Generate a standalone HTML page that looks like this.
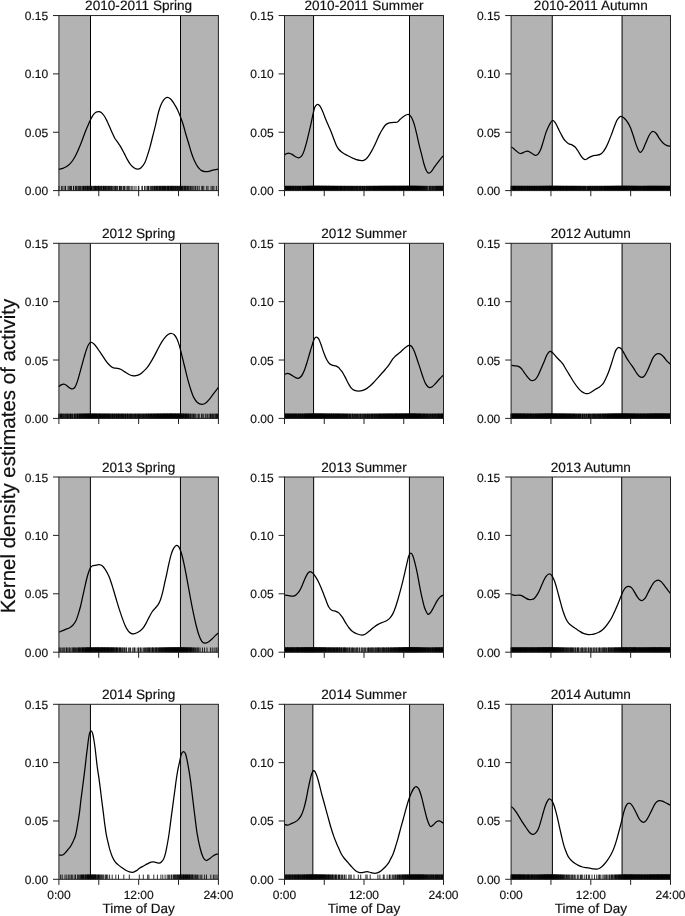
<!DOCTYPE html>
<html><head><meta charset="utf-8"><title>Kernel density estimates of activity</title>
<style>html,body{margin:0;padding:0;background:#fff;width:685px;height:916px;overflow:hidden}svg{display:block;will-change:transform}text{font-family:"Liberation Sans",sans-serif;text-rendering:geometricPrecision;stroke:#111;stroke-width:0.18px}</style>
</head><body>
<svg width="685" height="916" viewBox="0 0 685 916"><rect x="58.90" y="15.55" width="31.60" height="175.05" fill="#b3b3b3"/>
<rect x="180.50" y="15.55" width="37.90" height="175.05" fill="#b3b3b3"/>
<path d="M59.0 185.9v4.7M61.6 185.9v4.7M62.9 185.9v4.7M65.0 185.9v4.7M65.5 185.9v4.7M68.1 185.9v4.7M69.3 185.9v4.7M70.5 185.9v4.7M71.5 185.9v4.7M73.5 185.9v4.7M73.7 185.9v4.7M75.6 185.9v4.7M76.1 185.9v4.7M76.8 185.9v4.7M78.1 185.9v4.7M78.8 185.9v4.7M79.6 185.9v4.7M80.5 185.9v4.7M81.9 185.9v4.7M82.3 185.9v4.7M83.5 185.9v4.7M83.4 185.9v4.7M84.5 185.9v4.7M85.4 185.9v4.7M85.9 185.9v4.7M86.2 185.9v4.7M87.2 185.9v4.7M87.4 185.9v4.7M87.6 185.9v4.7M88.6 185.9v4.7M88.9 185.9v4.7M89.7 185.9v4.7M90.1 185.9v4.7M90.7 185.9v4.7M91.1 185.9v4.7M91.5 185.9v4.7M91.9 185.9v4.7M92.9 185.9v4.7M93.1 185.9v4.7M93.8 185.9v4.7M94.4 185.9v4.7M94.8 185.9v4.7M95.3 185.9v4.7M95.6 185.9v4.7M95.9 185.9v4.7M96.5 185.9v4.7M97.2 185.9v4.7M97.7 185.9v4.7M98.2 185.9v4.7M98.4 185.9v4.7M98.7 185.9v4.7M99.3 185.9v4.7M99.9 185.9v4.7M100.1 185.9v4.7M100.9 185.9v4.7M101.4 185.9v4.7M101.3 185.9v4.7M102.2 185.9v4.7M103.0 185.9v4.7M103.5 185.9v4.7M103.7 185.9v4.7M104.0 185.9v4.7M104.3 185.9v4.7M105.1 185.9v4.7M105.4 185.9v4.7M106.0 185.9v4.7M106.4 185.9v4.7M107.1 185.9v4.7M107.9 185.9v4.7M108.1 185.9v4.7M108.6 185.9v4.7M109.3 185.9v4.7M109.7 185.9v4.7M110.6 185.9v4.7M111.2 185.9v4.7M111.3 185.9v4.7M112.2 185.9v4.7M112.9 185.9v4.7M113.9 185.9v4.7M114.3 185.9v4.7M115.4 185.9v4.7M115.7 185.9v4.7M116.7 185.9v4.7M117.2 185.9v4.7M117.9 185.9v4.7M119.5 185.9v4.7M119.7 185.9v4.7M120.5 185.9v4.7M121.6 185.9v4.7M122.0 185.9v4.7M123.5 185.9v4.7M124.5 185.9v4.7M125.1 185.9v4.7M126.8 185.9v4.7M127.7 185.9v4.7M128.4 185.9v4.7M129.7 185.9v4.7M131.1 185.9v4.7M132.2 185.9v4.7M134.1 185.9v4.7M136.0 185.9v4.7M138.3 185.9v4.7M138.9 185.9v4.7M142.0 185.9v4.7M142.3 185.9v4.7M144.5 185.9v4.7M145.9 185.9v4.7M147.2 185.9v4.7M147.8 185.9v4.7M148.5 185.9v4.7M149.1 185.9v4.7M150.6 185.9v4.7M151.4 185.9v4.7M152.1 185.9v4.7M152.6 185.9v4.7M153.7 185.9v4.7M154.2 185.9v4.7M154.4 185.9v4.7M154.8 185.9v4.7M155.5 185.9v4.7M156.5 185.9v4.7M156.7 185.9v4.7M157.4 185.9v4.7M157.8 185.9v4.7M158.1 185.9v4.7M158.9 185.9v4.7M159.4 185.9v4.7M159.7 185.9v4.7M160.0 185.9v4.7M160.6 185.9v4.7M161.0 185.9v4.7M161.1 185.9v4.7M162.1 185.9v4.7M162.1 185.9v4.7M162.7 185.9v4.7M163.0 185.9v4.7M163.5 185.9v4.7M164.1 185.9v4.7M164.1 185.9v4.7M164.7 185.9v4.7M164.8 185.9v4.7M165.6 185.9v4.7M165.9 185.9v4.7M166.0 185.9v4.7M167.0 185.9v4.7M167.3 185.9v4.7M167.4 185.9v4.7M168.2 185.9v4.7M168.4 185.9v4.7M168.7 185.9v4.7M168.8 185.9v4.7M169.3 185.9v4.7M170.1 185.9v4.7M170.4 185.9v4.7M170.9 185.9v4.7M170.9 185.9v4.7M171.5 185.9v4.7M172.1 185.9v4.7M172.2 185.9v4.7M172.9 185.9v4.7M173.0 185.9v4.7M173.3 185.9v4.7M174.0 185.9v4.7M174.2 185.9v4.7M174.7 185.9v4.7M175.5 185.9v4.7M175.7 185.9v4.7M176.3 185.9v4.7M176.8 185.9v4.7M177.3 185.9v4.7M177.6 185.9v4.7M177.9 185.9v4.7M178.6 185.9v4.7M179.1 185.9v4.7M179.5 185.9v4.7M180.0 185.9v4.7M180.7 185.9v4.7M181.2 185.9v4.7M181.3 185.9v4.7M181.8 185.9v4.7M182.7 185.9v4.7M182.8 185.9v4.7M184.0 185.9v4.7M184.2 185.9v4.7M184.9 185.9v4.7M185.4 185.9v4.7M185.8 185.9v4.7M186.9 185.9v4.7M187.3 185.9v4.7M187.8 185.9v4.7M188.6 185.9v4.7M189.9 185.9v4.7M190.4 185.9v4.7M191.3 185.9v4.7M192.7 185.9v4.7M193.9 185.9v4.7M195.2 185.9v4.7M195.9 185.9v4.7M197.6 185.9v4.7M199.2 185.9v4.7M201.8 185.9v4.7M202.4 185.9v4.7M203.8 185.9v4.7M206.7 185.9v4.7M208.0 185.9v4.7M211.1 185.9v4.7M212.7 185.9v4.7M213.9 185.9v4.7M216.4 185.9v4.7M218.5 185.9v4.7" stroke="#000" stroke-width="0.9" stroke-opacity="0.9" fill="none"/>
<path d="M90.50,15.55V190.60M180.50,15.55V190.60" stroke="#000" stroke-width="1" fill="none"/>
<path d="M58.80,169.30 C59.57,169.10 61.85,168.72 63.40,168.10 C64.95,167.48 66.55,166.87 68.10,165.60 C69.65,164.33 71.32,162.43 72.70,160.50 C74.08,158.57 75.23,156.32 76.40,154.00 C77.57,151.68 78.62,149.22 79.70,146.60 C80.78,143.98 81.90,140.93 82.90,138.30 C83.90,135.67 84.77,133.13 85.70,130.80 C86.63,128.47 87.70,126.15 88.50,124.30 C89.30,122.45 89.73,121.23 90.50,119.70 C91.27,118.17 92.20,116.33 93.10,115.10 C94.00,113.87 94.97,112.88 95.90,112.30 C96.83,111.72 97.77,111.53 98.70,111.60 C99.63,111.67 100.57,111.97 101.50,112.70 C102.43,113.43 103.38,114.62 104.30,116.00 C105.22,117.38 106.13,119.25 107.00,121.00 C107.87,122.75 108.62,124.50 109.50,126.50 C110.38,128.50 111.42,131.03 112.30,133.00 C113.18,134.97 113.83,136.65 114.80,138.30 C115.77,139.95 117.08,141.43 118.10,142.90 C119.12,144.37 119.90,145.40 120.90,147.10 C121.90,148.80 123.02,151.02 124.10,153.10 C125.18,155.18 126.32,157.67 127.40,159.60 C128.48,161.53 129.45,163.30 130.60,164.70 C131.75,166.10 133.13,167.25 134.30,168.00 C135.47,168.75 136.52,169.20 137.60,169.20 C138.68,169.20 139.65,168.98 140.80,168.00 C141.95,167.02 143.42,165.32 144.50,163.30 C145.58,161.28 146.37,158.68 147.30,155.90 C148.23,153.12 149.17,150.00 150.10,146.60 C151.03,143.20 151.97,139.22 152.90,135.50 C153.83,131.78 154.80,128.05 155.70,124.30 C156.60,120.55 157.48,116.08 158.30,113.00 C159.12,109.92 159.67,108.02 160.60,105.80 C161.53,103.58 162.82,101.10 163.90,99.70 C164.98,98.30 165.98,97.52 167.10,97.40 C168.22,97.28 169.45,97.97 170.60,99.00 C171.75,100.03 172.83,101.78 174.00,103.60 C175.17,105.42 176.52,107.67 177.60,109.90 C178.68,112.13 179.55,114.48 180.50,117.00 C181.45,119.52 182.42,122.17 183.30,125.00 C184.18,127.83 184.92,130.95 185.80,134.00 C186.68,137.05 187.68,140.22 188.60,143.30 C189.52,146.38 190.38,149.72 191.30,152.50 C192.22,155.28 193.02,157.60 194.10,160.00 C195.18,162.40 196.55,165.13 197.80,166.90 C199.05,168.67 200.35,169.82 201.60,170.60 C202.85,171.38 204.07,171.48 205.30,171.60 C206.53,171.72 207.77,171.53 209.00,171.30 C210.23,171.07 211.15,170.55 212.70,170.20 C214.25,169.85 217.37,169.37 218.30,169.20" stroke="#000" stroke-width="1.25" fill="none" stroke-linejoin="round"/>
<rect x="58.90" y="15.55" width="159.50" height="175.05" fill="none" stroke="#222" stroke-width="1"/>
<path d="M53.00,190.60H58.90" stroke="#222" stroke-width="1"/>
<text x="48.10" y="195.10" font-size="12" text-anchor="end" font-family="Liberation Sans, sans-serif" fill="#111">0.00</text>
<path d="M53.00,132.25H58.90" stroke="#222" stroke-width="1"/>
<text x="48.10" y="136.75" font-size="12" text-anchor="end" font-family="Liberation Sans, sans-serif" fill="#111">0.05</text>
<path d="M53.00,73.90H58.90" stroke="#222" stroke-width="1"/>
<text x="48.10" y="78.40" font-size="12" text-anchor="end" font-family="Liberation Sans, sans-serif" fill="#111">0.10</text>
<path d="M53.00,15.55H58.90" stroke="#222" stroke-width="1"/>
<text x="48.10" y="20.05" font-size="12" text-anchor="end" font-family="Liberation Sans, sans-serif" fill="#111">0.15</text>
<path d="M58.90,190.60V196.20" stroke="#222" stroke-width="1"/>
<path d="M98.78,190.60V196.20" stroke="#222" stroke-width="1"/>
<path d="M138.65,190.60V196.20" stroke="#222" stroke-width="1"/>
<path d="M178.53,190.60V196.20" stroke="#222" stroke-width="1"/>
<path d="M218.40,190.60V196.20" stroke="#222" stroke-width="1"/>
<text x="138.65" y="10.15" font-size="13.6" text-anchor="middle" font-family="Liberation Sans, sans-serif" fill="#111">2010-2011 Spring</text>
<rect x="284.50" y="15.55" width="29.05" height="175.05" fill="#b3b3b3"/>
<rect x="409.50" y="15.55" width="34.00" height="175.05" fill="#b3b3b3"/>
<path d="M284.8 185.9v4.7M284.7 185.9v4.7M285.3 185.9v4.7M285.6 185.9v4.7M286.1 185.9v4.7M286.3 185.9v4.7M286.6 185.9v4.7M286.9 185.9v4.7M287.5 185.9v4.7M287.6 185.9v4.7M288.2 185.9v4.7M288.6 185.9v4.7M288.8 185.9v4.7M289.1 185.9v4.7M289.5 185.9v4.7M289.7 185.9v4.7M290.0 185.9v4.7M290.3 185.9v4.7M290.7 185.9v4.7M291.0 185.9v4.7M291.2 185.9v4.7M291.8 185.9v4.7M291.9 185.9v4.7M292.4 185.9v4.7M292.8 185.9v4.7M293.2 185.9v4.7M293.5 185.9v4.7M293.8 185.9v4.7M294.0 185.9v4.7M294.8 185.9v4.7M295.0 185.9v4.7M295.3 185.9v4.7M295.8 185.9v4.7M295.9 185.9v4.7M296.3 185.9v4.7M296.8 185.9v4.7M297.4 185.9v4.7M297.6 185.9v4.7M297.8 185.9v4.7M298.2 185.9v4.7M298.7 185.9v4.7M298.9 185.9v4.7M299.5 185.9v4.7M299.7 185.9v4.7M300.3 185.9v4.7M300.5 185.9v4.7M300.9 185.9v4.7M300.9 185.9v4.7M301.8 185.9v4.7M302.3 185.9v4.7M302.5 185.9v4.7M302.7 185.9v4.7M303.4 185.9v4.7M303.2 185.9v4.7M303.8 185.9v4.7M303.9 185.9v4.7M304.2 185.9v4.7M304.6 185.9v4.7M305.1 185.9v4.7M305.3 185.9v4.7M305.6 185.9v4.7M305.8 185.9v4.7M306.0 185.9v4.7M306.3 185.9v4.7M306.8 185.9v4.7M307.1 185.9v4.7M307.3 185.9v4.7M307.2 185.9v4.7M307.8 185.9v4.7M307.7 185.9v4.7M308.2 185.9v4.7M308.1 185.9v4.7M308.6 185.9v4.7M308.7 185.9v4.7M308.9 185.9v4.7M309.4 185.9v4.7M309.5 185.9v4.7M309.8 185.9v4.7M309.7 185.9v4.7M309.9 185.9v4.7M310.1 185.9v4.7M310.5 185.9v4.7M310.6 185.9v4.7M310.8 185.9v4.7M311.1 185.9v4.7M311.0 185.9v4.7M311.3 185.9v4.7M311.6 185.9v4.7M311.7 185.9v4.7M311.9 185.9v4.7M312.1 185.9v4.7M312.3 185.9v4.7M312.5 185.9v4.7M312.6 185.9v4.7M312.7 185.9v4.7M312.9 185.9v4.7M313.2 185.9v4.7M313.3 185.9v4.7M313.4 185.9v4.7M313.4 185.9v4.7M313.8 185.9v4.7M313.8 185.9v4.7M314.1 185.9v4.7M314.2 185.9v4.7M314.2 185.9v4.7M314.4 185.9v4.7M314.4 185.9v4.7M314.8 185.9v4.7M314.9 185.9v4.7M315.3 185.9v4.7M315.3 185.9v4.7M315.6 185.9v4.7M315.5 185.9v4.7M315.7 185.9v4.7M315.7 185.9v4.7M315.9 185.9v4.7M316.2 185.9v4.7M316.2 185.9v4.7M316.5 185.9v4.7M316.6 185.9v4.7M316.6 185.9v4.7M317.1 185.9v4.7M317.0 185.9v4.7M317.4 185.9v4.7M317.3 185.9v4.7M317.4 185.9v4.7M317.6 185.9v4.7M317.8 185.9v4.7M317.7 185.9v4.7M318.0 185.9v4.7M318.3 185.9v4.7M318.1 185.9v4.7M318.4 185.9v4.7M318.4 185.9v4.7M318.6 185.9v4.7M319.1 185.9v4.7M319.1 185.9v4.7M319.2 185.9v4.7M319.6 185.9v4.7M319.4 185.9v4.7M319.6 185.9v4.7M319.7 185.9v4.7M320.0 185.9v4.7M319.9 185.9v4.7M320.2 185.9v4.7M320.6 185.9v4.7M320.5 185.9v4.7M320.8 185.9v4.7M321.1 185.9v4.7M321.1 185.9v4.7M321.4 185.9v4.7M321.6 185.9v4.7M321.4 185.9v4.7M321.7 185.9v4.7M321.9 185.9v4.7M322.0 185.9v4.7M321.9 185.9v4.7M322.3 185.9v4.7M322.4 185.9v4.7M322.4 185.9v4.7M322.7 185.9v4.7M322.7 185.9v4.7M323.0 185.9v4.7M323.3 185.9v4.7M323.6 185.9v4.7M323.5 185.9v4.7M323.8 185.9v4.7M323.7 185.9v4.7M324.1 185.9v4.7M324.2 185.9v4.7M324.5 185.9v4.7M324.6 185.9v4.7M324.8 185.9v4.7M325.1 185.9v4.7M324.9 185.9v4.7M325.2 185.9v4.7M325.4 185.9v4.7M325.5 185.9v4.7M325.8 185.9v4.7M326.0 185.9v4.7M326.0 185.9v4.7M326.3 185.9v4.7M326.5 185.9v4.7M326.6 185.9v4.7M326.7 185.9v4.7M327.1 185.9v4.7M327.3 185.9v4.7M327.6 185.9v4.7M327.9 185.9v4.7M327.8 185.9v4.7M328.0 185.9v4.7M328.4 185.9v4.7M328.5 185.9v4.7M328.5 185.9v4.7M328.8 185.9v4.7M329.0 185.9v4.7M329.3 185.9v4.7M329.2 185.9v4.7M329.5 185.9v4.7M329.7 185.9v4.7M330.1 185.9v4.7M329.9 185.9v4.7M330.2 185.9v4.7M330.4 185.9v4.7M330.8 185.9v4.7M330.6 185.9v4.7M331.3 185.9v4.7M331.3 185.9v4.7M331.5 185.9v4.7M332.1 185.9v4.7M332.1 185.9v4.7M332.3 185.9v4.7M332.5 185.9v4.7M332.8 185.9v4.7M333.1 185.9v4.7M333.3 185.9v4.7M333.4 185.9v4.7M333.6 185.9v4.7M334.0 185.9v4.7M334.2 185.9v4.7M334.6 185.9v4.7M334.6 185.9v4.7M335.0 185.9v4.7M335.0 185.9v4.7M335.4 185.9v4.7M335.5 185.9v4.7M336.1 185.9v4.7M336.5 185.9v4.7M336.5 185.9v4.7M336.8 185.9v4.7M337.4 185.9v4.7M337.3 185.9v4.7M337.7 185.9v4.7M338.0 185.9v4.7M338.4 185.9v4.7M338.5 185.9v4.7M339.1 185.9v4.7M339.2 185.9v4.7M339.6 185.9v4.7M340.0 185.9v4.7M340.4 185.9v4.7M340.5 185.9v4.7M340.8 185.9v4.7M341.1 185.9v4.7M341.5 185.9v4.7M341.7 185.9v4.7M342.0 185.9v4.7M342.2 185.9v4.7M342.8 185.9v4.7M342.9 185.9v4.7M343.4 185.9v4.7M343.8 185.9v4.7M344.2 185.9v4.7M344.5 185.9v4.7M344.7 185.9v4.7M345.3 185.9v4.7M345.2 185.9v4.7M345.9 185.9v4.7M345.9 185.9v4.7M346.6 185.9v4.7M346.8 185.9v4.7M347.2 185.9v4.7M347.6 185.9v4.7M348.0 185.9v4.7M348.4 185.9v4.7M348.7 185.9v4.7M349.0 185.9v4.7M349.4 185.9v4.7M349.7 185.9v4.7M350.1 185.9v4.7M350.6 185.9v4.7M350.9 185.9v4.7M351.3 185.9v4.7M351.5 185.9v4.7M352.2 185.9v4.7M352.4 185.9v4.7M352.8 185.9v4.7M353.0 185.9v4.7M353.6 185.9v4.7M353.9 185.9v4.7M354.3 185.9v4.7M354.7 185.9v4.7M355.2 185.9v4.7M355.4 185.9v4.7M356.0 185.9v4.7M356.6 185.9v4.7M356.8 185.9v4.7M357.1 185.9v4.7M357.7 185.9v4.7M357.8 185.9v4.7M358.2 185.9v4.7M358.8 185.9v4.7M359.4 185.9v4.7M359.8 185.9v4.7M360.0 185.9v4.7M360.3 185.9v4.7M360.7 185.9v4.7M361.2 185.9v4.7M361.8 185.9v4.7M362.1 185.9v4.7M362.5 185.9v4.7M362.7 185.9v4.7M363.5 185.9v4.7M364.1 185.9v4.7M364.2 185.9v4.7M364.4 185.9v4.7M364.7 185.9v4.7M365.3 185.9v4.7M366.0 185.9v4.7M366.2 185.9v4.7M366.5 185.9v4.7M367.2 185.9v4.7M367.1 185.9v4.7M367.8 185.9v4.7M367.9 185.9v4.7M368.6 185.9v4.7M368.8 185.9v4.7M369.1 185.9v4.7M369.4 185.9v4.7M369.8 185.9v4.7M370.1 185.9v4.7M370.6 185.9v4.7M370.7 185.9v4.7M371.1 185.9v4.7M371.4 185.9v4.7M371.9 185.9v4.7M372.2 185.9v4.7M372.4 185.9v4.7M372.7 185.9v4.7M373.2 185.9v4.7M373.5 185.9v4.7M373.8 185.9v4.7M374.0 185.9v4.7M374.3 185.9v4.7M374.5 185.9v4.7M374.7 185.9v4.7M375.3 185.9v4.7M375.1 185.9v4.7M375.4 185.9v4.7M375.7 185.9v4.7M376.2 185.9v4.7M376.3 185.9v4.7M376.7 185.9v4.7M376.7 185.9v4.7M377.3 185.9v4.7M377.6 185.9v4.7M377.8 185.9v4.7M377.7 185.9v4.7M378.2 185.9v4.7M378.4 185.9v4.7M378.7 185.9v4.7M379.1 185.9v4.7M379.1 185.9v4.7M379.3 185.9v4.7M379.5 185.9v4.7M379.8 185.9v4.7M380.0 185.9v4.7M380.3 185.9v4.7M380.4 185.9v4.7M380.8 185.9v4.7M380.8 185.9v4.7M381.0 185.9v4.7M381.3 185.9v4.7M381.6 185.9v4.7M381.8 185.9v4.7M381.7 185.9v4.7M382.0 185.9v4.7M382.1 185.9v4.7M382.4 185.9v4.7M382.7 185.9v4.7M382.9 185.9v4.7M383.3 185.9v4.7M383.3 185.9v4.7M383.6 185.9v4.7M383.8 185.9v4.7M383.7 185.9v4.7M384.3 185.9v4.7M384.3 185.9v4.7M384.5 185.9v4.7M384.8 185.9v4.7M384.7 185.9v4.7M385.0 185.9v4.7M385.2 185.9v4.7M385.5 185.9v4.7M385.6 185.9v4.7M385.8 185.9v4.7M386.0 185.9v4.7M386.2 185.9v4.7M386.6 185.9v4.7M386.6 185.9v4.7M386.8 185.9v4.7M387.1 185.9v4.7M387.0 185.9v4.7M387.5 185.9v4.7M387.5 185.9v4.7M387.7 185.9v4.7M388.1 185.9v4.7M388.0 185.9v4.7M388.3 185.9v4.7M388.6 185.9v4.7M388.5 185.9v4.7M388.6 185.9v4.7M388.9 185.9v4.7M389.3 185.9v4.7M389.4 185.9v4.7M389.6 185.9v4.7M389.9 185.9v4.7M390.0 185.9v4.7M390.3 185.9v4.7M390.5 185.9v4.7M390.4 185.9v4.7M390.9 185.9v4.7M391.0 185.9v4.7M390.9 185.9v4.7M391.4 185.9v4.7M391.4 185.9v4.7M391.8 185.9v4.7M391.8 185.9v4.7M392.1 185.9v4.7M392.3 185.9v4.7M392.5 185.9v4.7M392.6 185.9v4.7M392.8 185.9v4.7M393.0 185.9v4.7M393.2 185.9v4.7M393.4 185.9v4.7M393.6 185.9v4.7M393.7 185.9v4.7M393.8 185.9v4.7M394.0 185.9v4.7M394.3 185.9v4.7M394.5 185.9v4.7M394.4 185.9v4.7M394.7 185.9v4.7M395.1 185.9v4.7M394.9 185.9v4.7M395.3 185.9v4.7M395.5 185.9v4.7M395.7 185.9v4.7M395.7 185.9v4.7M395.9 185.9v4.7M396.2 185.9v4.7M396.2 185.9v4.7M396.6 185.9v4.7M396.7 185.9v4.7M397.1 185.9v4.7M397.3 185.9v4.7M397.2 185.9v4.7M397.4 185.9v4.7M397.6 185.9v4.7M398.0 185.9v4.7M398.0 185.9v4.7M398.3 185.9v4.7M398.2 185.9v4.7M398.4 185.9v4.7M398.9 185.9v4.7M399.1 185.9v4.7M399.1 185.9v4.7M399.3 185.9v4.7M399.6 185.9v4.7M399.7 185.9v4.7M399.8 185.9v4.7M400.0 185.9v4.7M400.2 185.9v4.7M400.3 185.9v4.7M400.6 185.9v4.7M400.8 185.9v4.7M400.8 185.9v4.7M400.9 185.9v4.7M401.3 185.9v4.7M401.6 185.9v4.7M401.8 185.9v4.7M401.9 185.9v4.7M402.1 185.9v4.7M401.9 185.9v4.7M402.2 185.9v4.7M402.5 185.9v4.7M402.8 185.9v4.7M402.8 185.9v4.7M403.1 185.9v4.7M403.3 185.9v4.7M403.6 185.9v4.7M403.4 185.9v4.7M403.6 185.9v4.7M403.8 185.9v4.7M403.9 185.9v4.7M404.3 185.9v4.7M404.4 185.9v4.7M404.4 185.9v4.7M404.6 185.9v4.7M404.7 185.9v4.7M405.0 185.9v4.7M405.3 185.9v4.7M405.2 185.9v4.7M405.6 185.9v4.7M405.8 185.9v4.7M405.8 185.9v4.7M406.1 185.9v4.7M406.2 185.9v4.7M406.4 185.9v4.7M406.5 185.9v4.7M406.8 185.9v4.7M406.9 185.9v4.7M407.1 185.9v4.7M407.2 185.9v4.7M407.5 185.9v4.7M407.5 185.9v4.7M407.7 185.9v4.7M407.8 185.9v4.7M407.9 185.9v4.7M408.3 185.9v4.7M408.3 185.9v4.7M408.6 185.9v4.7M408.9 185.9v4.7M409.0 185.9v4.7M409.0 185.9v4.7M409.1 185.9v4.7M409.2 185.9v4.7M409.5 185.9v4.7M409.7 185.9v4.7M409.8 185.9v4.7M410.0 185.9v4.7M410.1 185.9v4.7M410.2 185.9v4.7M410.6 185.9v4.7M410.7 185.9v4.7M410.8 185.9v4.7M411.1 185.9v4.7M411.3 185.9v4.7M411.1 185.9v4.7M411.6 185.9v4.7M411.9 185.9v4.7M412.0 185.9v4.7M411.9 185.9v4.7M412.4 185.9v4.7M412.1 185.9v4.7M412.6 185.9v4.7M412.7 185.9v4.7M413.0 185.9v4.7M413.2 185.9v4.7M413.6 185.9v4.7M413.4 185.9v4.7M413.9 185.9v4.7M413.9 185.9v4.7M414.0 185.9v4.7M414.1 185.9v4.7M414.6 185.9v4.7M414.6 185.9v4.7M414.8 185.9v4.7M415.0 185.9v4.7M415.2 185.9v4.7M415.2 185.9v4.7M415.7 185.9v4.7M415.7 185.9v4.7M416.1 185.9v4.7M416.4 185.9v4.7M416.4 185.9v4.7M416.6 185.9v4.7M416.9 185.9v4.7M417.0 185.9v4.7M417.3 185.9v4.7M417.6 185.9v4.7M417.8 185.9v4.7M417.9 185.9v4.7M418.2 185.9v4.7M418.5 185.9v4.7M418.7 185.9v4.7M419.2 185.9v4.7M419.5 185.9v4.7M419.6 185.9v4.7M419.9 185.9v4.7M420.3 185.9v4.7M420.7 185.9v4.7M421.0 185.9v4.7M421.2 185.9v4.7M421.8 185.9v4.7M422.3 185.9v4.7M422.3 185.9v4.7M422.7 185.9v4.7M423.3 185.9v4.7M423.7 185.9v4.7M424.1 185.9v4.7M424.5 185.9v4.7M425.1 185.9v4.7M425.7 185.9v4.7M426.0 185.9v4.7M426.5 185.9v4.7M427.7 185.9v4.7M428.0 185.9v4.7M429.3 185.9v4.7M429.7 185.9v4.7M430.3 185.9v4.7M430.8 185.9v4.7M431.3 185.9v4.7M432.2 185.9v4.7M432.5 185.9v4.7M433.6 185.9v4.7M434.2 185.9v4.7M434.2 185.9v4.7M435.3 185.9v4.7M435.3 185.9v4.7M436.3 185.9v4.7M436.6 185.9v4.7M436.9 185.9v4.7M437.5 185.9v4.7M438.0 185.9v4.7M438.2 185.9v4.7M438.7 185.9v4.7M439.1 185.9v4.7M439.6 185.9v4.7M440.0 185.9v4.7M440.4 185.9v4.7M440.7 185.9v4.7M441.1 185.9v4.7M441.8 185.9v4.7M441.8 185.9v4.7M442.2 185.9v4.7M442.6 185.9v4.7M443.0 185.9v4.7M443.5 185.9v4.7" stroke="#000" stroke-width="0.9" stroke-opacity="0.9" fill="none"/>
<path d="M313.55,15.55V190.60M409.50,15.55V190.60" stroke="#000" stroke-width="1" fill="none"/>
<path d="M284.50,154.90 C284.85,154.68 285.78,153.87 286.60,153.60 C287.42,153.33 288.47,153.17 289.40,153.30 C290.33,153.43 291.18,153.83 292.20,154.40 C293.22,154.97 294.42,156.13 295.50,156.70 C296.58,157.27 297.70,157.88 298.70,157.80 C299.70,157.72 300.65,157.23 301.50,156.20 C302.35,155.17 303.03,153.60 303.80,151.60 C304.57,149.60 305.33,146.98 306.10,144.20 C306.87,141.42 307.62,138.15 308.40,134.90 C309.18,131.65 310.02,128.25 310.80,124.70 C311.58,121.15 312.42,116.53 313.10,113.60 C313.78,110.67 314.17,108.65 314.90,107.10 C315.63,105.55 316.65,104.47 317.50,104.30 C318.35,104.13 319.12,104.87 320.00,106.10 C320.88,107.33 321.87,109.53 322.80,111.70 C323.73,113.87 324.67,116.78 325.60,119.10 C326.53,121.42 327.47,123.43 328.40,125.60 C329.33,127.77 330.27,129.78 331.20,132.10 C332.13,134.42 333.12,137.22 334.00,139.50 C334.88,141.78 335.75,144.22 336.50,145.80 C337.25,147.38 337.65,147.95 338.50,149.00 C339.35,150.05 340.47,151.20 341.60,152.10 C342.73,153.00 344.07,153.72 345.30,154.40 C346.53,155.08 347.77,155.58 349.00,156.20 C350.23,156.82 351.47,157.52 352.70,158.10 C353.93,158.68 355.23,159.32 356.40,159.70 C357.57,160.08 358.62,160.25 359.70,160.40 C360.78,160.55 361.90,160.78 362.90,160.60 C363.90,160.42 364.77,160.03 365.70,159.30 C366.63,158.57 367.57,157.48 368.50,156.20 C369.43,154.92 370.38,153.22 371.30,151.60 C372.22,149.98 373.08,148.35 374.00,146.50 C374.92,144.65 375.87,142.52 376.80,140.50 C377.73,138.48 378.67,136.27 379.60,134.40 C380.53,132.53 381.47,130.83 382.40,129.30 C383.33,127.77 384.27,126.20 385.20,125.20 C386.13,124.20 386.92,123.73 388.00,123.30 C389.08,122.87 390.53,122.75 391.70,122.60 C392.87,122.45 394.03,122.50 395.00,122.40 C395.97,122.30 396.63,122.52 397.50,122.00 C398.37,121.48 399.13,120.27 400.20,119.30 C401.27,118.33 402.67,117.00 403.90,116.20 C405.13,115.40 406.58,114.63 407.60,114.50 C408.62,114.37 409.22,114.63 410.00,115.40 C410.78,116.17 411.53,117.40 412.30,119.10 C413.07,120.80 413.83,122.97 414.60,125.60 C415.37,128.23 416.13,131.65 416.90,134.90 C417.67,138.15 418.42,141.85 419.20,145.10 C419.98,148.35 420.82,151.30 421.60,154.40 C422.38,157.50 423.13,161.07 423.90,163.70 C424.67,166.33 425.43,168.62 426.20,170.20 C426.97,171.78 427.65,172.97 428.50,173.20 C429.35,173.43 430.30,172.65 431.30,171.60 C432.30,170.55 433.33,168.53 434.50,166.90 C435.67,165.27 437.05,163.42 438.30,161.80 C439.55,160.18 441.13,158.20 442.00,157.20 C442.87,156.20 443.25,156.03 443.50,155.80" stroke="#000" stroke-width="1.25" fill="none" stroke-linejoin="round"/>
<rect x="284.50" y="15.55" width="159.00" height="175.05" fill="none" stroke="#222" stroke-width="1"/>
<path d="M278.60,190.60H284.50" stroke="#222" stroke-width="1"/>
<text x="273.70" y="195.10" font-size="12" text-anchor="end" font-family="Liberation Sans, sans-serif" fill="#111">0.00</text>
<path d="M278.60,132.25H284.50" stroke="#222" stroke-width="1"/>
<text x="273.70" y="136.75" font-size="12" text-anchor="end" font-family="Liberation Sans, sans-serif" fill="#111">0.05</text>
<path d="M278.60,73.90H284.50" stroke="#222" stroke-width="1"/>
<text x="273.70" y="78.40" font-size="12" text-anchor="end" font-family="Liberation Sans, sans-serif" fill="#111">0.10</text>
<path d="M278.60,15.55H284.50" stroke="#222" stroke-width="1"/>
<text x="273.70" y="20.05" font-size="12" text-anchor="end" font-family="Liberation Sans, sans-serif" fill="#111">0.15</text>
<path d="M284.50,190.60V196.20" stroke="#222" stroke-width="1"/>
<path d="M324.25,190.60V196.20" stroke="#222" stroke-width="1"/>
<path d="M364.00,190.60V196.20" stroke="#222" stroke-width="1"/>
<path d="M403.75,190.60V196.20" stroke="#222" stroke-width="1"/>
<path d="M443.50,190.60V196.20" stroke="#222" stroke-width="1"/>
<text x="364.00" y="10.15" font-size="13.6" text-anchor="middle" font-family="Liberation Sans, sans-serif" fill="#111">2010-2011 Summer</text>
<rect x="511.10" y="15.55" width="41.15" height="175.05" fill="#b3b3b3"/>
<rect x="622.05" y="15.55" width="48.45" height="175.05" fill="#b3b3b3"/>
<path d="M511.1 185.9v4.7M511.3 185.9v4.7M511.5 185.9v4.7M511.8 185.9v4.7M512.1 185.9v4.7M512.7 185.9v4.7M512.9 185.9v4.7M513.3 185.9v4.7M513.3 185.9v4.7M513.6 185.9v4.7M514.0 185.9v4.7M514.5 185.9v4.7M514.5 185.9v4.7M514.9 185.9v4.7M515.2 185.9v4.7M515.4 185.9v4.7M515.7 185.9v4.7M516.0 185.9v4.7M516.3 185.9v4.7M516.8 185.9v4.7M517.0 185.9v4.7M517.5 185.9v4.7M517.8 185.9v4.7M518.1 185.9v4.7M518.3 185.9v4.7M518.9 185.9v4.7M519.0 185.9v4.7M519.5 185.9v4.7M519.9 185.9v4.7M519.9 185.9v4.7M520.2 185.9v4.7M520.6 185.9v4.7M521.1 185.9v4.7M521.6 185.9v4.7M521.5 185.9v4.7M522.0 185.9v4.7M522.7 185.9v4.7M522.5 185.9v4.7M523.1 185.9v4.7M523.2 185.9v4.7M523.5 185.9v4.7M524.1 185.9v4.7M524.6 185.9v4.7M524.9 185.9v4.7M525.1 185.9v4.7M525.4 185.9v4.7M525.9 185.9v4.7M526.0 185.9v4.7M526.2 185.9v4.7M526.9 185.9v4.7M527.2 185.9v4.7M527.3 185.9v4.7M527.6 185.9v4.7M527.8 185.9v4.7M528.0 185.9v4.7M528.4 185.9v4.7M528.9 185.9v4.7M529.1 185.9v4.7M529.5 185.9v4.7M529.6 185.9v4.7M530.1 185.9v4.7M530.4 185.9v4.7M530.8 185.9v4.7M531.2 185.9v4.7M531.7 185.9v4.7M531.7 185.9v4.7M532.1 185.9v4.7M532.7 185.9v4.7M532.6 185.9v4.7M533.4 185.9v4.7M533.7 185.9v4.7M533.9 185.9v4.7M534.3 185.9v4.7M534.5 185.9v4.7M534.5 185.9v4.7M535.5 185.9v4.7M535.3 185.9v4.7M536.1 185.9v4.7M536.3 185.9v4.7M536.5 185.9v4.7M537.0 185.9v4.7M537.0 185.9v4.7M537.7 185.9v4.7M537.8 185.9v4.7M538.4 185.9v4.7M538.9 185.9v4.7M539.1 185.9v4.7M539.4 185.9v4.7M539.6 185.9v4.7M539.8 185.9v4.7M540.2 185.9v4.7M540.7 185.9v4.7M540.8 185.9v4.7M541.1 185.9v4.7M541.3 185.9v4.7M541.9 185.9v4.7M542.0 185.9v4.7M542.3 185.9v4.7M542.6 185.9v4.7M542.9 185.9v4.7M543.2 185.9v4.7M543.3 185.9v4.7M543.5 185.9v4.7M543.9 185.9v4.7M544.0 185.9v4.7M544.4 185.9v4.7M544.7 185.9v4.7M544.9 185.9v4.7M545.1 185.9v4.7M545.2 185.9v4.7M545.4 185.9v4.7M545.7 185.9v4.7M545.8 185.9v4.7M546.2 185.9v4.7M546.3 185.9v4.7M546.7 185.9v4.7M546.6 185.9v4.7M546.8 185.9v4.7M547.3 185.9v4.7M547.4 185.9v4.7M547.6 185.9v4.7M547.9 185.9v4.7M547.8 185.9v4.7M548.1 185.9v4.7M548.4 185.9v4.7M548.6 185.9v4.7M549.0 185.9v4.7M548.9 185.9v4.7M549.2 185.9v4.7M549.4 185.9v4.7M549.6 185.9v4.7M549.9 185.9v4.7M549.8 185.9v4.7M550.1 185.9v4.7M550.4 185.9v4.7M550.4 185.9v4.7M550.7 185.9v4.7M550.8 185.9v4.7M551.1 185.9v4.7M551.0 185.9v4.7M551.3 185.9v4.7M551.6 185.9v4.7M552.0 185.9v4.7M552.0 185.9v4.7M552.1 185.9v4.7M552.0 185.9v4.7M552.5 185.9v4.7M552.6 185.9v4.7M553.0 185.9v4.7M552.8 185.9v4.7M553.3 185.9v4.7M553.4 185.9v4.7M553.6 185.9v4.7M553.6 185.9v4.7M553.9 185.9v4.7M554.1 185.9v4.7M554.4 185.9v4.7M554.5 185.9v4.7M554.5 185.9v4.7M554.8 185.9v4.7M554.9 185.9v4.7M555.1 185.9v4.7M555.4 185.9v4.7M555.7 185.9v4.7M555.7 185.9v4.7M555.8 185.9v4.7M556.0 185.9v4.7M556.4 185.9v4.7M556.3 185.9v4.7M556.8 185.9v4.7M556.9 185.9v4.7M557.0 185.9v4.7M557.3 185.9v4.7M557.6 185.9v4.7M557.5 185.9v4.7M557.8 185.9v4.7M558.1 185.9v4.7M558.3 185.9v4.7M558.3 185.9v4.7M558.6 185.9v4.7M558.8 185.9v4.7M559.1 185.9v4.7M559.4 185.9v4.7M559.3 185.9v4.7M559.7 185.9v4.7M559.8 185.9v4.7M560.0 185.9v4.7M560.4 185.9v4.7M560.3 185.9v4.7M560.5 185.9v4.7M560.8 185.9v4.7M561.0 185.9v4.7M561.3 185.9v4.7M561.6 185.9v4.7M561.8 185.9v4.7M562.0 185.9v4.7M562.3 185.9v4.7M562.6 185.9v4.7M562.8 185.9v4.7M563.2 185.9v4.7M563.4 185.9v4.7M563.6 185.9v4.7M563.8 185.9v4.7M563.8 185.9v4.7M564.0 185.9v4.7M564.3 185.9v4.7M564.8 185.9v4.7M565.2 185.9v4.7M565.3 185.9v4.7M565.6 185.9v4.7M565.6 185.9v4.7M566.1 185.9v4.7M566.4 185.9v4.7M566.3 185.9v4.7M566.6 185.9v4.7M567.0 185.9v4.7M567.2 185.9v4.7M567.6 185.9v4.7M567.9 185.9v4.7M567.7 185.9v4.7M568.3 185.9v4.7M568.6 185.9v4.7M568.9 185.9v4.7M569.1 185.9v4.7M569.4 185.9v4.7M569.7 185.9v4.7M569.8 185.9v4.7M570.1 185.9v4.7M570.4 185.9v4.7M571.0 185.9v4.7M570.8 185.9v4.7M571.3 185.9v4.7M571.5 185.9v4.7M571.8 185.9v4.7M571.8 185.9v4.7M572.4 185.9v4.7M572.5 185.9v4.7M572.8 185.9v4.7M573.1 185.9v4.7M573.5 185.9v4.7M573.6 185.9v4.7M574.0 185.9v4.7M574.3 185.9v4.7M574.6 185.9v4.7M574.8 185.9v4.7M575.2 185.9v4.7M575.5 185.9v4.7M575.7 185.9v4.7M576.0 185.9v4.7M576.3 185.9v4.7M576.7 185.9v4.7M577.0 185.9v4.7M577.0 185.9v4.7M577.7 185.9v4.7M577.9 185.9v4.7M578.0 185.9v4.7M578.3 185.9v4.7M578.8 185.9v4.7M579.1 185.9v4.7M579.2 185.9v4.7M579.5 185.9v4.7M580.1 185.9v4.7M580.6 185.9v4.7M580.7 185.9v4.7M581.2 185.9v4.7M581.7 185.9v4.7M581.9 185.9v4.7M582.4 185.9v4.7M582.9 185.9v4.7M583.0 185.9v4.7M583.4 185.9v4.7M583.9 185.9v4.7M584.2 185.9v4.7M584.6 185.9v4.7M585.0 185.9v4.7M585.3 185.9v4.7M585.8 185.9v4.7M586.0 185.9v4.7M587.0 185.9v4.7M587.1 185.9v4.7M587.3 185.9v4.7M587.9 185.9v4.7M588.4 185.9v4.7M588.6 185.9v4.7M589.1 185.9v4.7M589.4 185.9v4.7M589.5 185.9v4.7M590.2 185.9v4.7M590.3 185.9v4.7M590.7 185.9v4.7M591.1 185.9v4.7M591.4 185.9v4.7M592.0 185.9v4.7M592.1 185.9v4.7M592.6 185.9v4.7M592.7 185.9v4.7M593.3 185.9v4.7M593.8 185.9v4.7M594.0 185.9v4.7M594.5 185.9v4.7M594.9 185.9v4.7M595.0 185.9v4.7M595.6 185.9v4.7M595.8 185.9v4.7M596.1 185.9v4.7M596.6 185.9v4.7M596.9 185.9v4.7M597.3 185.9v4.7M597.6 185.9v4.7M597.8 185.9v4.7M598.4 185.9v4.7M598.8 185.9v4.7M599.2 185.9v4.7M599.3 185.9v4.7M599.7 185.9v4.7M600.2 185.9v4.7M600.4 185.9v4.7M600.9 185.9v4.7M601.0 185.9v4.7M601.4 185.9v4.7M601.7 185.9v4.7M602.0 185.9v4.7M602.5 185.9v4.7M602.9 185.9v4.7M602.9 185.9v4.7M603.4 185.9v4.7M604.0 185.9v4.7M603.9 185.9v4.7M604.4 185.9v4.7M604.5 185.9v4.7M604.8 185.9v4.7M605.1 185.9v4.7M605.4 185.9v4.7M605.5 185.9v4.7M606.0 185.9v4.7M606.4 185.9v4.7M606.5 185.9v4.7M606.9 185.9v4.7M607.2 185.9v4.7M607.5 185.9v4.7M607.6 185.9v4.7M607.8 185.9v4.7M608.4 185.9v4.7M608.4 185.9v4.7M608.6 185.9v4.7M609.1 185.9v4.7M609.3 185.9v4.7M609.4 185.9v4.7M609.9 185.9v4.7M610.0 185.9v4.7M610.2 185.9v4.7M610.3 185.9v4.7M610.6 185.9v4.7M611.1 185.9v4.7M611.1 185.9v4.7M611.4 185.9v4.7M611.6 185.9v4.7M611.9 185.9v4.7M612.2 185.9v4.7M612.4 185.9v4.7M612.2 185.9v4.7M612.8 185.9v4.7M612.8 185.9v4.7M613.1 185.9v4.7M613.4 185.9v4.7M613.6 185.9v4.7M613.5 185.9v4.7M613.8 185.9v4.7M614.1 185.9v4.7M614.4 185.9v4.7M614.4 185.9v4.7M614.7 185.9v4.7M615.0 185.9v4.7M615.0 185.9v4.7M615.1 185.9v4.7M615.3 185.9v4.7M615.6 185.9v4.7M615.9 185.9v4.7M615.9 185.9v4.7M616.2 185.9v4.7M616.5 185.9v4.7M616.5 185.9v4.7M616.9 185.9v4.7M616.8 185.9v4.7M617.0 185.9v4.7M617.3 185.9v4.7M617.5 185.9v4.7M617.5 185.9v4.7M618.0 185.9v4.7M617.9 185.9v4.7M618.0 185.9v4.7M618.3 185.9v4.7M618.4 185.9v4.7M618.5 185.9v4.7M618.8 185.9v4.7M618.7 185.9v4.7M619.1 185.9v4.7M619.4 185.9v4.7M619.7 185.9v4.7M619.5 185.9v4.7M619.9 185.9v4.7M619.9 185.9v4.7M620.4 185.9v4.7M620.3 185.9v4.7M620.7 185.9v4.7M620.6 185.9v4.7M620.8 185.9v4.7M621.2 185.9v4.7M621.0 185.9v4.7M621.3 185.9v4.7M621.3 185.9v4.7M621.7 185.9v4.7M621.9 185.9v4.7M622.2 185.9v4.7M622.0 185.9v4.7M622.4 185.9v4.7M622.6 185.9v4.7M622.6 185.9v4.7M622.9 185.9v4.7M623.0 185.9v4.7M623.0 185.9v4.7M623.4 185.9v4.7M623.5 185.9v4.7M623.8 185.9v4.7M623.8 185.9v4.7M624.0 185.9v4.7M624.4 185.9v4.7M624.3 185.9v4.7M624.5 185.9v4.7M624.7 185.9v4.7M625.0 185.9v4.7M625.1 185.9v4.7M625.3 185.9v4.7M625.5 185.9v4.7M625.7 185.9v4.7M625.9 185.9v4.7M626.0 185.9v4.7M626.2 185.9v4.7M626.3 185.9v4.7M626.7 185.9v4.7M626.5 185.9v4.7M626.8 185.9v4.7M627.0 185.9v4.7M627.3 185.9v4.7M627.3 185.9v4.7M627.6 185.9v4.7M627.9 185.9v4.7M628.0 185.9v4.7M628.1 185.9v4.7M628.4 185.9v4.7M628.5 185.9v4.7M628.6 185.9v4.7M628.8 185.9v4.7M629.2 185.9v4.7M629.4 185.9v4.7M629.5 185.9v4.7M629.5 185.9v4.7M629.8 185.9v4.7M630.0 185.9v4.7M630.1 185.9v4.7M630.7 185.9v4.7M630.6 185.9v4.7M630.9 185.9v4.7M631.0 185.9v4.7M631.1 185.9v4.7M631.4 185.9v4.7M631.7 185.9v4.7M631.9 185.9v4.7M632.1 185.9v4.7M632.3 185.9v4.7M632.6 185.9v4.7M633.0 185.9v4.7M633.1 185.9v4.7M633.2 185.9v4.7M633.3 185.9v4.7M633.6 185.9v4.7M634.1 185.9v4.7M634.1 185.9v4.7M634.6 185.9v4.7M634.9 185.9v4.7M634.9 185.9v4.7M635.1 185.9v4.7M635.4 185.9v4.7M635.6 185.9v4.7M635.7 185.9v4.7M636.4 185.9v4.7M636.7 185.9v4.7M636.8 185.9v4.7M637.2 185.9v4.7M637.3 185.9v4.7M637.7 185.9v4.7M638.0 185.9v4.7M638.1 185.9v4.7M638.7 185.9v4.7M638.8 185.9v4.7M639.3 185.9v4.7M639.2 185.9v4.7M639.6 185.9v4.7M640.0 185.9v4.7M640.5 185.9v4.7M640.6 185.9v4.7M641.1 185.9v4.7M641.3 185.9v4.7M641.9 185.9v4.7M642.1 185.9v4.7M642.2 185.9v4.7M642.2 185.9v4.7M642.9 185.9v4.7M643.4 185.9v4.7M643.4 185.9v4.7M644.0 185.9v4.7M644.2 185.9v4.7M644.2 185.9v4.7M644.6 185.9v4.7M645.0 185.9v4.7M645.0 185.9v4.7M645.4 185.9v4.7M645.8 185.9v4.7M646.0 185.9v4.7M646.4 185.9v4.7M646.6 185.9v4.7M646.9 185.9v4.7M647.1 185.9v4.7M647.3 185.9v4.7M647.5 185.9v4.7M647.7 185.9v4.7M648.0 185.9v4.7M648.2 185.9v4.7M648.4 185.9v4.7M648.5 185.9v4.7M649.2 185.9v4.7M649.1 185.9v4.7M649.4 185.9v4.7M649.5 185.9v4.7M649.9 185.9v4.7M650.1 185.9v4.7M650.0 185.9v4.7M650.5 185.9v4.7M650.8 185.9v4.7M651.2 185.9v4.7M651.0 185.9v4.7M651.3 185.9v4.7M651.3 185.9v4.7M651.5 185.9v4.7M652.1 185.9v4.7M652.2 185.9v4.7M652.3 185.9v4.7M652.5 185.9v4.7M652.8 185.9v4.7M653.2 185.9v4.7M653.3 185.9v4.7M653.4 185.9v4.7M653.6 185.9v4.7M653.9 185.9v4.7M654.1 185.9v4.7M654.3 185.9v4.7M654.5 185.9v4.7M654.7 185.9v4.7M655.0 185.9v4.7M655.2 185.9v4.7M655.4 185.9v4.7M655.5 185.9v4.7M656.0 185.9v4.7M655.9 185.9v4.7M656.4 185.9v4.7M656.6 185.9v4.7M656.8 185.9v4.7M656.8 185.9v4.7M657.0 185.9v4.7M657.3 185.9v4.7M657.7 185.9v4.7M657.9 185.9v4.7M658.2 185.9v4.7M658.4 185.9v4.7M658.4 185.9v4.7M659.0 185.9v4.7M659.1 185.9v4.7M659.0 185.9v4.7M659.3 185.9v4.7M659.8 185.9v4.7M659.8 185.9v4.7M660.5 185.9v4.7M660.3 185.9v4.7M660.6 185.9v4.7M660.9 185.9v4.7M661.1 185.9v4.7M661.4 185.9v4.7M661.5 185.9v4.7M662.2 185.9v4.7M662.4 185.9v4.7M662.4 185.9v4.7M662.8 185.9v4.7M663.2 185.9v4.7M663.4 185.9v4.7M663.4 185.9v4.7M663.6 185.9v4.7M664.1 185.9v4.7M664.4 185.9v4.7M664.5 185.9v4.7M664.9 185.9v4.7M665.2 185.9v4.7M665.3 185.9v4.7M665.7 185.9v4.7M665.9 185.9v4.7M666.2 185.9v4.7M666.4 185.9v4.7M666.9 185.9v4.7M667.0 185.9v4.7M667.4 185.9v4.7M667.7 185.9v4.7M667.8 185.9v4.7M668.1 185.9v4.7M668.7 185.9v4.7M668.9 185.9v4.7M668.9 185.9v4.7M669.5 185.9v4.7M669.3 185.9v4.7M669.9 185.9v4.7M670.0 185.9v4.7M670.3 185.9v4.7" stroke="#000" stroke-width="0.9" stroke-opacity="0.9" fill="none"/>
<path d="M552.25,15.55V190.60M622.05,15.55V190.60" stroke="#000" stroke-width="1" fill="none"/>
<path d="M511.30,147.00 C511.68,147.23 512.75,147.72 513.60,148.40 C514.45,149.08 515.32,150.25 516.40,151.10 C517.48,151.95 518.87,153.30 520.10,153.50 C521.33,153.70 522.55,152.70 523.80,152.30 C525.05,151.90 526.35,150.98 527.60,151.10 C528.85,151.22 530.00,152.30 531.30,153.00 C532.60,153.70 534.32,155.07 535.40,155.30 C536.48,155.53 536.93,155.32 537.80,154.40 C538.67,153.48 539.68,151.97 540.60,149.80 C541.52,147.63 542.38,144.35 543.30,141.40 C544.22,138.45 545.08,134.88 546.10,132.10 C547.12,129.32 548.35,126.63 549.40,124.70 C550.45,122.77 551.40,120.82 552.40,120.50 C553.40,120.18 554.43,121.48 555.40,122.80 C556.37,124.12 557.27,126.53 558.20,128.40 C559.13,130.27 560.12,132.30 561.00,134.00 C561.88,135.70 562.70,137.37 563.50,138.60 C564.30,139.83 564.95,140.55 565.80,141.40 C566.65,142.25 567.52,143.08 568.60,143.70 C569.68,144.32 571.22,144.55 572.30,145.10 C573.38,145.65 574.18,146.07 575.10,147.00 C576.02,147.93 576.88,149.32 577.80,150.70 C578.72,152.08 579.67,153.95 580.60,155.30 C581.53,156.65 582.55,158.10 583.40,158.80 C584.25,159.50 584.77,159.70 585.70,159.50 C586.63,159.30 587.83,158.22 589.00,157.60 C590.17,156.98 591.47,156.18 592.70,155.80 C593.93,155.42 595.17,155.53 596.40,155.30 C597.63,155.07 599.02,154.93 600.10,154.40 C601.18,153.87 601.97,153.18 602.90,152.10 C603.83,151.02 604.77,149.60 605.70,147.90 C606.63,146.20 607.57,144.07 608.50,141.90 C609.43,139.73 610.38,137.30 611.30,134.90 C612.22,132.50 613.08,129.90 614.00,127.50 C614.92,125.10 615.92,122.22 616.80,120.50 C617.68,118.78 618.57,117.88 619.30,117.20 C620.03,116.52 620.37,116.23 621.20,116.40 C622.03,116.57 623.17,117.13 624.30,118.20 C625.43,119.27 626.92,121.10 628.00,122.80 C629.08,124.50 629.87,126.07 630.80,128.40 C631.73,130.73 632.68,134.02 633.60,136.80 C634.52,139.58 635.45,142.78 636.30,145.10 C637.15,147.42 638.00,149.48 638.70,150.70 C639.40,151.92 639.82,152.55 640.50,152.40 C641.18,152.25 641.95,151.32 642.80,149.80 C643.65,148.28 644.58,145.63 645.60,143.30 C646.62,140.97 647.88,137.70 648.90,135.80 C649.92,133.90 650.93,132.62 651.70,131.90 C652.47,131.18 652.73,131.23 653.50,131.50 C654.27,131.77 655.30,132.32 656.30,133.50 C657.30,134.68 658.33,136.97 659.50,138.60 C660.67,140.23 662.05,142.13 663.30,143.30 C664.55,144.47 665.80,145.10 667.00,145.60 C668.20,146.10 669.92,146.18 670.50,146.30" stroke="#000" stroke-width="1.25" fill="none" stroke-linejoin="round"/>
<rect x="511.10" y="15.55" width="159.40" height="175.05" fill="none" stroke="#222" stroke-width="1"/>
<path d="M505.20,190.60H511.10" stroke="#222" stroke-width="1"/>
<text x="500.30" y="195.10" font-size="12" text-anchor="end" font-family="Liberation Sans, sans-serif" fill="#111">0.00</text>
<path d="M505.20,132.25H511.10" stroke="#222" stroke-width="1"/>
<text x="500.30" y="136.75" font-size="12" text-anchor="end" font-family="Liberation Sans, sans-serif" fill="#111">0.05</text>
<path d="M505.20,73.90H511.10" stroke="#222" stroke-width="1"/>
<text x="500.30" y="78.40" font-size="12" text-anchor="end" font-family="Liberation Sans, sans-serif" fill="#111">0.10</text>
<path d="M505.20,15.55H511.10" stroke="#222" stroke-width="1"/>
<text x="500.30" y="20.05" font-size="12" text-anchor="end" font-family="Liberation Sans, sans-serif" fill="#111">0.15</text>
<path d="M511.10,190.60V196.20" stroke="#222" stroke-width="1"/>
<path d="M550.95,190.60V196.20" stroke="#222" stroke-width="1"/>
<path d="M590.80,190.60V196.20" stroke="#222" stroke-width="1"/>
<path d="M630.65,190.60V196.20" stroke="#222" stroke-width="1"/>
<path d="M670.50,190.60V196.20" stroke="#222" stroke-width="1"/>
<text x="590.80" y="10.15" font-size="13.6" text-anchor="middle" font-family="Liberation Sans, sans-serif" fill="#111">2010-2011 Autumn</text>
<rect x="58.90" y="243.30" width="31.45" height="175.10" fill="#b3b3b3"/>
<rect x="180.50" y="243.30" width="37.90" height="175.10" fill="#b3b3b3"/>
<path d="M58.8 413.7v4.7M59.3 413.7v4.7M60.5 413.7v4.7M60.8 413.7v4.7M61.5 413.7v4.7M61.8 413.7v4.7M62.8 413.7v4.7M62.9 413.7v4.7M63.6 413.7v4.7M64.6 413.7v4.7M65.2 413.7v4.7M65.9 413.7v4.7M66.3 413.7v4.7M67.0 413.7v4.7M67.6 413.7v4.7M68.1 413.7v4.7M68.7 413.7v4.7M69.4 413.7v4.7M70.3 413.7v4.7M70.5 413.7v4.7M70.9 413.7v4.7M71.6 413.7v4.7M72.5 413.7v4.7M73.1 413.7v4.7M74.3 413.7v4.7M74.6 413.7v4.7M75.0 413.7v4.7M75.7 413.7v4.7M76.4 413.7v4.7M77.3 413.7v4.7M77.5 413.7v4.7M77.6 413.7v4.7M78.3 413.7v4.7M79.0 413.7v4.7M79.3 413.7v4.7M79.6 413.7v4.7M80.1 413.7v4.7M80.6 413.7v4.7M80.9 413.7v4.7M81.4 413.7v4.7M81.5 413.7v4.7M82.2 413.7v4.7M82.3 413.7v4.7M82.8 413.7v4.7M83.2 413.7v4.7M83.7 413.7v4.7M83.7 413.7v4.7M84.2 413.7v4.7M84.3 413.7v4.7M84.8 413.7v4.7M85.2 413.7v4.7M85.5 413.7v4.7M85.6 413.7v4.7M86.1 413.7v4.7M86.4 413.7v4.7M86.3 413.7v4.7M87.0 413.7v4.7M87.0 413.7v4.7M87.5 413.7v4.7M87.9 413.7v4.7M88.0 413.7v4.7M88.2 413.7v4.7M88.6 413.7v4.7M88.8 413.7v4.7M89.3 413.7v4.7M89.4 413.7v4.7M89.6 413.7v4.7M89.9 413.7v4.7M90.2 413.7v4.7M90.4 413.7v4.7M90.7 413.7v4.7M90.8 413.7v4.7M91.1 413.7v4.7M91.3 413.7v4.7M91.8 413.7v4.7M92.0 413.7v4.7M92.4 413.7v4.7M92.6 413.7v4.7M92.5 413.7v4.7M92.9 413.7v4.7M93.4 413.7v4.7M93.6 413.7v4.7M93.7 413.7v4.7M94.2 413.7v4.7M94.3 413.7v4.7M94.7 413.7v4.7M94.6 413.7v4.7M95.1 413.7v4.7M95.4 413.7v4.7M95.6 413.7v4.7M95.8 413.7v4.7M96.3 413.7v4.7M96.4 413.7v4.7M96.6 413.7v4.7M97.1 413.7v4.7M97.1 413.7v4.7M97.8 413.7v4.7M97.9 413.7v4.7M98.2 413.7v4.7M98.4 413.7v4.7M98.9 413.7v4.7M99.1 413.7v4.7M99.3 413.7v4.7M99.7 413.7v4.7M99.8 413.7v4.7M100.1 413.7v4.7M100.5 413.7v4.7M100.8 413.7v4.7M100.9 413.7v4.7M101.5 413.7v4.7M102.0 413.7v4.7M102.1 413.7v4.7M102.3 413.7v4.7M102.5 413.7v4.7M103.0 413.7v4.7M103.4 413.7v4.7M103.6 413.7v4.7M104.3 413.7v4.7M104.2 413.7v4.7M104.6 413.7v4.7M104.8 413.7v4.7M105.4 413.7v4.7M105.7 413.7v4.7M106.0 413.7v4.7M106.4 413.7v4.7M106.4 413.7v4.7M107.1 413.7v4.7M107.3 413.7v4.7M107.6 413.7v4.7M108.2 413.7v4.7M108.4 413.7v4.7M108.5 413.7v4.7M109.1 413.7v4.7M109.3 413.7v4.7M109.8 413.7v4.7M110.0 413.7v4.7M110.6 413.7v4.7M110.9 413.7v4.7M111.2 413.7v4.7M111.9 413.7v4.7M112.2 413.7v4.7M112.4 413.7v4.7M112.5 413.7v4.7M113.4 413.7v4.7M114.0 413.7v4.7M114.0 413.7v4.7M114.4 413.7v4.7M114.6 413.7v4.7M115.2 413.7v4.7M115.9 413.7v4.7M115.9 413.7v4.7M116.6 413.7v4.7M116.6 413.7v4.7M117.3 413.7v4.7M117.6 413.7v4.7M118.2 413.7v4.7M118.5 413.7v4.7M118.8 413.7v4.7M119.1 413.7v4.7M119.6 413.7v4.7M120.2 413.7v4.7M120.3 413.7v4.7M120.9 413.7v4.7M121.5 413.7v4.7M121.8 413.7v4.7M122.0 413.7v4.7M122.5 413.7v4.7M122.8 413.7v4.7M123.2 413.7v4.7M123.6 413.7v4.7M124.1 413.7v4.7M124.3 413.7v4.7M125.1 413.7v4.7M125.5 413.7v4.7M125.5 413.7v4.7M126.4 413.7v4.7M127.0 413.7v4.7M127.4 413.7v4.7M127.4 413.7v4.7M127.8 413.7v4.7M128.4 413.7v4.7M129.0 413.7v4.7M129.4 413.7v4.7M129.9 413.7v4.7M130.3 413.7v4.7M130.8 413.7v4.7M131.1 413.7v4.7M131.4 413.7v4.7M131.9 413.7v4.7M132.3 413.7v4.7M132.9 413.7v4.7M133.7 413.7v4.7M134.0 413.7v4.7M134.3 413.7v4.7M134.9 413.7v4.7M135.3 413.7v4.7M135.9 413.7v4.7M135.8 413.7v4.7M136.8 413.7v4.7M136.9 413.7v4.7M137.5 413.7v4.7M138.1 413.7v4.7M138.5 413.7v4.7M139.0 413.7v4.7M139.3 413.7v4.7M139.7 413.7v4.7M140.0 413.7v4.7M140.6 413.7v4.7M141.1 413.7v4.7M141.4 413.7v4.7M142.2 413.7v4.7M142.8 413.7v4.7M142.9 413.7v4.7M143.0 413.7v4.7M143.6 413.7v4.7M144.1 413.7v4.7M144.7 413.7v4.7M145.0 413.7v4.7M145.3 413.7v4.7M146.0 413.7v4.7M146.1 413.7v4.7M146.6 413.7v4.7M147.0 413.7v4.7M147.3 413.7v4.7M148.0 413.7v4.7M148.2 413.7v4.7M148.4 413.7v4.7M148.6 413.7v4.7M149.1 413.7v4.7M149.4 413.7v4.7M150.0 413.7v4.7M150.1 413.7v4.7M150.6 413.7v4.7M151.1 413.7v4.7M151.1 413.7v4.7M151.6 413.7v4.7M151.8 413.7v4.7M152.2 413.7v4.7M152.6 413.7v4.7M152.9 413.7v4.7M153.5 413.7v4.7M153.8 413.7v4.7M153.9 413.7v4.7M154.4 413.7v4.7M154.7 413.7v4.7M155.0 413.7v4.7M155.0 413.7v4.7M155.8 413.7v4.7M155.8 413.7v4.7M156.0 413.7v4.7M156.6 413.7v4.7M156.8 413.7v4.7M156.8 413.7v4.7M157.4 413.7v4.7M157.5 413.7v4.7M158.0 413.7v4.7M158.0 413.7v4.7M158.5 413.7v4.7M158.8 413.7v4.7M159.0 413.7v4.7M159.2 413.7v4.7M159.7 413.7v4.7M159.9 413.7v4.7M160.1 413.7v4.7M160.3 413.7v4.7M160.5 413.7v4.7M161.0 413.7v4.7M161.1 413.7v4.7M161.3 413.7v4.7M161.6 413.7v4.7M161.9 413.7v4.7M162.2 413.7v4.7M162.5 413.7v4.7M162.9 413.7v4.7M163.1 413.7v4.7M163.2 413.7v4.7M163.4 413.7v4.7M163.6 413.7v4.7M164.0 413.7v4.7M164.1 413.7v4.7M164.5 413.7v4.7M164.6 413.7v4.7M165.0 413.7v4.7M165.1 413.7v4.7M165.5 413.7v4.7M165.5 413.7v4.7M165.9 413.7v4.7M166.0 413.7v4.7M166.4 413.7v4.7M166.8 413.7v4.7M166.8 413.7v4.7M167.0 413.7v4.7M167.4 413.7v4.7M167.5 413.7v4.7M167.9 413.7v4.7M167.9 413.7v4.7M168.2 413.7v4.7M168.3 413.7v4.7M168.6 413.7v4.7M169.2 413.7v4.7M169.3 413.7v4.7M169.7 413.7v4.7M169.8 413.7v4.7M170.0 413.7v4.7M170.2 413.7v4.7M170.3 413.7v4.7M170.4 413.7v4.7M170.8 413.7v4.7M171.0 413.7v4.7M171.3 413.7v4.7M171.3 413.7v4.7M171.5 413.7v4.7M172.0 413.7v4.7M172.1 413.7v4.7M172.5 413.7v4.7M172.6 413.7v4.7M172.9 413.7v4.7M173.1 413.7v4.7M173.5 413.7v4.7M173.3 413.7v4.7M173.9 413.7v4.7M174.0 413.7v4.7M174.3 413.7v4.7M174.6 413.7v4.7M175.0 413.7v4.7M175.3 413.7v4.7M175.2 413.7v4.7M175.6 413.7v4.7M175.6 413.7v4.7M176.1 413.7v4.7M176.1 413.7v4.7M176.7 413.7v4.7M176.7 413.7v4.7M177.0 413.7v4.7M177.4 413.7v4.7M177.5 413.7v4.7M177.6 413.7v4.7M178.2 413.7v4.7M178.4 413.7v4.7M178.6 413.7v4.7M178.7 413.7v4.7M178.9 413.7v4.7M179.4 413.7v4.7M179.7 413.7v4.7M179.7 413.7v4.7M180.2 413.7v4.7M180.3 413.7v4.7M180.6 413.7v4.7M180.9 413.7v4.7M181.3 413.7v4.7M181.7 413.7v4.7M181.9 413.7v4.7M182.2 413.7v4.7M182.4 413.7v4.7M183.2 413.7v4.7M183.4 413.7v4.7M183.4 413.7v4.7M183.9 413.7v4.7M184.4 413.7v4.7M185.0 413.7v4.7M185.1 413.7v4.7M185.7 413.7v4.7M185.8 413.7v4.7M186.5 413.7v4.7M186.8 413.7v4.7M187.3 413.7v4.7M187.6 413.7v4.7M188.4 413.7v4.7M188.8 413.7v4.7M189.1 413.7v4.7M190.0 413.7v4.7M190.7 413.7v4.7M191.0 413.7v4.7M192.1 413.7v4.7M193.0 413.7v4.7M193.5 413.7v4.7M194.7 413.7v4.7M195.3 413.7v4.7M197.0 413.7v4.7M198.4 413.7v4.7M199.3 413.7v4.7M201.4 413.7v4.7M202.1 413.7v4.7M203.3 413.7v4.7M205.2 413.7v4.7M206.1 413.7v4.7M207.6 413.7v4.7M209.0 413.7v4.7M210.1 413.7v4.7M210.5 413.7v4.7M211.4 413.7v4.7M212.6 413.7v4.7M213.1 413.7v4.7M213.8 413.7v4.7M214.9 413.7v4.7M215.4 413.7v4.7M216.5 413.7v4.7M217.0 413.7v4.7M217.5 413.7v4.7M218.3 413.7v4.7" stroke="#000" stroke-width="0.9" stroke-opacity="0.9" fill="none"/>
<path d="M90.35,243.30V418.40M180.50,243.30V418.40" stroke="#000" stroke-width="1" fill="none"/>
<path d="M58.80,386.70 C59.18,386.40 60.25,385.32 61.10,384.90 C61.95,384.48 62.97,384.10 63.90,384.20 C64.83,384.30 65.77,384.88 66.70,385.50 C67.63,386.12 68.58,387.32 69.50,387.90 C70.42,388.48 71.28,389.12 72.20,389.00 C73.12,388.88 74.15,388.43 75.00,387.20 C75.85,385.97 76.52,383.92 77.30,381.60 C78.08,379.28 78.92,376.08 79.70,373.30 C80.48,370.52 81.23,367.68 82.00,364.90 C82.77,362.12 83.53,359.23 84.30,356.60 C85.07,353.97 85.83,351.20 86.60,349.10 C87.37,347.00 88.12,345.12 88.90,344.00 C89.68,342.88 90.45,342.40 91.30,342.40 C92.15,342.40 93.08,343.18 94.00,344.00 C94.92,344.82 95.87,346.07 96.80,347.30 C97.73,348.53 98.67,350.02 99.60,351.40 C100.53,352.78 101.47,354.20 102.40,355.60 C103.33,357.00 104.27,358.48 105.20,359.80 C106.13,361.12 107.03,362.38 108.00,363.50 C108.97,364.62 110.05,365.77 111.00,366.50 C111.95,367.23 112.63,367.58 113.70,367.90 C114.77,368.22 116.17,368.13 117.40,368.40 C118.63,368.67 119.87,368.92 121.10,369.50 C122.33,370.08 123.55,371.12 124.80,371.90 C126.05,372.68 127.35,373.58 128.60,374.20 C129.85,374.82 131.07,375.37 132.30,375.60 C133.53,375.83 134.77,375.80 136.00,375.60 C137.23,375.40 138.47,375.10 139.70,374.40 C140.93,373.70 142.17,372.52 143.40,371.40 C144.63,370.28 145.87,369.25 147.10,367.70 C148.33,366.15 149.57,364.12 150.80,362.10 C152.03,360.08 153.25,357.92 154.50,355.60 C155.75,353.28 157.05,350.52 158.30,348.20 C159.55,345.88 160.77,343.63 162.00,341.70 C163.23,339.77 164.62,337.85 165.70,336.60 C166.78,335.35 167.55,334.72 168.50,334.20 C169.45,333.68 170.45,333.42 171.40,333.50 C172.35,333.58 173.27,333.80 174.20,334.70 C175.13,335.60 176.15,337.12 177.00,338.90 C177.85,340.68 178.60,343.08 179.30,345.40 C180.00,347.72 180.50,350.02 181.20,352.80 C181.90,355.58 182.73,359.00 183.50,362.10 C184.27,365.20 185.03,368.30 185.80,371.40 C186.57,374.50 187.25,377.60 188.10,380.70 C188.95,383.80 189.97,387.22 190.90,390.00 C191.83,392.78 192.62,395.32 193.70,397.40 C194.78,399.48 196.02,401.35 197.40,402.50 C198.78,403.65 200.60,404.22 202.00,404.30 C203.40,404.38 204.55,403.85 205.80,403.00 C207.05,402.15 208.27,400.68 209.50,399.20 C210.73,397.72 211.73,396.05 213.20,394.10 C214.67,392.15 217.45,388.60 218.30,387.50" stroke="#000" stroke-width="1.25" fill="none" stroke-linejoin="round"/>
<rect x="58.90" y="243.30" width="159.50" height="175.10" fill="none" stroke="#222" stroke-width="1"/>
<path d="M53.00,418.40H58.90" stroke="#222" stroke-width="1"/>
<text x="48.10" y="422.90" font-size="12" text-anchor="end" font-family="Liberation Sans, sans-serif" fill="#111">0.00</text>
<path d="M53.00,360.03H58.90" stroke="#222" stroke-width="1"/>
<text x="48.10" y="364.53" font-size="12" text-anchor="end" font-family="Liberation Sans, sans-serif" fill="#111">0.05</text>
<path d="M53.00,301.67H58.90" stroke="#222" stroke-width="1"/>
<text x="48.10" y="306.17" font-size="12" text-anchor="end" font-family="Liberation Sans, sans-serif" fill="#111">0.10</text>
<path d="M53.00,243.30H58.90" stroke="#222" stroke-width="1"/>
<text x="48.10" y="247.80" font-size="12" text-anchor="end" font-family="Liberation Sans, sans-serif" fill="#111">0.15</text>
<path d="M58.90,418.40V424.00" stroke="#222" stroke-width="1"/>
<path d="M98.78,418.40V424.00" stroke="#222" stroke-width="1"/>
<path d="M138.65,418.40V424.00" stroke="#222" stroke-width="1"/>
<path d="M178.53,418.40V424.00" stroke="#222" stroke-width="1"/>
<path d="M218.40,418.40V424.00" stroke="#222" stroke-width="1"/>
<text x="138.65" y="237.90" font-size="13.6" text-anchor="middle" font-family="Liberation Sans, sans-serif" fill="#111">2012 Spring</text>
<rect x="284.50" y="243.30" width="29.05" height="175.10" fill="#b3b3b3"/>
<rect x="409.50" y="243.30" width="34.00" height="175.10" fill="#b3b3b3"/>
<path d="M284.6 413.7v4.7M284.7 413.7v4.7M285.5 413.7v4.7M285.6 413.7v4.7M285.9 413.7v4.7M286.2 413.7v4.7M286.6 413.7v4.7M287.1 413.7v4.7M287.2 413.7v4.7M287.4 413.7v4.7M287.8 413.7v4.7M288.3 413.7v4.7M288.5 413.7v4.7M289.0 413.7v4.7M289.5 413.7v4.7M289.5 413.7v4.7M290.0 413.7v4.7M290.2 413.7v4.7M290.4 413.7v4.7M291.2 413.7v4.7M291.3 413.7v4.7M291.9 413.7v4.7M291.9 413.7v4.7M292.4 413.7v4.7M292.7 413.7v4.7M293.1 413.7v4.7M293.6 413.7v4.7M294.0 413.7v4.7M294.2 413.7v4.7M294.3 413.7v4.7M295.0 413.7v4.7M295.0 413.7v4.7M295.4 413.7v4.7M295.8 413.7v4.7M296.3 413.7v4.7M296.5 413.7v4.7M296.9 413.7v4.7M297.3 413.7v4.7M297.8 413.7v4.7M298.3 413.7v4.7M298.5 413.7v4.7M298.8 413.7v4.7M299.3 413.7v4.7M299.4 413.7v4.7M300.0 413.7v4.7M300.5 413.7v4.7M300.7 413.7v4.7M300.9 413.7v4.7M301.4 413.7v4.7M302.1 413.7v4.7M302.1 413.7v4.7M302.4 413.7v4.7M303.0 413.7v4.7M303.1 413.7v4.7M303.1 413.7v4.7M303.9 413.7v4.7M304.3 413.7v4.7M304.6 413.7v4.7M304.6 413.7v4.7M305.1 413.7v4.7M305.2 413.7v4.7M305.6 413.7v4.7M306.0 413.7v4.7M306.0 413.7v4.7M306.5 413.7v4.7M306.7 413.7v4.7M307.0 413.7v4.7M307.3 413.7v4.7M307.5 413.7v4.7M307.8 413.7v4.7M308.1 413.7v4.7M308.4 413.7v4.7M308.8 413.7v4.7M308.9 413.7v4.7M309.0 413.7v4.7M309.3 413.7v4.7M309.4 413.7v4.7M309.8 413.7v4.7M309.9 413.7v4.7M310.2 413.7v4.7M310.4 413.7v4.7M310.8 413.7v4.7M310.7 413.7v4.7M311.3 413.7v4.7M311.2 413.7v4.7M311.6 413.7v4.7M311.5 413.7v4.7M311.9 413.7v4.7M312.2 413.7v4.7M312.2 413.7v4.7M312.6 413.7v4.7M312.7 413.7v4.7M313.1 413.7v4.7M313.3 413.7v4.7M313.2 413.7v4.7M313.4 413.7v4.7M313.7 413.7v4.7M313.9 413.7v4.7M314.2 413.7v4.7M314.2 413.7v4.7M314.5 413.7v4.7M314.4 413.7v4.7M314.8 413.7v4.7M315.1 413.7v4.7M315.2 413.7v4.7M315.5 413.7v4.7M315.6 413.7v4.7M315.7 413.7v4.7M315.9 413.7v4.7M315.9 413.7v4.7M316.2 413.7v4.7M316.5 413.7v4.7M316.6 413.7v4.7M316.8 413.7v4.7M317.0 413.7v4.7M317.4 413.7v4.7M317.5 413.7v4.7M317.6 413.7v4.7M317.7 413.7v4.7M318.0 413.7v4.7M318.1 413.7v4.7M318.4 413.7v4.7M318.5 413.7v4.7M318.9 413.7v4.7M319.0 413.7v4.7M319.3 413.7v4.7M319.3 413.7v4.7M319.4 413.7v4.7M319.9 413.7v4.7M319.9 413.7v4.7M319.9 413.7v4.7M320.3 413.7v4.7M320.5 413.7v4.7M320.9 413.7v4.7M320.8 413.7v4.7M321.2 413.7v4.7M321.2 413.7v4.7M321.5 413.7v4.7M321.9 413.7v4.7M321.7 413.7v4.7M322.2 413.7v4.7M322.2 413.7v4.7M322.6 413.7v4.7M322.9 413.7v4.7M323.1 413.7v4.7M323.4 413.7v4.7M323.4 413.7v4.7M323.7 413.7v4.7M323.9 413.7v4.7M324.2 413.7v4.7M324.4 413.7v4.7M324.5 413.7v4.7M324.7 413.7v4.7M325.3 413.7v4.7M325.5 413.7v4.7M325.8 413.7v4.7M325.8 413.7v4.7M326.1 413.7v4.7M326.1 413.7v4.7M326.9 413.7v4.7M326.6 413.7v4.7M327.1 413.7v4.7M327.3 413.7v4.7M327.8 413.7v4.7M328.0 413.7v4.7M327.9 413.7v4.7M328.4 413.7v4.7M328.8 413.7v4.7M329.1 413.7v4.7M329.3 413.7v4.7M329.6 413.7v4.7M329.8 413.7v4.7M330.1 413.7v4.7M330.2 413.7v4.7M330.6 413.7v4.7M331.0 413.7v4.7M331.4 413.7v4.7M331.6 413.7v4.7M331.7 413.7v4.7M332.0 413.7v4.7M332.2 413.7v4.7M332.8 413.7v4.7M333.1 413.7v4.7M333.1 413.7v4.7M333.6 413.7v4.7M333.6 413.7v4.7M333.7 413.7v4.7M334.0 413.7v4.7M334.6 413.7v4.7M334.9 413.7v4.7M335.1 413.7v4.7M335.5 413.7v4.7M335.8 413.7v4.7M336.1 413.7v4.7M336.1 413.7v4.7M336.5 413.7v4.7M336.9 413.7v4.7M337.3 413.7v4.7M337.2 413.7v4.7M337.7 413.7v4.7M338.1 413.7v4.7M338.2 413.7v4.7M338.5 413.7v4.7M338.7 413.7v4.7M338.9 413.7v4.7M339.4 413.7v4.7M339.7 413.7v4.7M340.1 413.7v4.7M340.2 413.7v4.7M340.6 413.7v4.7M340.9 413.7v4.7M341.2 413.7v4.7M341.7 413.7v4.7M342.1 413.7v4.7M341.9 413.7v4.7M342.7 413.7v4.7M343.0 413.7v4.7M343.3 413.7v4.7M343.4 413.7v4.7M343.7 413.7v4.7M344.4 413.7v4.7M344.4 413.7v4.7M344.9 413.7v4.7M345.5 413.7v4.7M345.6 413.7v4.7M346.1 413.7v4.7M346.5 413.7v4.7M347.1 413.7v4.7M347.2 413.7v4.7M347.4 413.7v4.7M348.1 413.7v4.7M348.3 413.7v4.7M349.1 413.7v4.7M349.6 413.7v4.7M349.8 413.7v4.7M350.4 413.7v4.7M351.0 413.7v4.7M351.0 413.7v4.7M352.1 413.7v4.7M352.3 413.7v4.7M352.7 413.7v4.7M353.2 413.7v4.7M353.8 413.7v4.7M354.4 413.7v4.7M354.7 413.7v4.7M355.5 413.7v4.7M356.0 413.7v4.7M356.5 413.7v4.7M357.2 413.7v4.7M357.4 413.7v4.7M358.2 413.7v4.7M358.8 413.7v4.7M359.1 413.7v4.7M359.8 413.7v4.7M360.4 413.7v4.7M360.7 413.7v4.7M361.3 413.7v4.7M362.2 413.7v4.7M362.2 413.7v4.7M363.2 413.7v4.7M363.2 413.7v4.7M364.0 413.7v4.7M364.5 413.7v4.7M365.1 413.7v4.7M365.5 413.7v4.7M366.2 413.7v4.7M366.7 413.7v4.7M367.2 413.7v4.7M367.5 413.7v4.7M368.1 413.7v4.7M368.4 413.7v4.7M368.9 413.7v4.7M369.5 413.7v4.7M370.0 413.7v4.7M370.6 413.7v4.7M371.1 413.7v4.7M371.4 413.7v4.7M371.8 413.7v4.7M372.3 413.7v4.7M372.6 413.7v4.7M372.9 413.7v4.7M373.7 413.7v4.7M374.0 413.7v4.7M374.2 413.7v4.7M374.5 413.7v4.7M375.2 413.7v4.7M375.3 413.7v4.7M376.0 413.7v4.7M376.2 413.7v4.7M376.7 413.7v4.7M376.9 413.7v4.7M377.5 413.7v4.7M377.9 413.7v4.7M378.3 413.7v4.7M378.7 413.7v4.7M379.0 413.7v4.7M379.4 413.7v4.7M379.4 413.7v4.7M379.7 413.7v4.7M380.5 413.7v4.7M380.8 413.7v4.7M380.9 413.7v4.7M381.5 413.7v4.7M381.6 413.7v4.7M382.1 413.7v4.7M382.4 413.7v4.7M382.8 413.7v4.7M383.2 413.7v4.7M383.3 413.7v4.7M383.7 413.7v4.7M383.9 413.7v4.7M384.3 413.7v4.7M384.9 413.7v4.7M384.8 413.7v4.7M385.0 413.7v4.7M385.5 413.7v4.7M385.7 413.7v4.7M386.3 413.7v4.7M386.6 413.7v4.7M386.7 413.7v4.7M387.0 413.7v4.7M387.2 413.7v4.7M387.7 413.7v4.7M387.9 413.7v4.7M388.1 413.7v4.7M388.4 413.7v4.7M388.6 413.7v4.7M388.9 413.7v4.7M389.3 413.7v4.7M389.5 413.7v4.7M389.8 413.7v4.7M389.9 413.7v4.7M390.3 413.7v4.7M390.7 413.7v4.7M390.9 413.7v4.7M391.0 413.7v4.7M391.2 413.7v4.7M391.4 413.7v4.7M391.9 413.7v4.7M392.1 413.7v4.7M392.6 413.7v4.7M392.7 413.7v4.7M392.9 413.7v4.7M393.2 413.7v4.7M393.6 413.7v4.7M393.9 413.7v4.7M394.1 413.7v4.7M394.3 413.7v4.7M394.6 413.7v4.7M394.7 413.7v4.7M395.0 413.7v4.7M395.3 413.7v4.7M395.6 413.7v4.7M395.8 413.7v4.7M396.1 413.7v4.7M396.0 413.7v4.7M396.5 413.7v4.7M396.7 413.7v4.7M396.6 413.7v4.7M397.0 413.7v4.7M397.2 413.7v4.7M397.4 413.7v4.7M397.7 413.7v4.7M398.0 413.7v4.7M398.1 413.7v4.7M398.6 413.7v4.7M398.9 413.7v4.7M398.9 413.7v4.7M399.3 413.7v4.7M399.5 413.7v4.7M399.6 413.7v4.7M399.9 413.7v4.7M399.9 413.7v4.7M400.5 413.7v4.7M400.8 413.7v4.7M400.7 413.7v4.7M401.0 413.7v4.7M401.3 413.7v4.7M401.6 413.7v4.7M401.7 413.7v4.7M401.8 413.7v4.7M402.2 413.7v4.7M402.4 413.7v4.7M402.9 413.7v4.7M402.7 413.7v4.7M402.9 413.7v4.7M403.3 413.7v4.7M403.4 413.7v4.7M403.8 413.7v4.7M403.8 413.7v4.7M404.2 413.7v4.7M404.2 413.7v4.7M404.4 413.7v4.7M404.7 413.7v4.7M405.0 413.7v4.7M405.3 413.7v4.7M405.5 413.7v4.7M405.9 413.7v4.7M405.8 413.7v4.7M406.0 413.7v4.7M406.3 413.7v4.7M406.5 413.7v4.7M406.7 413.7v4.7M406.7 413.7v4.7M406.9 413.7v4.7M407.2 413.7v4.7M407.4 413.7v4.7M407.4 413.7v4.7M408.0 413.7v4.7M408.1 413.7v4.7M408.3 413.7v4.7M408.5 413.7v4.7M408.8 413.7v4.7M408.7 413.7v4.7M409.0 413.7v4.7M409.3 413.7v4.7M409.4 413.7v4.7M409.7 413.7v4.7M409.9 413.7v4.7M410.2 413.7v4.7M410.2 413.7v4.7M410.8 413.7v4.7M410.7 413.7v4.7M411.0 413.7v4.7M411.2 413.7v4.7M411.1 413.7v4.7M411.4 413.7v4.7M411.7 413.7v4.7M412.1 413.7v4.7M412.2 413.7v4.7M412.4 413.7v4.7M412.7 413.7v4.7M413.0 413.7v4.7M413.0 413.7v4.7M413.2 413.7v4.7M413.4 413.7v4.7M413.9 413.7v4.7M414.0 413.7v4.7M413.9 413.7v4.7M414.5 413.7v4.7M414.4 413.7v4.7M414.9 413.7v4.7M415.1 413.7v4.7M415.3 413.7v4.7M415.4 413.7v4.7M415.7 413.7v4.7M415.9 413.7v4.7M416.2 413.7v4.7M416.4 413.7v4.7M416.7 413.7v4.7M417.0 413.7v4.7M417.3 413.7v4.7M417.5 413.7v4.7M417.7 413.7v4.7M418.3 413.7v4.7M418.2 413.7v4.7M418.6 413.7v4.7M418.8 413.7v4.7M419.3 413.7v4.7M419.5 413.7v4.7M419.7 413.7v4.7M420.3 413.7v4.7M420.2 413.7v4.7M420.5 413.7v4.7M421.0 413.7v4.7M420.9 413.7v4.7M421.6 413.7v4.7M422.1 413.7v4.7M422.3 413.7v4.7M422.8 413.7v4.7M423.1 413.7v4.7M423.4 413.7v4.7M423.8 413.7v4.7M424.2 413.7v4.7M424.6 413.7v4.7M424.7 413.7v4.7M425.4 413.7v4.7M426.1 413.7v4.7M426.1 413.7v4.7M426.5 413.7v4.7M427.2 413.7v4.7M427.6 413.7v4.7M428.1 413.7v4.7M428.3 413.7v4.7M429.0 413.7v4.7M429.7 413.7v4.7M430.1 413.7v4.7M430.2 413.7v4.7M430.8 413.7v4.7M431.4 413.7v4.7M432.1 413.7v4.7M432.2 413.7v4.7M432.5 413.7v4.7M433.2 413.7v4.7M433.6 413.7v4.7M434.3 413.7v4.7M434.7 413.7v4.7M434.9 413.7v4.7M435.6 413.7v4.7M435.8 413.7v4.7M436.0 413.7v4.7M436.7 413.7v4.7M437.3 413.7v4.7M437.7 413.7v4.7M438.0 413.7v4.7M438.3 413.7v4.7M438.9 413.7v4.7M439.0 413.7v4.7M439.4 413.7v4.7M439.7 413.7v4.7M440.3 413.7v4.7M440.5 413.7v4.7M441.4 413.7v4.7M441.5 413.7v4.7M441.7 413.7v4.7M442.0 413.7v4.7M442.6 413.7v4.7M442.6 413.7v4.7M443.1 413.7v4.7M443.3 413.7v4.7" stroke="#000" stroke-width="0.9" stroke-opacity="0.9" fill="none"/>
<path d="M313.55,243.30V418.40M409.50,243.30V418.40" stroke="#000" stroke-width="1" fill="none"/>
<path d="M284.50,374.60 C285.02,374.40 286.55,373.40 287.60,373.40 C288.65,373.40 289.65,374.00 290.80,374.60 C291.95,375.20 293.27,376.37 294.50,377.00 C295.73,377.63 297.03,378.57 298.20,378.40 C299.37,378.23 300.48,377.32 301.50,376.00 C302.52,374.68 303.37,372.82 304.30,370.50 C305.23,368.18 306.18,365.05 307.10,362.10 C308.02,359.15 308.88,355.88 309.80,352.80 C310.72,349.72 311.82,345.98 312.60,343.60 C313.38,341.22 313.88,339.58 314.50,338.50 C315.12,337.42 315.60,337.03 316.30,337.10 C317.00,337.17 317.92,337.67 318.70,338.90 C319.48,340.13 320.15,342.18 321.00,344.50 C321.85,346.82 322.88,350.33 323.80,352.80 C324.72,355.27 325.58,357.52 326.50,359.30 C327.42,361.08 328.37,362.52 329.30,363.50 C330.23,364.48 331.02,364.80 332.10,365.20 C333.18,365.60 334.72,365.50 335.80,365.90 C336.88,366.30 337.82,366.95 338.60,367.60 C339.38,368.25 339.85,369.02 340.50,369.80 C341.15,370.58 341.70,371.03 342.50,372.30 C343.30,373.57 344.37,375.62 345.30,377.40 C346.23,379.18 347.10,381.22 348.10,383.00 C349.10,384.78 350.22,386.87 351.30,388.10 C352.38,389.33 353.37,389.90 354.60,390.40 C355.83,390.90 357.32,391.10 358.70,391.10 C360.08,391.10 361.58,390.82 362.90,390.40 C364.22,389.98 365.37,389.37 366.60,388.60 C367.83,387.83 369.07,386.88 370.30,385.80 C371.53,384.72 372.75,383.42 374.00,382.10 C375.25,380.78 376.55,379.30 377.80,377.90 C379.05,376.50 380.27,375.10 381.50,373.70 C382.73,372.30 383.97,370.97 385.20,369.50 C386.43,368.03 387.67,366.62 388.90,364.90 C390.13,363.18 391.42,360.77 392.60,359.20 C393.78,357.63 394.58,356.80 396.00,355.50 C397.42,354.20 399.63,352.65 401.10,351.40 C402.57,350.15 403.63,348.97 404.80,348.00 C405.97,347.03 407.23,346.03 408.10,345.60 C408.97,345.17 409.30,345.12 410.00,345.40 C410.70,345.68 411.53,346.22 412.30,347.30 C413.07,348.38 413.75,349.73 414.60,351.90 C415.45,354.07 416.47,357.52 417.40,360.30 C418.33,363.08 419.28,365.82 420.20,368.60 C421.12,371.38 421.98,374.45 422.90,377.00 C423.82,379.55 424.68,382.17 425.70,383.90 C426.72,385.63 427.92,386.93 429.00,387.40 C430.08,387.87 431.12,387.35 432.20,386.70 C433.28,386.05 434.33,384.73 435.50,383.50 C436.67,382.27 437.88,380.70 439.20,379.30 C440.52,377.90 442.70,375.80 443.40,375.10" stroke="#000" stroke-width="1.25" fill="none" stroke-linejoin="round"/>
<rect x="284.50" y="243.30" width="159.00" height="175.10" fill="none" stroke="#222" stroke-width="1"/>
<path d="M278.60,418.40H284.50" stroke="#222" stroke-width="1"/>
<text x="273.70" y="422.90" font-size="12" text-anchor="end" font-family="Liberation Sans, sans-serif" fill="#111">0.00</text>
<path d="M278.60,360.03H284.50" stroke="#222" stroke-width="1"/>
<text x="273.70" y="364.53" font-size="12" text-anchor="end" font-family="Liberation Sans, sans-serif" fill="#111">0.05</text>
<path d="M278.60,301.67H284.50" stroke="#222" stroke-width="1"/>
<text x="273.70" y="306.17" font-size="12" text-anchor="end" font-family="Liberation Sans, sans-serif" fill="#111">0.10</text>
<path d="M278.60,243.30H284.50" stroke="#222" stroke-width="1"/>
<text x="273.70" y="247.80" font-size="12" text-anchor="end" font-family="Liberation Sans, sans-serif" fill="#111">0.15</text>
<path d="M284.50,418.40V424.00" stroke="#222" stroke-width="1"/>
<path d="M324.25,418.40V424.00" stroke="#222" stroke-width="1"/>
<path d="M364.00,418.40V424.00" stroke="#222" stroke-width="1"/>
<path d="M403.75,418.40V424.00" stroke="#222" stroke-width="1"/>
<path d="M443.50,418.40V424.00" stroke="#222" stroke-width="1"/>
<text x="364.00" y="237.90" font-size="13.6" text-anchor="middle" font-family="Liberation Sans, sans-serif" fill="#111">2012 Summer</text>
<rect x="511.10" y="243.30" width="40.90" height="175.10" fill="#b3b3b3"/>
<rect x="622.05" y="243.30" width="48.45" height="175.10" fill="#b3b3b3"/>
<path d="M511.0 413.7v4.7M511.4 413.7v4.7M511.3 413.7v4.7M511.8 413.7v4.7M512.1 413.7v4.7M512.3 413.7v4.7M512.7 413.7v4.7M513.0 413.7v4.7M513.0 413.7v4.7M513.4 413.7v4.7M513.2 413.7v4.7M513.8 413.7v4.7M513.9 413.7v4.7M514.2 413.7v4.7M514.3 413.7v4.7M514.7 413.7v4.7M515.0 413.7v4.7M515.4 413.7v4.7M515.4 413.7v4.7M515.6 413.7v4.7M515.8 413.7v4.7M516.1 413.7v4.7M516.5 413.7v4.7M516.4 413.7v4.7M516.7 413.7v4.7M517.1 413.7v4.7M517.3 413.7v4.7M517.5 413.7v4.7M517.8 413.7v4.7M518.0 413.7v4.7M518.2 413.7v4.7M518.6 413.7v4.7M518.6 413.7v4.7M518.9 413.7v4.7M519.4 413.7v4.7M519.6 413.7v4.7M520.0 413.7v4.7M520.1 413.7v4.7M520.0 413.7v4.7M520.4 413.7v4.7M520.6 413.7v4.7M521.0 413.7v4.7M521.0 413.7v4.7M521.3 413.7v4.7M521.9 413.7v4.7M521.9 413.7v4.7M522.1 413.7v4.7M522.7 413.7v4.7M522.7 413.7v4.7M522.9 413.7v4.7M523.1 413.7v4.7M523.5 413.7v4.7M523.5 413.7v4.7M524.2 413.7v4.7M524.4 413.7v4.7M524.5 413.7v4.7M525.1 413.7v4.7M525.1 413.7v4.7M525.4 413.7v4.7M525.8 413.7v4.7M525.8 413.7v4.7M526.3 413.7v4.7M526.7 413.7v4.7M526.9 413.7v4.7M527.5 413.7v4.7M527.6 413.7v4.7M527.8 413.7v4.7M528.3 413.7v4.7M528.3 413.7v4.7M528.9 413.7v4.7M528.8 413.7v4.7M529.7 413.7v4.7M529.7 413.7v4.7M530.1 413.7v4.7M530.4 413.7v4.7M530.7 413.7v4.7M530.9 413.7v4.7M531.3 413.7v4.7M531.6 413.7v4.7M531.8 413.7v4.7M532.1 413.7v4.7M532.6 413.7v4.7M533.2 413.7v4.7M533.4 413.7v4.7M533.3 413.7v4.7M533.9 413.7v4.7M534.1 413.7v4.7M534.7 413.7v4.7M535.1 413.7v4.7M535.4 413.7v4.7M535.4 413.7v4.7M535.8 413.7v4.7M536.3 413.7v4.7M536.7 413.7v4.7M536.9 413.7v4.7M537.0 413.7v4.7M537.5 413.7v4.7M537.9 413.7v4.7M537.8 413.7v4.7M538.1 413.7v4.7M538.6 413.7v4.7M538.8 413.7v4.7M539.0 413.7v4.7M539.4 413.7v4.7M539.9 413.7v4.7M539.9 413.7v4.7M540.1 413.7v4.7M540.6 413.7v4.7M540.5 413.7v4.7M540.9 413.7v4.7M541.2 413.7v4.7M541.6 413.7v4.7M541.8 413.7v4.7M541.8 413.7v4.7M542.1 413.7v4.7M542.5 413.7v4.7M542.7 413.7v4.7M542.8 413.7v4.7M543.1 413.7v4.7M543.3 413.7v4.7M543.7 413.7v4.7M543.9 413.7v4.7M544.0 413.7v4.7M544.5 413.7v4.7M544.7 413.7v4.7M544.9 413.7v4.7M544.8 413.7v4.7M545.2 413.7v4.7M545.5 413.7v4.7M545.6 413.7v4.7M545.8 413.7v4.7M546.0 413.7v4.7M546.0 413.7v4.7M546.3 413.7v4.7M546.7 413.7v4.7M546.9 413.7v4.7M546.7 413.7v4.7M547.1 413.7v4.7M547.2 413.7v4.7M547.7 413.7v4.7M547.5 413.7v4.7M547.9 413.7v4.7M548.1 413.7v4.7M548.3 413.7v4.7M548.3 413.7v4.7M548.6 413.7v4.7M548.8 413.7v4.7M549.0 413.7v4.7M549.3 413.7v4.7M549.4 413.7v4.7M549.6 413.7v4.7M549.8 413.7v4.7M550.1 413.7v4.7M550.3 413.7v4.7M550.3 413.7v4.7M550.5 413.7v4.7M550.7 413.7v4.7M550.8 413.7v4.7M551.2 413.7v4.7M551.3 413.7v4.7M551.5 413.7v4.7M551.5 413.7v4.7M551.8 413.7v4.7M552.1 413.7v4.7M552.4 413.7v4.7M552.3 413.7v4.7M552.6 413.7v4.7M552.9 413.7v4.7M553.2 413.7v4.7M553.0 413.7v4.7M553.4 413.7v4.7M553.6 413.7v4.7M553.7 413.7v4.7M554.1 413.7v4.7M554.1 413.7v4.7M554.3 413.7v4.7M554.5 413.7v4.7M554.8 413.7v4.7M555.1 413.7v4.7M555.4 413.7v4.7M555.3 413.7v4.7M555.5 413.7v4.7M555.8 413.7v4.7M556.2 413.7v4.7M556.0 413.7v4.7M556.4 413.7v4.7M556.5 413.7v4.7M557.0 413.7v4.7M556.8 413.7v4.7M557.0 413.7v4.7M557.6 413.7v4.7M557.6 413.7v4.7M557.9 413.7v4.7M558.2 413.7v4.7M558.3 413.7v4.7M558.6 413.7v4.7M558.8 413.7v4.7M559.2 413.7v4.7M559.2 413.7v4.7M559.4 413.7v4.7M559.6 413.7v4.7M559.7 413.7v4.7M560.1 413.7v4.7M560.3 413.7v4.7M560.4 413.7v4.7M560.7 413.7v4.7M561.1 413.7v4.7M561.0 413.7v4.7M561.3 413.7v4.7M561.5 413.7v4.7M561.8 413.7v4.7M562.1 413.7v4.7M562.2 413.7v4.7M562.5 413.7v4.7M562.6 413.7v4.7M563.1 413.7v4.7M563.4 413.7v4.7M563.4 413.7v4.7M563.6 413.7v4.7M563.8 413.7v4.7M564.1 413.7v4.7M564.4 413.7v4.7M564.6 413.7v4.7M564.9 413.7v4.7M565.2 413.7v4.7M565.4 413.7v4.7M565.7 413.7v4.7M566.0 413.7v4.7M566.2 413.7v4.7M566.0 413.7v4.7M566.7 413.7v4.7M566.9 413.7v4.7M567.1 413.7v4.7M567.4 413.7v4.7M567.6 413.7v4.7M568.1 413.7v4.7M568.4 413.7v4.7M568.3 413.7v4.7M568.8 413.7v4.7M569.1 413.7v4.7M569.4 413.7v4.7M569.6 413.7v4.7M569.8 413.7v4.7M570.3 413.7v4.7M570.6 413.7v4.7M571.0 413.7v4.7M571.1 413.7v4.7M571.4 413.7v4.7M571.7 413.7v4.7M572.1 413.7v4.7M572.2 413.7v4.7M572.8 413.7v4.7M573.0 413.7v4.7M573.4 413.7v4.7M573.5 413.7v4.7M573.8 413.7v4.7M574.5 413.7v4.7M574.5 413.7v4.7M575.1 413.7v4.7M575.6 413.7v4.7M575.9 413.7v4.7M576.2 413.7v4.7M576.4 413.7v4.7M577.0 413.7v4.7M577.6 413.7v4.7M577.9 413.7v4.7M578.4 413.7v4.7M578.6 413.7v4.7M579.1 413.7v4.7M579.7 413.7v4.7M579.8 413.7v4.7M580.4 413.7v4.7M580.5 413.7v4.7M581.2 413.7v4.7M581.9 413.7v4.7M582.4 413.7v4.7M582.6 413.7v4.7M583.1 413.7v4.7M583.8 413.7v4.7M584.4 413.7v4.7M584.3 413.7v4.7M585.2 413.7v4.7M585.9 413.7v4.7M586.3 413.7v4.7M586.8 413.7v4.7M587.0 413.7v4.7M587.8 413.7v4.7M588.4 413.7v4.7M588.6 413.7v4.7M589.1 413.7v4.7M589.6 413.7v4.7M589.9 413.7v4.7M590.5 413.7v4.7M591.1 413.7v4.7M591.2 413.7v4.7M592.2 413.7v4.7M592.4 413.7v4.7M593.1 413.7v4.7M593.4 413.7v4.7M594.0 413.7v4.7M594.2 413.7v4.7M594.5 413.7v4.7M595.1 413.7v4.7M595.6 413.7v4.7M596.1 413.7v4.7M596.4 413.7v4.7M597.1 413.7v4.7M597.2 413.7v4.7M597.8 413.7v4.7M598.3 413.7v4.7M598.4 413.7v4.7M599.1 413.7v4.7M599.4 413.7v4.7M599.8 413.7v4.7M600.3 413.7v4.7M600.6 413.7v4.7M600.8 413.7v4.7M601.2 413.7v4.7M602.0 413.7v4.7M601.9 413.7v4.7M602.6 413.7v4.7M602.9 413.7v4.7M603.2 413.7v4.7M603.7 413.7v4.7M603.8 413.7v4.7M604.1 413.7v4.7M604.4 413.7v4.7M604.9 413.7v4.7M605.3 413.7v4.7M605.6 413.7v4.7M605.7 413.7v4.7M606.1 413.7v4.7M606.4 413.7v4.7M606.8 413.7v4.7M607.1 413.7v4.7M607.4 413.7v4.7M607.5 413.7v4.7M608.2 413.7v4.7M608.1 413.7v4.7M608.3 413.7v4.7M608.7 413.7v4.7M608.9 413.7v4.7M609.5 413.7v4.7M609.6 413.7v4.7M609.5 413.7v4.7M609.9 413.7v4.7M610.3 413.7v4.7M610.4 413.7v4.7M610.9 413.7v4.7M610.9 413.7v4.7M611.1 413.7v4.7M611.3 413.7v4.7M611.6 413.7v4.7M612.0 413.7v4.7M612.2 413.7v4.7M612.3 413.7v4.7M612.3 413.7v4.7M612.7 413.7v4.7M613.0 413.7v4.7M613.1 413.7v4.7M613.4 413.7v4.7M613.6 413.7v4.7M613.9 413.7v4.7M613.8 413.7v4.7M614.2 413.7v4.7M614.4 413.7v4.7M614.5 413.7v4.7M614.8 413.7v4.7M614.9 413.7v4.7M615.1 413.7v4.7M615.4 413.7v4.7M615.7 413.7v4.7M615.9 413.7v4.7M615.8 413.7v4.7M616.1 413.7v4.7M616.1 413.7v4.7M616.2 413.7v4.7M616.5 413.7v4.7M616.9 413.7v4.7M617.1 413.7v4.7M617.1 413.7v4.7M617.3 413.7v4.7M617.6 413.7v4.7M617.7 413.7v4.7M617.8 413.7v4.7M618.0 413.7v4.7M618.5 413.7v4.7M618.3 413.7v4.7M618.7 413.7v4.7M618.9 413.7v4.7M618.7 413.7v4.7M619.1 413.7v4.7M619.5 413.7v4.7M619.7 413.7v4.7M619.6 413.7v4.7M619.8 413.7v4.7M620.2 413.7v4.7M620.1 413.7v4.7M620.3 413.7v4.7M620.5 413.7v4.7M620.9 413.7v4.7M620.8 413.7v4.7M621.1 413.7v4.7M621.3 413.7v4.7M621.4 413.7v4.7M621.6 413.7v4.7M622.0 413.7v4.7M622.1 413.7v4.7M622.2 413.7v4.7M622.4 413.7v4.7M622.6 413.7v4.7M622.9 413.7v4.7M623.1 413.7v4.7M623.1 413.7v4.7M623.4 413.7v4.7M623.6 413.7v4.7M623.8 413.7v4.7M623.9 413.7v4.7M624.2 413.7v4.7M624.3 413.7v4.7M624.4 413.7v4.7M624.6 413.7v4.7M624.8 413.7v4.7M625.0 413.7v4.7M625.2 413.7v4.7M625.4 413.7v4.7M625.6 413.7v4.7M625.8 413.7v4.7M626.2 413.7v4.7M626.1 413.7v4.7M626.6 413.7v4.7M626.7 413.7v4.7M626.8 413.7v4.7M627.1 413.7v4.7M627.4 413.7v4.7M627.6 413.7v4.7M627.7 413.7v4.7M628.0 413.7v4.7M628.2 413.7v4.7M628.4 413.7v4.7M628.6 413.7v4.7M628.6 413.7v4.7M629.1 413.7v4.7M629.0 413.7v4.7M629.2 413.7v4.7M629.5 413.7v4.7M629.9 413.7v4.7M630.1 413.7v4.7M630.4 413.7v4.7M630.6 413.7v4.7M630.9 413.7v4.7M631.1 413.7v4.7M631.2 413.7v4.7M631.3 413.7v4.7M631.7 413.7v4.7M632.0 413.7v4.7M632.2 413.7v4.7M632.5 413.7v4.7M632.8 413.7v4.7M632.8 413.7v4.7M633.1 413.7v4.7M633.5 413.7v4.7M633.9 413.7v4.7M633.8 413.7v4.7M634.3 413.7v4.7M634.3 413.7v4.7M634.7 413.7v4.7M634.9 413.7v4.7M635.0 413.7v4.7M635.4 413.7v4.7M635.9 413.7v4.7M636.0 413.7v4.7M636.0 413.7v4.7M636.7 413.7v4.7M636.9 413.7v4.7M637.0 413.7v4.7M637.4 413.7v4.7M637.8 413.7v4.7M638.0 413.7v4.7M638.4 413.7v4.7M638.6 413.7v4.7M638.8 413.7v4.7M639.1 413.7v4.7M639.7 413.7v4.7M639.9 413.7v4.7M640.2 413.7v4.7M640.4 413.7v4.7M640.6 413.7v4.7M640.8 413.7v4.7M641.4 413.7v4.7M641.6 413.7v4.7M641.9 413.7v4.7M642.1 413.7v4.7M642.4 413.7v4.7M642.9 413.7v4.7M643.2 413.7v4.7M643.4 413.7v4.7M643.8 413.7v4.7M644.1 413.7v4.7M644.1 413.7v4.7M644.6 413.7v4.7M644.8 413.7v4.7M645.0 413.7v4.7M645.3 413.7v4.7M645.8 413.7v4.7M646.0 413.7v4.7M646.3 413.7v4.7M646.7 413.7v4.7M647.0 413.7v4.7M647.0 413.7v4.7M647.3 413.7v4.7M647.6 413.7v4.7M647.9 413.7v4.7M648.0 413.7v4.7M648.3 413.7v4.7M648.7 413.7v4.7M648.8 413.7v4.7M649.1 413.7v4.7M649.3 413.7v4.7M649.7 413.7v4.7M649.8 413.7v4.7M650.1 413.7v4.7M650.3 413.7v4.7M650.6 413.7v4.7M650.9 413.7v4.7M650.8 413.7v4.7M651.3 413.7v4.7M651.5 413.7v4.7M651.5 413.7v4.7M651.8 413.7v4.7M652.0 413.7v4.7M652.2 413.7v4.7M652.5 413.7v4.7M652.5 413.7v4.7M652.9 413.7v4.7M653.0 413.7v4.7M653.3 413.7v4.7M653.7 413.7v4.7M653.9 413.7v4.7M653.9 413.7v4.7M654.2 413.7v4.7M654.3 413.7v4.7M654.7 413.7v4.7M654.5 413.7v4.7M655.2 413.7v4.7M655.3 413.7v4.7M655.3 413.7v4.7M655.5 413.7v4.7M655.9 413.7v4.7M655.8 413.7v4.7M656.0 413.7v4.7M656.3 413.7v4.7M656.7 413.7v4.7M656.9 413.7v4.7M656.8 413.7v4.7M657.1 413.7v4.7M657.4 413.7v4.7M657.6 413.7v4.7M657.9 413.7v4.7M657.8 413.7v4.7M658.2 413.7v4.7M658.3 413.7v4.7M658.7 413.7v4.7M658.7 413.7v4.7M658.9 413.7v4.7M659.2 413.7v4.7M659.2 413.7v4.7M659.5 413.7v4.7M659.7 413.7v4.7M659.9 413.7v4.7M659.8 413.7v4.7M660.2 413.7v4.7M660.2 413.7v4.7M660.6 413.7v4.7M660.9 413.7v4.7M661.1 413.7v4.7M661.4 413.7v4.7M661.5 413.7v4.7M661.5 413.7v4.7M661.8 413.7v4.7M662.1 413.7v4.7M662.1 413.7v4.7M662.6 413.7v4.7M662.6 413.7v4.7M662.8 413.7v4.7M662.9 413.7v4.7M663.1 413.7v4.7M663.3 413.7v4.7M663.7 413.7v4.7M663.8 413.7v4.7M663.7 413.7v4.7M664.3 413.7v4.7M664.4 413.7v4.7M664.5 413.7v4.7M664.9 413.7v4.7M664.9 413.7v4.7M665.4 413.7v4.7M665.6 413.7v4.7M665.8 413.7v4.7M665.8 413.7v4.7M666.1 413.7v4.7M666.5 413.7v4.7M666.6 413.7v4.7M666.9 413.7v4.7M666.8 413.7v4.7M667.0 413.7v4.7M667.4 413.7v4.7M667.6 413.7v4.7M667.9 413.7v4.7M668.2 413.7v4.7M668.3 413.7v4.7M668.6 413.7v4.7M668.8 413.7v4.7M669.1 413.7v4.7M669.4 413.7v4.7M669.5 413.7v4.7M669.7 413.7v4.7M670.0 413.7v4.7M670.0 413.7v4.7M670.4 413.7v4.7" stroke="#000" stroke-width="0.9" stroke-opacity="0.9" fill="none"/>
<path d="M552.00,243.30V418.40M622.05,243.30V418.40" stroke="#000" stroke-width="1" fill="none"/>
<path d="M511.30,365.40 C511.85,365.47 513.43,365.65 514.60,365.80 C515.77,365.95 517.22,365.90 518.30,366.30 C519.38,366.70 520.18,367.27 521.10,368.20 C522.02,369.13 522.80,370.52 523.80,371.90 C524.80,373.28 526.02,375.17 527.10,376.50 C528.18,377.83 529.30,379.23 530.30,379.90 C531.30,380.57 532.17,380.68 533.10,380.50 C534.03,380.32 534.97,379.85 535.90,378.80 C536.83,377.75 537.77,376.05 538.70,374.20 C539.63,372.35 540.57,369.87 541.50,367.70 C542.43,365.53 543.38,363.37 544.30,361.20 C545.22,359.03 546.08,356.33 547.00,354.70 C547.92,353.07 548.87,351.72 549.80,351.40 C550.73,351.08 551.52,351.87 552.60,352.80 C553.68,353.73 555.07,355.68 556.30,357.00 C557.53,358.32 558.88,359.50 560.00,360.70 C561.12,361.90 561.88,362.57 563.00,364.20 C564.12,365.83 565.47,368.45 566.70,370.50 C567.93,372.55 569.17,374.50 570.40,376.50 C571.63,378.50 572.87,380.65 574.10,382.50 C575.33,384.35 576.55,386.08 577.80,387.60 C579.05,389.12 580.35,390.62 581.60,391.60 C582.85,392.58 584.15,393.18 585.30,393.50 C586.45,393.82 587.42,393.78 588.50,393.50 C589.58,393.22 590.63,392.52 591.80,391.80 C592.97,391.08 594.27,389.97 595.50,389.20 C596.73,388.43 597.97,388.08 599.20,387.20 C600.43,386.32 601.82,385.30 602.90,383.90 C603.98,382.50 604.77,380.73 605.70,378.80 C606.63,376.87 607.57,374.77 608.50,372.30 C609.43,369.83 610.45,366.62 611.30,364.00 C612.15,361.38 612.83,358.92 613.60,356.60 C614.37,354.28 615.03,351.65 615.90,350.10 C616.77,348.55 617.87,347.47 618.80,347.30 C619.73,347.13 620.58,348.02 621.50,349.10 C622.42,350.18 623.37,352.17 624.30,353.80 C625.23,355.43 626.10,357.28 627.10,358.90 C628.10,360.52 629.22,361.95 630.30,363.50 C631.38,365.05 632.52,366.57 633.60,368.20 C634.68,369.83 635.80,371.92 636.80,373.30 C637.80,374.68 638.72,375.82 639.60,376.50 C640.48,377.18 641.25,377.55 642.10,377.40 C642.95,377.25 643.80,376.75 644.70,375.60 C645.60,374.45 646.57,372.43 647.50,370.50 C648.43,368.57 649.38,366.10 650.30,364.00 C651.22,361.90 652.08,359.48 653.00,357.90 C653.92,356.32 654.87,355.22 655.80,354.50 C656.73,353.78 657.67,353.57 658.60,353.60 C659.53,353.63 660.47,354.05 661.40,354.70 C662.33,355.35 663.27,356.42 664.20,357.50 C665.13,358.58 665.95,360.05 667.00,361.20 C668.05,362.35 669.92,363.87 670.50,364.40" stroke="#000" stroke-width="1.25" fill="none" stroke-linejoin="round"/>
<rect x="511.10" y="243.30" width="159.40" height="175.10" fill="none" stroke="#222" stroke-width="1"/>
<path d="M505.20,418.40H511.10" stroke="#222" stroke-width="1"/>
<text x="500.30" y="422.90" font-size="12" text-anchor="end" font-family="Liberation Sans, sans-serif" fill="#111">0.00</text>
<path d="M505.20,360.03H511.10" stroke="#222" stroke-width="1"/>
<text x="500.30" y="364.53" font-size="12" text-anchor="end" font-family="Liberation Sans, sans-serif" fill="#111">0.05</text>
<path d="M505.20,301.67H511.10" stroke="#222" stroke-width="1"/>
<text x="500.30" y="306.17" font-size="12" text-anchor="end" font-family="Liberation Sans, sans-serif" fill="#111">0.10</text>
<path d="M505.20,243.30H511.10" stroke="#222" stroke-width="1"/>
<text x="500.30" y="247.80" font-size="12" text-anchor="end" font-family="Liberation Sans, sans-serif" fill="#111">0.15</text>
<path d="M511.10,418.40V424.00" stroke="#222" stroke-width="1"/>
<path d="M550.95,418.40V424.00" stroke="#222" stroke-width="1"/>
<path d="M590.80,418.40V424.00" stroke="#222" stroke-width="1"/>
<path d="M630.65,418.40V424.00" stroke="#222" stroke-width="1"/>
<path d="M670.50,418.40V424.00" stroke="#222" stroke-width="1"/>
<text x="590.80" y="237.90" font-size="13.6" text-anchor="middle" font-family="Liberation Sans, sans-serif" fill="#111">2012 Autumn</text>
<rect x="58.90" y="477.00" width="31.50" height="175.20" fill="#b3b3b3"/>
<rect x="180.45" y="477.00" width="37.95" height="175.20" fill="#b3b3b3"/>
<path d="M59.2 647.5v4.7M60.2 647.5v4.7M61.1 647.5v4.7M62.7 647.5v4.7M63.8 647.5v4.7M64.8 647.5v4.7M66.3 647.5v4.7M66.6 647.5v4.7M67.8 647.5v4.7M69.0 647.5v4.7M69.7 647.5v4.7M70.9 647.5v4.7M72.2 647.5v4.7M73.0 647.5v4.7M73.6 647.5v4.7M74.2 647.5v4.7M74.8 647.5v4.7M75.5 647.5v4.7M76.6 647.5v4.7M77.3 647.5v4.7M78.1 647.5v4.7M78.5 647.5v4.7M79.2 647.5v4.7M79.6 647.5v4.7M80.1 647.5v4.7M80.7 647.5v4.7M81.2 647.5v4.7M81.9 647.5v4.7M82.5 647.5v4.7M82.7 647.5v4.7M82.9 647.5v4.7M83.3 647.5v4.7M83.9 647.5v4.7M84.0 647.5v4.7M84.7 647.5v4.7M85.1 647.5v4.7M85.5 647.5v4.7M85.6 647.5v4.7M86.2 647.5v4.7M86.5 647.5v4.7M86.9 647.5v4.7M86.9 647.5v4.7M87.1 647.5v4.7M87.5 647.5v4.7M87.9 647.5v4.7M88.2 647.5v4.7M88.5 647.5v4.7M88.8 647.5v4.7M89.1 647.5v4.7M89.5 647.5v4.7M89.7 647.5v4.7M89.9 647.5v4.7M90.2 647.5v4.7M90.4 647.5v4.7M90.9 647.5v4.7M90.9 647.5v4.7M91.3 647.5v4.7M91.5 647.5v4.7M92.0 647.5v4.7M92.2 647.5v4.7M92.7 647.5v4.7M92.8 647.5v4.7M93.1 647.5v4.7M93.3 647.5v4.7M93.6 647.5v4.7M93.9 647.5v4.7M94.0 647.5v4.7M94.3 647.5v4.7M94.8 647.5v4.7M95.2 647.5v4.7M95.4 647.5v4.7M95.5 647.5v4.7M95.7 647.5v4.7M95.9 647.5v4.7M96.5 647.5v4.7M96.6 647.5v4.7M96.8 647.5v4.7M97.2 647.5v4.7M97.4 647.5v4.7M97.7 647.5v4.7M98.0 647.5v4.7M98.5 647.5v4.7M98.3 647.5v4.7M98.5 647.5v4.7M98.8 647.5v4.7M99.1 647.5v4.7M99.4 647.5v4.7M99.7 647.5v4.7M99.8 647.5v4.7M100.3 647.5v4.7M100.6 647.5v4.7M100.9 647.5v4.7M101.4 647.5v4.7M101.4 647.5v4.7M101.7 647.5v4.7M102.0 647.5v4.7M102.1 647.5v4.7M102.6 647.5v4.7M102.6 647.5v4.7M103.1 647.5v4.7M103.4 647.5v4.7M103.7 647.5v4.7M103.9 647.5v4.7M104.2 647.5v4.7M104.5 647.5v4.7M104.5 647.5v4.7M105.0 647.5v4.7M105.4 647.5v4.7M105.7 647.5v4.7M105.9 647.5v4.7M106.3 647.5v4.7M106.5 647.5v4.7M107.0 647.5v4.7M107.1 647.5v4.7M107.4 647.5v4.7M107.5 647.5v4.7M107.9 647.5v4.7M108.3 647.5v4.7M108.5 647.5v4.7M108.8 647.5v4.7M109.3 647.5v4.7M109.8 647.5v4.7M109.7 647.5v4.7M110.1 647.5v4.7M110.7 647.5v4.7M110.7 647.5v4.7M111.3 647.5v4.7M111.5 647.5v4.7M111.9 647.5v4.7M112.2 647.5v4.7M112.6 647.5v4.7M113.0 647.5v4.7M113.2 647.5v4.7M113.7 647.5v4.7M113.8 647.5v4.7M114.3 647.5v4.7M114.9 647.5v4.7M115.3 647.5v4.7M115.9 647.5v4.7M116.4 647.5v4.7M116.3 647.5v4.7M116.9 647.5v4.7M117.5 647.5v4.7M118.0 647.5v4.7M119.0 647.5v4.7M119.2 647.5v4.7M119.4 647.5v4.7M120.5 647.5v4.7M120.8 647.5v4.7M121.8 647.5v4.7M122.2 647.5v4.7M122.9 647.5v4.7M123.9 647.5v4.7M124.4 647.5v4.7M125.1 647.5v4.7M126.2 647.5v4.7M126.7 647.5v4.7M128.6 647.5v4.7M129.7 647.5v4.7M130.5 647.5v4.7M132.3 647.5v4.7M133.8 647.5v4.7M134.6 647.5v4.7M135.0 647.5v4.7M137.2 647.5v4.7M138.5 647.5v4.7M139.0 647.5v4.7M140.4 647.5v4.7M141.0 647.5v4.7M142.1 647.5v4.7M143.6 647.5v4.7M144.5 647.5v4.7M145.5 647.5v4.7M146.3 647.5v4.7M147.2 647.5v4.7M147.3 647.5v4.7M148.5 647.5v4.7M149.0 647.5v4.7M149.5 647.5v4.7M150.1 647.5v4.7M150.9 647.5v4.7M152.0 647.5v4.7M152.0 647.5v4.7M152.5 647.5v4.7M153.2 647.5v4.7M153.8 647.5v4.7M154.1 647.5v4.7M155.1 647.5v4.7M155.7 647.5v4.7M156.2 647.5v4.7M156.3 647.5v4.7M156.8 647.5v4.7M157.9 647.5v4.7M157.9 647.5v4.7M158.6 647.5v4.7M159.2 647.5v4.7M159.5 647.5v4.7M160.2 647.5v4.7M160.4 647.5v4.7M160.9 647.5v4.7M161.3 647.5v4.7M161.6 647.5v4.7M162.5 647.5v4.7M162.3 647.5v4.7M162.9 647.5v4.7M163.2 647.5v4.7M163.6 647.5v4.7M164.1 647.5v4.7M164.4 647.5v4.7M164.8 647.5v4.7M165.1 647.5v4.7M165.4 647.5v4.7M165.6 647.5v4.7M166.1 647.5v4.7M166.4 647.5v4.7M166.6 647.5v4.7M166.9 647.5v4.7M167.2 647.5v4.7M167.6 647.5v4.7M168.0 647.5v4.7M167.8 647.5v4.7M168.5 647.5v4.7M168.5 647.5v4.7M168.8 647.5v4.7M169.1 647.5v4.7M169.3 647.5v4.7M169.8 647.5v4.7M170.0 647.5v4.7M170.2 647.5v4.7M170.5 647.5v4.7M170.6 647.5v4.7M171.1 647.5v4.7M171.3 647.5v4.7M171.3 647.5v4.7M171.6 647.5v4.7M171.8 647.5v4.7M172.1 647.5v4.7M172.4 647.5v4.7M172.7 647.5v4.7M172.8 647.5v4.7M173.3 647.5v4.7M173.2 647.5v4.7M173.6 647.5v4.7M173.8 647.5v4.7M173.8 647.5v4.7M174.3 647.5v4.7M174.4 647.5v4.7M174.6 647.5v4.7M174.9 647.5v4.7M175.1 647.5v4.7M175.5 647.5v4.7M175.5 647.5v4.7M175.9 647.5v4.7M176.2 647.5v4.7M176.2 647.5v4.7M176.5 647.5v4.7M176.7 647.5v4.7M177.0 647.5v4.7M177.2 647.5v4.7M177.5 647.5v4.7M177.6 647.5v4.7M178.0 647.5v4.7M178.0 647.5v4.7M178.3 647.5v4.7M178.5 647.5v4.7M178.5 647.5v4.7M179.0 647.5v4.7M179.2 647.5v4.7M179.1 647.5v4.7M179.7 647.5v4.7M179.8 647.5v4.7M180.2 647.5v4.7M180.2 647.5v4.7M180.7 647.5v4.7M181.0 647.5v4.7M181.2 647.5v4.7M181.4 647.5v4.7M181.5 647.5v4.7M181.6 647.5v4.7M182.0 647.5v4.7M182.1 647.5v4.7M182.3 647.5v4.7M182.8 647.5v4.7M183.0 647.5v4.7M183.1 647.5v4.7M183.4 647.5v4.7M183.5 647.5v4.7M183.8 647.5v4.7M184.2 647.5v4.7M184.5 647.5v4.7M184.9 647.5v4.7M185.1 647.5v4.7M185.3 647.5v4.7M185.7 647.5v4.7M186.0 647.5v4.7M186.4 647.5v4.7M186.5 647.5v4.7M187.0 647.5v4.7M187.2 647.5v4.7M187.7 647.5v4.7M187.5 647.5v4.7M188.4 647.5v4.7M188.9 647.5v4.7M188.9 647.5v4.7M189.5 647.5v4.7M190.0 647.5v4.7M190.5 647.5v4.7M190.6 647.5v4.7M191.1 647.5v4.7M191.7 647.5v4.7M191.8 647.5v4.7M192.6 647.5v4.7M193.5 647.5v4.7M194.1 647.5v4.7M194.1 647.5v4.7M195.6 647.5v4.7M196.1 647.5v4.7M197.2 647.5v4.7M197.9 647.5v4.7M198.8 647.5v4.7M200.1 647.5v4.7M202.5 647.5v4.7M204.5 647.5v4.7M207.0 647.5v4.7M210.4 647.5v4.7M212.2 647.5v4.7M214.1 647.5v4.7M216.0 647.5v4.7M217.0 647.5v4.7M218.5 647.5v4.7" stroke="#000" stroke-width="0.9" stroke-opacity="0.9" fill="none"/>
<path d="M90.40,477.00V652.20M180.45,477.00V652.20" stroke="#000" stroke-width="1" fill="none"/>
<path d="M59.00,632.20 C59.50,631.98 60.90,631.37 62.00,630.90 C63.10,630.43 64.40,629.88 65.60,629.40 C66.80,628.92 68.00,628.70 69.20,628.00 C70.40,627.30 71.70,626.37 72.80,625.20 C73.90,624.03 74.90,622.80 75.80,621.00 C76.70,619.20 77.40,616.90 78.20,614.40 C79.00,611.90 79.80,609.20 80.60,606.00 C81.40,602.80 82.20,598.80 83.00,595.20 C83.80,591.60 84.60,587.80 85.40,584.40 C86.20,581.00 87.00,577.50 87.80,574.80 C88.60,572.10 89.40,569.70 90.20,568.20 C91.00,566.70 91.60,566.30 92.60,565.80 C93.60,565.30 95.10,565.40 96.20,565.20 C97.30,565.00 98.20,564.50 99.20,564.60 C100.20,564.70 101.20,565.00 102.20,565.80 C103.20,566.60 104.10,567.70 105.20,569.40 C106.30,571.10 107.75,573.65 108.80,576.00 C109.85,578.35 110.72,581.17 111.50,583.50 C112.28,585.83 112.75,587.50 113.50,590.00 C114.25,592.50 115.08,595.43 116.00,598.50 C116.92,601.57 118.00,605.25 119.00,608.40 C120.00,611.55 121.00,614.60 122.00,617.40 C123.00,620.20 124.00,623.00 125.00,625.20 C126.00,627.40 127.00,629.23 128.00,630.60 C129.00,631.97 130.10,632.85 131.00,633.40 C131.90,633.95 132.50,633.97 133.40,633.90 C134.30,633.83 135.30,633.48 136.40,633.00 C137.50,632.52 138.90,631.80 140.00,631.00 C141.10,630.20 142.00,629.47 143.00,628.20 C144.00,626.93 145.00,625.20 146.00,623.40 C147.00,621.60 148.00,619.30 149.00,617.40 C150.00,615.50 151.00,613.50 152.00,612.00 C153.00,610.50 154.00,609.60 155.00,608.40 C156.00,607.20 157.10,606.20 158.00,604.80 C158.90,603.40 159.60,602.20 160.40,600.00 C161.20,597.80 162.03,594.68 162.80,591.60 C163.57,588.52 164.37,584.35 165.00,581.50 C165.63,578.65 165.97,577.42 166.60,574.50 C167.23,571.58 168.03,567.35 168.80,564.00 C169.57,560.65 170.40,557.00 171.20,554.40 C172.00,551.80 172.70,549.90 173.60,548.40 C174.50,546.90 175.70,545.60 176.60,545.40 C177.50,545.20 178.20,545.90 179.00,547.20 C179.80,548.50 180.60,550.60 181.40,553.20 C182.20,555.80 183.00,559.20 183.80,562.80 C184.60,566.40 185.40,570.60 186.20,574.80 C187.00,579.00 187.80,583.60 188.60,588.00 C189.40,592.40 190.20,597.00 191.00,601.20 C191.80,605.40 192.60,609.40 193.40,613.20 C194.20,617.00 194.90,620.40 195.80,624.00 C196.70,627.60 197.80,631.90 198.80,634.80 C199.80,637.70 200.80,640.00 201.80,641.40 C202.80,642.80 203.70,643.10 204.80,643.20 C205.90,643.30 207.20,642.70 208.40,642.00 C209.60,641.30 210.80,640.10 212.00,639.00 C213.20,637.90 214.55,636.40 215.60,635.40 C216.65,634.40 217.85,633.40 218.30,633.00" stroke="#000" stroke-width="1.25" fill="none" stroke-linejoin="round"/>
<rect x="58.90" y="477.00" width="159.50" height="175.20" fill="none" stroke="#222" stroke-width="1"/>
<path d="M53.00,652.20H58.90" stroke="#222" stroke-width="1"/>
<text x="48.10" y="656.70" font-size="12" text-anchor="end" font-family="Liberation Sans, sans-serif" fill="#111">0.00</text>
<path d="M53.00,593.80H58.90" stroke="#222" stroke-width="1"/>
<text x="48.10" y="598.30" font-size="12" text-anchor="end" font-family="Liberation Sans, sans-serif" fill="#111">0.05</text>
<path d="M53.00,535.40H58.90" stroke="#222" stroke-width="1"/>
<text x="48.10" y="539.90" font-size="12" text-anchor="end" font-family="Liberation Sans, sans-serif" fill="#111">0.10</text>
<path d="M53.00,477.00H58.90" stroke="#222" stroke-width="1"/>
<text x="48.10" y="481.50" font-size="12" text-anchor="end" font-family="Liberation Sans, sans-serif" fill="#111">0.15</text>
<path d="M58.90,652.20V657.80" stroke="#222" stroke-width="1"/>
<path d="M98.78,652.20V657.80" stroke="#222" stroke-width="1"/>
<path d="M138.65,652.20V657.80" stroke="#222" stroke-width="1"/>
<path d="M178.53,652.20V657.80" stroke="#222" stroke-width="1"/>
<path d="M218.40,652.20V657.80" stroke="#222" stroke-width="1"/>
<text x="138.65" y="471.60" font-size="13.6" text-anchor="middle" font-family="Liberation Sans, sans-serif" fill="#111">2013 Spring</text>
<rect x="284.50" y="477.00" width="29.15" height="175.20" fill="#b3b3b3"/>
<rect x="409.40" y="477.00" width="34.10" height="175.20" fill="#b3b3b3"/>
<path d="M284.6 647.5v4.7M284.7 647.5v4.7M285.2 647.5v4.7M285.2 647.5v4.7M285.7 647.5v4.7M285.7 647.5v4.7M286.4 647.5v4.7M286.4 647.5v4.7M286.8 647.5v4.7M287.4 647.5v4.7M287.4 647.5v4.7M287.7 647.5v4.7M287.9 647.5v4.7M288.1 647.5v4.7M288.5 647.5v4.7M289.1 647.5v4.7M289.1 647.5v4.7M289.5 647.5v4.7M289.4 647.5v4.7M290.0 647.5v4.7M290.5 647.5v4.7M290.6 647.5v4.7M291.0 647.5v4.7M291.2 647.5v4.7M291.5 647.5v4.7M291.4 647.5v4.7M291.9 647.5v4.7M292.5 647.5v4.7M292.6 647.5v4.7M292.8 647.5v4.7M293.1 647.5v4.7M293.5 647.5v4.7M293.8 647.5v4.7M294.3 647.5v4.7M294.5 647.5v4.7M294.8 647.5v4.7M295.0 647.5v4.7M295.0 647.5v4.7M295.2 647.5v4.7M296.0 647.5v4.7M296.1 647.5v4.7M296.4 647.5v4.7M296.8 647.5v4.7M297.1 647.5v4.7M297.2 647.5v4.7M297.1 647.5v4.7M297.6 647.5v4.7M297.9 647.5v4.7M298.5 647.5v4.7M298.4 647.5v4.7M298.6 647.5v4.7M299.1 647.5v4.7M299.2 647.5v4.7M299.8 647.5v4.7M300.0 647.5v4.7M299.9 647.5v4.7M300.6 647.5v4.7M300.7 647.5v4.7M301.1 647.5v4.7M301.3 647.5v4.7M301.6 647.5v4.7M301.6 647.5v4.7M301.8 647.5v4.7M302.3 647.5v4.7M302.6 647.5v4.7M302.9 647.5v4.7M303.0 647.5v4.7M303.0 647.5v4.7M303.1 647.5v4.7M303.6 647.5v4.7M304.1 647.5v4.7M304.2 647.5v4.7M304.2 647.5v4.7M304.8 647.5v4.7M304.8 647.5v4.7M305.0 647.5v4.7M304.9 647.5v4.7M305.4 647.5v4.7M305.6 647.5v4.7M305.9 647.5v4.7M306.1 647.5v4.7M306.2 647.5v4.7M306.5 647.5v4.7M306.7 647.5v4.7M306.9 647.5v4.7M307.2 647.5v4.7M307.2 647.5v4.7M307.5 647.5v4.7M307.6 647.5v4.7M308.1 647.5v4.7M308.1 647.5v4.7M308.5 647.5v4.7M308.4 647.5v4.7M308.9 647.5v4.7M309.0 647.5v4.7M309.3 647.5v4.7M309.6 647.5v4.7M309.6 647.5v4.7M310.0 647.5v4.7M310.0 647.5v4.7M310.3 647.5v4.7M310.6 647.5v4.7M310.7 647.5v4.7M311.0 647.5v4.7M311.1 647.5v4.7M311.3 647.5v4.7M311.6 647.5v4.7M311.7 647.5v4.7M312.0 647.5v4.7M312.1 647.5v4.7M312.3 647.5v4.7M312.5 647.5v4.7M312.6 647.5v4.7M312.7 647.5v4.7M313.0 647.5v4.7M313.3 647.5v4.7M313.4 647.5v4.7M313.7 647.5v4.7M313.8 647.5v4.7M314.3 647.5v4.7M314.6 647.5v4.7M314.6 647.5v4.7M314.8 647.5v4.7M314.9 647.5v4.7M315.2 647.5v4.7M315.5 647.5v4.7M315.5 647.5v4.7M316.1 647.5v4.7M316.2 647.5v4.7M316.3 647.5v4.7M316.5 647.5v4.7M316.8 647.5v4.7M317.1 647.5v4.7M317.3 647.5v4.7M317.3 647.5v4.7M317.7 647.5v4.7M317.8 647.5v4.7M318.0 647.5v4.7M318.5 647.5v4.7M318.6 647.5v4.7M319.1 647.5v4.7M319.3 647.5v4.7M319.4 647.5v4.7M319.4 647.5v4.7M319.7 647.5v4.7M320.1 647.5v4.7M320.1 647.5v4.7M320.5 647.5v4.7M320.7 647.5v4.7M321.1 647.5v4.7M321.3 647.5v4.7M321.5 647.5v4.7M321.9 647.5v4.7M322.1 647.5v4.7M322.4 647.5v4.7M322.7 647.5v4.7M322.9 647.5v4.7M323.2 647.5v4.7M323.2 647.5v4.7M323.9 647.5v4.7M323.9 647.5v4.7M324.2 647.5v4.7M324.4 647.5v4.7M324.8 647.5v4.7M325.0 647.5v4.7M325.5 647.5v4.7M325.7 647.5v4.7M326.0 647.5v4.7M326.4 647.5v4.7M326.7 647.5v4.7M326.8 647.5v4.7M327.3 647.5v4.7M327.8 647.5v4.7M328.1 647.5v4.7M328.6 647.5v4.7M328.8 647.5v4.7M329.1 647.5v4.7M329.2 647.5v4.7M329.8 647.5v4.7M330.3 647.5v4.7M330.5 647.5v4.7M331.1 647.5v4.7M331.3 647.5v4.7M331.7 647.5v4.7M332.0 647.5v4.7M332.5 647.5v4.7M333.1 647.5v4.7M333.5 647.5v4.7M333.8 647.5v4.7M334.0 647.5v4.7M334.5 647.5v4.7M335.0 647.5v4.7M335.1 647.5v4.7M335.7 647.5v4.7M336.4 647.5v4.7M336.2 647.5v4.7M336.7 647.5v4.7M337.4 647.5v4.7M337.5 647.5v4.7M338.0 647.5v4.7M338.7 647.5v4.7M338.9 647.5v4.7M339.5 647.5v4.7M339.9 647.5v4.7M339.9 647.5v4.7M340.9 647.5v4.7M341.0 647.5v4.7M341.5 647.5v4.7M341.9 647.5v4.7M342.2 647.5v4.7M343.3 647.5v4.7M343.4 647.5v4.7M344.0 647.5v4.7M344.5 647.5v4.7M344.7 647.5v4.7M345.4 647.5v4.7M345.7 647.5v4.7M346.5 647.5v4.7M347.3 647.5v4.7M347.9 647.5v4.7M348.8 647.5v4.7M349.3 647.5v4.7M349.9 647.5v4.7M350.1 647.5v4.7M351.6 647.5v4.7M352.2 647.5v4.7M352.4 647.5v4.7M353.5 647.5v4.7M354.4 647.5v4.7M355.6 647.5v4.7M356.6 647.5v4.7M357.2 647.5v4.7M357.8 647.5v4.7M359.1 647.5v4.7M359.6 647.5v4.7M361.1 647.5v4.7M361.8 647.5v4.7M362.8 647.5v4.7M363.2 647.5v4.7M364.6 647.5v4.7M365.4 647.5v4.7M366.1 647.5v4.7M367.6 647.5v4.7M368.3 647.5v4.7M368.5 647.5v4.7M369.5 647.5v4.7M370.6 647.5v4.7M371.0 647.5v4.7M371.6 647.5v4.7M372.3 647.5v4.7M372.9 647.5v4.7M373.7 647.5v4.7M374.2 647.5v4.7M375.2 647.5v4.7M375.7 647.5v4.7M376.3 647.5v4.7M377.0 647.5v4.7M377.6 647.5v4.7M378.2 647.5v4.7M378.5 647.5v4.7M379.1 647.5v4.7M379.7 647.5v4.7M380.3 647.5v4.7M381.0 647.5v4.7M381.8 647.5v4.7M382.2 647.5v4.7M382.8 647.5v4.7M383.2 647.5v4.7M383.4 647.5v4.7M384.1 647.5v4.7M384.5 647.5v4.7M385.4 647.5v4.7M386.0 647.5v4.7M386.4 647.5v4.7M387.1 647.5v4.7M387.1 647.5v4.7M388.0 647.5v4.7M388.5 647.5v4.7M388.7 647.5v4.7M389.4 647.5v4.7M390.0 647.5v4.7M390.5 647.5v4.7M391.0 647.5v4.7M391.4 647.5v4.7M391.4 647.5v4.7M392.4 647.5v4.7M392.6 647.5v4.7M393.0 647.5v4.7M393.5 647.5v4.7M394.1 647.5v4.7M394.2 647.5v4.7M394.6 647.5v4.7M395.0 647.5v4.7M395.5 647.5v4.7M395.7 647.5v4.7M396.0 647.5v4.7M396.2 647.5v4.7M396.7 647.5v4.7M397.1 647.5v4.7M397.4 647.5v4.7M397.7 647.5v4.7M398.1 647.5v4.7M398.3 647.5v4.7M398.5 647.5v4.7M399.0 647.5v4.7M399.5 647.5v4.7M399.5 647.5v4.7M399.7 647.5v4.7M399.9 647.5v4.7M400.2 647.5v4.7M400.5 647.5v4.7M400.9 647.5v4.7M401.2 647.5v4.7M401.5 647.5v4.7M401.7 647.5v4.7M401.7 647.5v4.7M402.2 647.5v4.7M402.3 647.5v4.7M402.5 647.5v4.7M403.1 647.5v4.7M403.1 647.5v4.7M403.2 647.5v4.7M403.4 647.5v4.7M403.4 647.5v4.7M403.9 647.5v4.7M404.3 647.5v4.7M404.3 647.5v4.7M404.4 647.5v4.7M404.6 647.5v4.7M405.0 647.5v4.7M405.2 647.5v4.7M405.4 647.5v4.7M405.6 647.5v4.7M405.6 647.5v4.7M406.0 647.5v4.7M406.0 647.5v4.7M406.2 647.5v4.7M406.5 647.5v4.7M406.7 647.5v4.7M407.1 647.5v4.7M407.2 647.5v4.7M407.3 647.5v4.7M407.6 647.5v4.7M407.5 647.5v4.7M407.7 647.5v4.7M408.1 647.5v4.7M408.2 647.5v4.7M408.2 647.5v4.7M408.4 647.5v4.7M408.8 647.5v4.7M408.7 647.5v4.7M409.0 647.5v4.7M409.3 647.5v4.7M409.3 647.5v4.7M409.5 647.5v4.7M409.7 647.5v4.7M409.8 647.5v4.7M410.1 647.5v4.7M410.2 647.5v4.7M410.3 647.5v4.7M410.5 647.5v4.7M410.8 647.5v4.7M410.9 647.5v4.7M411.0 647.5v4.7M411.3 647.5v4.7M411.1 647.5v4.7M411.5 647.5v4.7M411.9 647.5v4.7M411.8 647.5v4.7M412.0 647.5v4.7M412.2 647.5v4.7M412.5 647.5v4.7M412.4 647.5v4.7M412.8 647.5v4.7M413.0 647.5v4.7M413.1 647.5v4.7M413.1 647.5v4.7M413.2 647.5v4.7M413.5 647.5v4.7M413.8 647.5v4.7M414.0 647.5v4.7M414.1 647.5v4.7M414.2 647.5v4.7M414.6 647.5v4.7M414.4 647.5v4.7M414.7 647.5v4.7M414.9 647.5v4.7M415.0 647.5v4.7M415.5 647.5v4.7M415.6 647.5v4.7M415.8 647.5v4.7M416.1 647.5v4.7M416.1 647.5v4.7M416.4 647.5v4.7M416.5 647.5v4.7M416.7 647.5v4.7M417.1 647.5v4.7M416.9 647.5v4.7M417.2 647.5v4.7M417.6 647.5v4.7M417.8 647.5v4.7M418.1 647.5v4.7M418.3 647.5v4.7M418.3 647.5v4.7M418.8 647.5v4.7M419.0 647.5v4.7M418.9 647.5v4.7M419.4 647.5v4.7M419.6 647.5v4.7M419.9 647.5v4.7M420.1 647.5v4.7M420.2 647.5v4.7M420.4 647.5v4.7M421.0 647.5v4.7M421.3 647.5v4.7M421.5 647.5v4.7M421.7 647.5v4.7M422.0 647.5v4.7M422.6 647.5v4.7M422.6 647.5v4.7M423.0 647.5v4.7M423.3 647.5v4.7M423.6 647.5v4.7M424.0 647.5v4.7M424.5 647.5v4.7M424.4 647.5v4.7M425.2 647.5v4.7M425.5 647.5v4.7M425.9 647.5v4.7M426.0 647.5v4.7M426.9 647.5v4.7M426.7 647.5v4.7M427.5 647.5v4.7M427.7 647.5v4.7M428.3 647.5v4.7M428.5 647.5v4.7M429.0 647.5v4.7M429.5 647.5v4.7M430.1 647.5v4.7M430.4 647.5v4.7M430.7 647.5v4.7M431.2 647.5v4.7M431.8 647.5v4.7M432.0 647.5v4.7M432.5 647.5v4.7M432.9 647.5v4.7M433.1 647.5v4.7M433.2 647.5v4.7M434.0 647.5v4.7M434.2 647.5v4.7M434.7 647.5v4.7M435.0 647.5v4.7M435.1 647.5v4.7M435.5 647.5v4.7M435.7 647.5v4.7M436.3 647.5v4.7M436.5 647.5v4.7M437.0 647.5v4.7M437.2 647.5v4.7M437.6 647.5v4.7M437.9 647.5v4.7M438.1 647.5v4.7M438.4 647.5v4.7M438.9 647.5v4.7M439.1 647.5v4.7M439.5 647.5v4.7M439.7 647.5v4.7M439.7 647.5v4.7M440.4 647.5v4.7M440.6 647.5v4.7M441.1 647.5v4.7M441.2 647.5v4.7M441.6 647.5v4.7M441.9 647.5v4.7M441.9 647.5v4.7M442.2 647.5v4.7M442.7 647.5v4.7M442.9 647.5v4.7M443.1 647.5v4.7M443.5 647.5v4.7" stroke="#000" stroke-width="0.9" stroke-opacity="0.9" fill="none"/>
<path d="M313.65,477.00V652.20M409.40,477.00V652.20" stroke="#000" stroke-width="1" fill="none"/>
<path d="M284.40,595.00 C284.92,595.07 286.45,595.22 287.50,595.40 C288.55,595.58 289.70,595.98 290.70,596.10 C291.70,596.22 292.58,596.33 293.50,596.10 C294.42,595.87 295.20,595.57 296.20,594.70 C297.20,593.83 298.50,592.45 299.50,590.90 C300.50,589.35 301.30,587.42 302.20,585.40 C303.10,583.38 303.98,580.80 304.90,578.80 C305.82,576.80 306.82,574.62 307.70,573.40 C308.58,572.18 309.30,571.50 310.20,571.50 C311.10,571.50 312.17,572.45 313.10,573.40 C314.03,574.35 314.80,575.57 315.80,577.20 C316.80,578.83 318.00,580.92 319.10,583.20 C320.20,585.48 321.30,588.17 322.40,590.90 C323.50,593.63 324.62,596.88 325.70,599.60 C326.78,602.32 327.82,605.38 328.90,607.20 C329.98,609.02 331.10,609.83 332.20,610.50 C333.30,611.17 334.40,610.80 335.50,611.20 C336.60,611.60 337.67,611.90 338.80,612.90 C339.93,613.90 341.13,615.50 342.30,617.20 C343.47,618.90 344.67,621.30 345.80,623.10 C346.93,624.90 347.92,626.55 349.10,628.00 C350.28,629.45 351.53,630.80 352.90,631.80 C354.27,632.80 355.83,633.45 357.30,634.00 C358.77,634.55 360.33,635.10 361.70,635.10 C363.07,635.10 364.15,634.73 365.50,634.00 C366.85,633.27 368.35,631.88 369.80,630.70 C371.25,629.52 372.73,628.00 374.20,626.90 C375.67,625.80 377.15,624.87 378.60,624.10 C380.05,623.33 381.45,622.93 382.90,622.30 C384.35,621.67 386.07,621.08 387.30,620.30 C388.53,619.52 389.37,618.72 390.30,617.60 C391.23,616.48 392.03,615.33 392.90,613.60 C393.77,611.87 394.62,609.72 395.50,607.20 C396.38,604.68 397.30,601.58 398.20,598.50 C399.10,595.42 400.00,592.15 400.90,588.70 C401.80,585.25 402.68,581.63 403.60,577.80 C404.52,573.97 405.57,569.25 406.40,565.70 C407.23,562.15 407.88,558.58 408.60,556.50 C409.32,554.42 409.98,553.30 410.70,553.20 C411.42,553.10 412.17,554.17 412.90,555.90 C413.63,557.63 414.37,560.68 415.10,563.60 C415.83,566.52 416.57,569.77 417.30,573.40 C418.03,577.03 418.77,581.58 419.50,585.40 C420.23,589.22 420.88,592.67 421.70,596.30 C422.52,599.93 423.50,604.38 424.40,607.20 C425.30,610.02 426.43,612.02 427.10,613.20 C427.77,614.38 427.77,614.48 428.40,614.30 C429.03,614.12 430.02,613.28 430.90,612.10 C431.78,610.92 432.70,609.02 433.70,607.20 C434.70,605.38 435.82,602.92 436.90,601.20 C437.98,599.48 439.10,597.93 440.20,596.90 C441.30,595.87 442.95,595.32 443.50,595.00" stroke="#000" stroke-width="1.25" fill="none" stroke-linejoin="round"/>
<rect x="284.50" y="477.00" width="159.00" height="175.20" fill="none" stroke="#222" stroke-width="1"/>
<path d="M278.60,652.20H284.50" stroke="#222" stroke-width="1"/>
<text x="273.70" y="656.70" font-size="12" text-anchor="end" font-family="Liberation Sans, sans-serif" fill="#111">0.00</text>
<path d="M278.60,593.80H284.50" stroke="#222" stroke-width="1"/>
<text x="273.70" y="598.30" font-size="12" text-anchor="end" font-family="Liberation Sans, sans-serif" fill="#111">0.05</text>
<path d="M278.60,535.40H284.50" stroke="#222" stroke-width="1"/>
<text x="273.70" y="539.90" font-size="12" text-anchor="end" font-family="Liberation Sans, sans-serif" fill="#111">0.10</text>
<path d="M278.60,477.00H284.50" stroke="#222" stroke-width="1"/>
<text x="273.70" y="481.50" font-size="12" text-anchor="end" font-family="Liberation Sans, sans-serif" fill="#111">0.15</text>
<path d="M284.50,652.20V657.80" stroke="#222" stroke-width="1"/>
<path d="M324.25,652.20V657.80" stroke="#222" stroke-width="1"/>
<path d="M364.00,652.20V657.80" stroke="#222" stroke-width="1"/>
<path d="M403.75,652.20V657.80" stroke="#222" stroke-width="1"/>
<path d="M443.50,652.20V657.80" stroke="#222" stroke-width="1"/>
<text x="364.00" y="471.60" font-size="13.6" text-anchor="middle" font-family="Liberation Sans, sans-serif" fill="#111">2013 Summer</text>
<rect x="511.10" y="477.00" width="41.20" height="175.20" fill="#b3b3b3"/>
<rect x="621.70" y="477.00" width="48.80" height="175.20" fill="#b3b3b3"/>
<path d="M511.1 647.5v4.7M511.3 647.5v4.7M511.8 647.5v4.7M512.1 647.5v4.7M512.0 647.5v4.7M512.7 647.5v4.7M512.8 647.5v4.7M513.2 647.5v4.7M513.4 647.5v4.7M513.5 647.5v4.7M514.0 647.5v4.7M514.4 647.5v4.7M514.6 647.5v4.7M514.9 647.5v4.7M515.0 647.5v4.7M515.4 647.5v4.7M515.7 647.5v4.7M515.9 647.5v4.7M516.2 647.5v4.7M516.6 647.5v4.7M516.9 647.5v4.7M517.1 647.5v4.7M517.3 647.5v4.7M517.7 647.5v4.7M517.9 647.5v4.7M518.4 647.5v4.7M518.7 647.5v4.7M518.7 647.5v4.7M519.0 647.5v4.7M519.6 647.5v4.7M519.6 647.5v4.7M520.1 647.5v4.7M520.4 647.5v4.7M520.7 647.5v4.7M520.7 647.5v4.7M521.4 647.5v4.7M521.4 647.5v4.7M521.6 647.5v4.7M521.8 647.5v4.7M522.3 647.5v4.7M522.5 647.5v4.7M522.8 647.5v4.7M523.1 647.5v4.7M523.4 647.5v4.7M523.7 647.5v4.7M524.2 647.5v4.7M524.4 647.5v4.7M524.6 647.5v4.7M525.0 647.5v4.7M525.4 647.5v4.7M525.6 647.5v4.7M525.5 647.5v4.7M526.1 647.5v4.7M526.4 647.5v4.7M526.6 647.5v4.7M527.0 647.5v4.7M527.3 647.5v4.7M527.6 647.5v4.7M527.9 647.5v4.7M528.2 647.5v4.7M528.5 647.5v4.7M528.9 647.5v4.7M529.2 647.5v4.7M529.6 647.5v4.7M529.9 647.5v4.7M530.2 647.5v4.7M530.4 647.5v4.7M531.0 647.5v4.7M530.9 647.5v4.7M531.4 647.5v4.7M531.8 647.5v4.7M531.9 647.5v4.7M532.4 647.5v4.7M532.6 647.5v4.7M532.9 647.5v4.7M533.1 647.5v4.7M533.3 647.5v4.7M533.6 647.5v4.7M534.2 647.5v4.7M534.3 647.5v4.7M534.6 647.5v4.7M535.2 647.5v4.7M535.3 647.5v4.7M535.6 647.5v4.7M535.9 647.5v4.7M536.2 647.5v4.7M536.6 647.5v4.7M536.7 647.5v4.7M537.2 647.5v4.7M537.4 647.5v4.7M537.8 647.5v4.7M538.0 647.5v4.7M538.4 647.5v4.7M538.7 647.5v4.7M538.6 647.5v4.7M539.0 647.5v4.7M539.4 647.5v4.7M539.5 647.5v4.7M539.9 647.5v4.7M539.8 647.5v4.7M540.2 647.5v4.7M540.3 647.5v4.7M540.9 647.5v4.7M541.1 647.5v4.7M541.2 647.5v4.7M541.6 647.5v4.7M541.5 647.5v4.7M541.8 647.5v4.7M542.5 647.5v4.7M542.4 647.5v4.7M542.9 647.5v4.7M543.1 647.5v4.7M543.4 647.5v4.7M543.4 647.5v4.7M543.9 647.5v4.7M543.8 647.5v4.7M544.1 647.5v4.7M544.3 647.5v4.7M544.4 647.5v4.7M544.8 647.5v4.7M545.0 647.5v4.7M545.3 647.5v4.7M545.6 647.5v4.7M545.6 647.5v4.7M545.8 647.5v4.7M546.1 647.5v4.7M546.3 647.5v4.7M546.6 647.5v4.7M546.5 647.5v4.7M547.1 647.5v4.7M547.1 647.5v4.7M547.3 647.5v4.7M547.5 647.5v4.7M548.0 647.5v4.7M548.2 647.5v4.7M548.1 647.5v4.7M548.4 647.5v4.7M548.7 647.5v4.7M549.0 647.5v4.7M549.2 647.5v4.7M549.3 647.5v4.7M549.7 647.5v4.7M549.6 647.5v4.7M549.8 647.5v4.7M550.1 647.5v4.7M550.4 647.5v4.7M550.5 647.5v4.7M550.8 647.5v4.7M550.8 647.5v4.7M551.3 647.5v4.7M551.3 647.5v4.7M551.6 647.5v4.7M551.8 647.5v4.7M552.0 647.5v4.7M552.4 647.5v4.7M552.3 647.5v4.7M552.6 647.5v4.7M552.8 647.5v4.7M553.2 647.5v4.7M553.4 647.5v4.7M553.6 647.5v4.7M553.9 647.5v4.7M554.0 647.5v4.7M554.1 647.5v4.7M554.6 647.5v4.7M554.5 647.5v4.7M554.9 647.5v4.7M555.0 647.5v4.7M555.4 647.5v4.7M555.8 647.5v4.7M555.8 647.5v4.7M556.1 647.5v4.7M556.4 647.5v4.7M556.5 647.5v4.7M556.9 647.5v4.7M557.1 647.5v4.7M557.3 647.5v4.7M557.5 647.5v4.7M558.0 647.5v4.7M558.3 647.5v4.7M558.6 647.5v4.7M558.5 647.5v4.7M559.0 647.5v4.7M559.5 647.5v4.7M559.8 647.5v4.7M559.9 647.5v4.7M560.3 647.5v4.7M560.6 647.5v4.7M561.0 647.5v4.7M561.2 647.5v4.7M561.6 647.5v4.7M562.1 647.5v4.7M562.5 647.5v4.7M562.9 647.5v4.7M563.1 647.5v4.7M563.5 647.5v4.7M563.9 647.5v4.7M564.4 647.5v4.7M565.2 647.5v4.7M565.2 647.5v4.7M566.2 647.5v4.7M566.1 647.5v4.7M566.7 647.5v4.7M567.4 647.5v4.7M567.8 647.5v4.7M568.6 647.5v4.7M568.9 647.5v4.7M569.7 647.5v4.7M570.3 647.5v4.7M570.5 647.5v4.7M571.5 647.5v4.7M571.9 647.5v4.7M572.5 647.5v4.7M573.0 647.5v4.7M573.7 647.5v4.7M574.3 647.5v4.7M575.4 647.5v4.7M575.8 647.5v4.7M577.0 647.5v4.7M577.5 647.5v4.7M577.9 647.5v4.7M578.6 647.5v4.7M579.1 647.5v4.7M580.7 647.5v4.7M581.4 647.5v4.7M582.3 647.5v4.7M582.7 647.5v4.7M583.8 647.5v4.7M584.8 647.5v4.7M585.3 647.5v4.7M586.2 647.5v4.7M587.1 647.5v4.7M588.7 647.5v4.7M588.7 647.5v4.7M590.1 647.5v4.7M590.3 647.5v4.7M591.5 647.5v4.7M592.9 647.5v4.7M593.8 647.5v4.7M594.1 647.5v4.7M595.2 647.5v4.7M596.4 647.5v4.7M596.9 647.5v4.7M598.2 647.5v4.7M599.1 647.5v4.7M599.5 647.5v4.7M600.3 647.5v4.7M601.3 647.5v4.7M602.3 647.5v4.7M603.1 647.5v4.7M603.2 647.5v4.7M604.1 647.5v4.7M604.4 647.5v4.7M605.2 647.5v4.7M605.8 647.5v4.7M606.5 647.5v4.7M607.2 647.5v4.7M608.2 647.5v4.7M608.6 647.5v4.7M608.8 647.5v4.7M609.2 647.5v4.7M609.8 647.5v4.7M610.4 647.5v4.7M611.0 647.5v4.7M611.3 647.5v4.7M611.8 647.5v4.7M612.2 647.5v4.7M613.1 647.5v4.7M613.0 647.5v4.7M613.7 647.5v4.7M614.1 647.5v4.7M614.6 647.5v4.7M614.9 647.5v4.7M615.4 647.5v4.7M615.9 647.5v4.7M615.8 647.5v4.7M616.3 647.5v4.7M616.6 647.5v4.7M617.0 647.5v4.7M617.4 647.5v4.7M617.9 647.5v4.7M618.2 647.5v4.7M618.5 647.5v4.7M618.6 647.5v4.7M619.2 647.5v4.7M619.3 647.5v4.7M619.5 647.5v4.7M620.0 647.5v4.7M620.4 647.5v4.7M620.5 647.5v4.7M621.2 647.5v4.7M621.1 647.5v4.7M621.6 647.5v4.7M622.0 647.5v4.7M622.1 647.5v4.7M622.4 647.5v4.7M622.6 647.5v4.7M622.9 647.5v4.7M623.4 647.5v4.7M623.4 647.5v4.7M623.7 647.5v4.7M623.9 647.5v4.7M624.1 647.5v4.7M624.7 647.5v4.7M624.9 647.5v4.7M624.9 647.5v4.7M625.5 647.5v4.7M625.5 647.5v4.7M626.0 647.5v4.7M625.8 647.5v4.7M626.3 647.5v4.7M626.3 647.5v4.7M626.8 647.5v4.7M626.9 647.5v4.7M627.2 647.5v4.7M627.2 647.5v4.7M628.0 647.5v4.7M627.7 647.5v4.7M628.2 647.5v4.7M628.3 647.5v4.7M628.8 647.5v4.7M629.1 647.5v4.7M629.4 647.5v4.7M629.6 647.5v4.7M629.8 647.5v4.7M630.1 647.5v4.7M630.2 647.5v4.7M630.6 647.5v4.7M630.8 647.5v4.7M630.8 647.5v4.7M631.1 647.5v4.7M631.6 647.5v4.7M631.7 647.5v4.7M632.0 647.5v4.7M632.3 647.5v4.7M632.7 647.5v4.7M632.9 647.5v4.7M633.2 647.5v4.7M633.3 647.5v4.7M633.6 647.5v4.7M633.8 647.5v4.7M634.3 647.5v4.7M634.7 647.5v4.7M634.6 647.5v4.7M635.0 647.5v4.7M635.3 647.5v4.7M635.4 647.5v4.7M635.8 647.5v4.7M636.0 647.5v4.7M636.4 647.5v4.7M636.6 647.5v4.7M636.8 647.5v4.7M637.0 647.5v4.7M637.4 647.5v4.7M638.0 647.5v4.7M638.2 647.5v4.7M638.7 647.5v4.7M639.0 647.5v4.7M638.9 647.5v4.7M639.3 647.5v4.7M639.6 647.5v4.7M640.0 647.5v4.7M640.3 647.5v4.7M640.6 647.5v4.7M641.2 647.5v4.7M641.4 647.5v4.7M641.6 647.5v4.7M641.8 647.5v4.7M642.1 647.5v4.7M642.4 647.5v4.7M642.6 647.5v4.7M643.2 647.5v4.7M643.6 647.5v4.7M643.8 647.5v4.7M644.1 647.5v4.7M644.3 647.5v4.7M644.5 647.5v4.7M644.7 647.5v4.7M645.4 647.5v4.7M645.3 647.5v4.7M645.9 647.5v4.7M646.3 647.5v4.7M646.3 647.5v4.7M646.6 647.5v4.7M647.0 647.5v4.7M647.4 647.5v4.7M647.6 647.5v4.7M647.8 647.5v4.7M648.2 647.5v4.7M648.7 647.5v4.7M648.6 647.5v4.7M649.1 647.5v4.7M649.3 647.5v4.7M649.5 647.5v4.7M649.7 647.5v4.7M650.2 647.5v4.7M650.1 647.5v4.7M650.6 647.5v4.7M650.8 647.5v4.7M650.8 647.5v4.7M651.4 647.5v4.7M651.5 647.5v4.7M652.0 647.5v4.7M652.1 647.5v4.7M652.0 647.5v4.7M652.5 647.5v4.7M652.8 647.5v4.7M652.8 647.5v4.7M653.1 647.5v4.7M653.4 647.5v4.7M653.6 647.5v4.7M653.9 647.5v4.7M654.1 647.5v4.7M654.4 647.5v4.7M654.7 647.5v4.7M654.8 647.5v4.7M655.2 647.5v4.7M655.2 647.5v4.7M655.7 647.5v4.7M655.9 647.5v4.7M655.8 647.5v4.7M656.1 647.5v4.7M656.3 647.5v4.7M657.0 647.5v4.7M657.0 647.5v4.7M657.0 647.5v4.7M657.4 647.5v4.7M657.5 647.5v4.7M657.8 647.5v4.7M658.0 647.5v4.7M658.3 647.5v4.7M658.3 647.5v4.7M658.8 647.5v4.7M659.2 647.5v4.7M659.3 647.5v4.7M659.4 647.5v4.7M659.5 647.5v4.7M659.9 647.5v4.7M660.0 647.5v4.7M660.4 647.5v4.7M660.5 647.5v4.7M660.8 647.5v4.7M661.2 647.5v4.7M661.0 647.5v4.7M661.3 647.5v4.7M661.5 647.5v4.7M662.1 647.5v4.7M662.1 647.5v4.7M662.4 647.5v4.7M662.5 647.5v4.7M663.0 647.5v4.7M663.1 647.5v4.7M663.3 647.5v4.7M663.7 647.5v4.7M663.8 647.5v4.7M664.2 647.5v4.7M664.2 647.5v4.7M664.6 647.5v4.7M664.9 647.5v4.7M665.1 647.5v4.7M665.4 647.5v4.7M665.7 647.5v4.7M665.9 647.5v4.7M666.1 647.5v4.7M666.4 647.5v4.7M666.9 647.5v4.7M666.7 647.5v4.7M667.0 647.5v4.7M667.7 647.5v4.7M667.6 647.5v4.7M668.0 647.5v4.7M668.3 647.5v4.7M668.4 647.5v4.7M668.9 647.5v4.7M669.2 647.5v4.7M669.5 647.5v4.7M669.5 647.5v4.7M669.7 647.5v4.7M670.1 647.5v4.7M670.4 647.5v4.7" stroke="#000" stroke-width="0.9" stroke-opacity="0.9" fill="none"/>
<path d="M552.30,477.00V652.20M621.70,477.00V652.20" stroke="#000" stroke-width="1" fill="none"/>
<path d="M511.30,594.40 C511.85,594.57 513.43,595.28 514.60,595.40 C515.77,595.52 517.22,595.10 518.30,595.10 C519.38,595.10 520.02,595.00 521.10,595.40 C522.18,595.80 523.57,596.83 524.80,597.50 C526.03,598.17 527.35,599.07 528.50,599.40 C529.65,599.73 530.70,599.70 531.70,599.50 C532.70,599.30 533.57,599.05 534.50,598.20 C535.43,597.35 536.37,595.95 537.30,594.40 C538.23,592.85 539.17,590.90 540.10,588.90 C541.03,586.90 541.97,584.42 542.90,582.40 C543.83,580.38 544.70,578.20 545.70,576.80 C546.70,575.40 547.90,574.23 548.90,574.00 C549.90,573.77 550.77,574.23 551.70,575.40 C552.63,576.57 553.57,578.52 554.50,581.00 C555.43,583.48 556.38,587.05 557.30,590.30 C558.22,593.55 559.08,597.13 560.00,600.50 C560.92,603.87 561.83,607.50 562.80,610.50 C563.77,613.50 564.83,616.38 565.80,618.50 C566.77,620.62 567.52,621.90 568.60,623.20 C569.68,624.50 571.07,625.37 572.30,626.30 C573.53,627.23 574.77,627.97 576.00,628.80 C577.23,629.63 578.47,630.53 579.70,631.30 C580.93,632.07 582.17,632.90 583.40,633.40 C584.63,633.90 585.87,634.12 587.10,634.30 C588.33,634.48 589.55,634.57 590.80,634.50 C592.05,634.43 593.35,634.23 594.60,633.90 C595.85,633.57 597.07,633.12 598.30,632.50 C599.53,631.88 600.77,631.20 602.00,630.20 C603.23,629.20 604.47,627.97 605.70,626.50 C606.93,625.03 608.32,623.03 609.40,621.40 C610.48,619.77 611.27,618.48 612.20,616.70 C613.13,614.92 614.07,612.78 615.00,610.70 C615.93,608.62 616.87,606.45 617.80,604.20 C618.73,601.95 619.67,599.45 620.60,597.20 C621.53,594.95 622.48,592.35 623.40,590.70 C624.32,589.05 625.18,588.02 626.10,587.30 C627.02,586.58 627.97,586.30 628.90,586.40 C629.83,586.50 630.77,586.95 631.70,587.90 C632.63,588.85 633.57,590.62 634.50,592.10 C635.43,593.58 636.37,595.48 637.30,596.80 C638.23,598.12 639.25,599.38 640.10,600.00 C640.95,600.62 641.55,600.80 642.40,600.50 C643.25,600.20 644.28,599.45 645.20,598.20 C646.12,596.95 646.90,594.93 647.90,593.00 C648.90,591.07 650.12,588.45 651.20,586.60 C652.28,584.75 653.23,582.98 654.40,581.90 C655.57,580.82 657.03,580.10 658.20,580.10 C659.37,580.10 660.25,580.82 661.40,581.90 C662.55,582.98 664.02,585.20 665.10,586.60 C666.18,588.00 667.00,589.15 667.90,590.30 C668.80,591.45 670.07,592.97 670.50,593.50" stroke="#000" stroke-width="1.25" fill="none" stroke-linejoin="round"/>
<rect x="511.10" y="477.00" width="159.40" height="175.20" fill="none" stroke="#222" stroke-width="1"/>
<path d="M505.20,652.20H511.10" stroke="#222" stroke-width="1"/>
<text x="500.30" y="656.70" font-size="12" text-anchor="end" font-family="Liberation Sans, sans-serif" fill="#111">0.00</text>
<path d="M505.20,593.80H511.10" stroke="#222" stroke-width="1"/>
<text x="500.30" y="598.30" font-size="12" text-anchor="end" font-family="Liberation Sans, sans-serif" fill="#111">0.05</text>
<path d="M505.20,535.40H511.10" stroke="#222" stroke-width="1"/>
<text x="500.30" y="539.90" font-size="12" text-anchor="end" font-family="Liberation Sans, sans-serif" fill="#111">0.10</text>
<path d="M505.20,477.00H511.10" stroke="#222" stroke-width="1"/>
<text x="500.30" y="481.50" font-size="12" text-anchor="end" font-family="Liberation Sans, sans-serif" fill="#111">0.15</text>
<path d="M511.10,652.20V657.80" stroke="#222" stroke-width="1"/>
<path d="M550.95,652.20V657.80" stroke="#222" stroke-width="1"/>
<path d="M590.80,652.20V657.80" stroke="#222" stroke-width="1"/>
<path d="M630.65,652.20V657.80" stroke="#222" stroke-width="1"/>
<path d="M670.50,652.20V657.80" stroke="#222" stroke-width="1"/>
<text x="590.80" y="471.60" font-size="13.6" text-anchor="middle" font-family="Liberation Sans, sans-serif" fill="#111">2013 Autumn</text>
<rect x="58.90" y="704.30" width="31.55" height="175.00" fill="#b3b3b3"/>
<rect x="180.55" y="704.30" width="37.85" height="175.00" fill="#b3b3b3"/>
<path d="M60.6 874.6v4.7M62.2 874.6v4.7M65.0 874.6v4.7M66.8 874.6v4.7M68.7 874.6v4.7M70.0 874.6v4.7M71.6 874.6v4.7M72.8 874.6v4.7M74.9 874.6v4.7M75.6 874.6v4.7M77.7 874.6v4.7M78.1 874.6v4.7M79.2 874.6v4.7M80.2 874.6v4.7M80.9 874.6v4.7M81.5 874.6v4.7M82.1 874.6v4.7M82.4 874.6v4.7M83.1 874.6v4.7M83.6 874.6v4.7M84.0 874.6v4.7M84.9 874.6v4.7M85.4 874.6v4.7M86.0 874.6v4.7M86.2 874.6v4.7M87.0 874.6v4.7M87.4 874.6v4.7M87.7 874.6v4.7M87.9 874.6v4.7M88.5 874.6v4.7M88.7 874.6v4.7M89.3 874.6v4.7M89.3 874.6v4.7M90.0 874.6v4.7M90.5 874.6v4.7M90.8 874.6v4.7M91.1 874.6v4.7M91.6 874.6v4.7M91.8 874.6v4.7M92.5 874.6v4.7M92.7 874.6v4.7M93.1 874.6v4.7M93.5 874.6v4.7M94.0 874.6v4.7M94.3 874.6v4.7M94.7 874.6v4.7M94.9 874.6v4.7M95.6 874.6v4.7M95.6 874.6v4.7M96.1 874.6v4.7M96.8 874.6v4.7M97.4 874.6v4.7M98.1 874.6v4.7M98.5 874.6v4.7M98.9 874.6v4.7M99.7 874.6v4.7M100.0 874.6v4.7M101.0 874.6v4.7M101.2 874.6v4.7M102.2 874.6v4.7M103.0 874.6v4.7M103.8 874.6v4.7M105.3 874.6v4.7M106.1 874.6v4.7M106.7 874.6v4.7M107.8 874.6v4.7M109.6 874.6v4.7M112.2 874.6v4.7M115.8 874.6v4.7M118.5 874.6v4.7M123.8 874.6v4.7M129.3 874.6v4.7M139.3 874.6v4.7M143.3 874.6v4.7M147.7 874.6v4.7M148.9 874.6v4.7M153.8 874.6v4.7M157.4 874.6v4.7M160.9 874.6v4.7M162.8 874.6v4.7M165.1 874.6v4.7M167.2 874.6v4.7M168.4 874.6v4.7M169.6 874.6v4.7M171.1 874.6v4.7M171.6 874.6v4.7M173.0 874.6v4.7M173.7 874.6v4.7M174.1 874.6v4.7M174.8 874.6v4.7M175.2 874.6v4.7M175.9 874.6v4.7M176.2 874.6v4.7M177.0 874.6v4.7M177.7 874.6v4.7M177.8 874.6v4.7M178.5 874.6v4.7M179.3 874.6v4.7M179.8 874.6v4.7M180.0 874.6v4.7M180.4 874.6v4.7M180.6 874.6v4.7M181.4 874.6v4.7M182.0 874.6v4.7M182.2 874.6v4.7M182.9 874.6v4.7M183.5 874.6v4.7M183.5 874.6v4.7M184.0 874.6v4.7M184.4 874.6v4.7M185.1 874.6v4.7M185.4 874.6v4.7M185.9 874.6v4.7M186.4 874.6v4.7M186.8 874.6v4.7M187.2 874.6v4.7M187.5 874.6v4.7M188.2 874.6v4.7M188.7 874.6v4.7M189.4 874.6v4.7M189.4 874.6v4.7M190.2 874.6v4.7M191.0 874.6v4.7M191.3 874.6v4.7M192.2 874.6v4.7M192.7 874.6v4.7M193.1 874.6v4.7M194.3 874.6v4.7M195.5 874.6v4.7M196.4 874.6v4.7M197.5 874.6v4.7M198.9 874.6v4.7M200.8 874.6v4.7M201.9 874.6v4.7M204.6 874.6v4.7M206.5 874.6v4.7M210.8 874.6v4.7M213.4 874.6v4.7M215.0 874.6v4.7M217.0 874.6v4.7" stroke="#000" stroke-width="0.9" stroke-opacity="0.9" fill="none"/>
<path d="M90.45,704.30V879.30M180.55,704.30V879.30" stroke="#000" stroke-width="1" fill="none"/>
<path d="M59.00,855.00 C59.62,855.00 61.53,855.50 62.70,855.00 C63.87,854.50 65.12,852.92 66.00,852.00 C66.88,851.08 67.30,850.35 68.00,849.50 C68.70,848.65 69.43,848.07 70.20,846.90 C70.97,845.73 71.72,844.40 72.60,842.50 C73.48,840.60 74.65,838.58 75.50,835.50 C76.35,832.42 77.03,827.87 77.70,824.00 C78.37,820.13 78.98,816.15 79.50,812.30 C80.02,808.45 80.33,804.72 80.80,800.90 C81.27,797.08 81.80,793.23 82.30,789.40 C82.80,785.57 83.32,781.72 83.80,777.90 C84.28,774.08 84.78,770.07 85.20,766.50 C85.62,762.93 85.93,759.58 86.30,756.50 C86.67,753.42 87.07,750.67 87.40,748.00 C87.73,745.33 87.93,742.97 88.30,740.50 C88.67,738.03 89.13,734.82 89.60,733.20 C90.07,731.58 90.62,730.83 91.10,730.80 C91.58,730.77 92.02,731.38 92.50,733.00 C92.98,734.62 93.55,737.83 94.00,740.50 C94.45,743.17 94.87,746.42 95.20,749.00 C95.53,751.58 95.67,753.08 96.00,756.00 C96.33,758.92 96.72,762.85 97.20,766.50 C97.68,770.15 98.37,774.08 98.90,777.90 C99.43,781.72 99.92,785.57 100.40,789.40 C100.88,793.23 101.32,797.08 101.80,800.90 C102.28,804.72 102.82,808.48 103.30,812.30 C103.78,816.12 104.18,819.98 104.70,823.80 C105.22,827.62 105.80,831.92 106.40,835.20 C107.00,838.48 107.72,841.05 108.30,843.50 C108.88,845.95 109.25,847.75 109.90,849.90 C110.55,852.05 111.35,854.45 112.20,856.40 C113.05,858.35 113.98,860.18 115.00,861.60 C116.02,863.02 117.13,863.88 118.30,864.90 C119.47,865.92 120.75,866.82 122.00,867.70 C123.25,868.58 124.55,869.50 125.80,870.20 C127.05,870.90 128.33,871.55 129.50,871.90 C130.67,872.25 131.72,872.47 132.80,872.30 C133.88,872.13 134.83,871.60 136.00,870.90 C137.17,870.20 138.55,868.92 139.80,868.10 C141.05,867.28 142.25,866.70 143.50,866.00 C144.75,865.30 146.05,864.53 147.30,863.90 C148.55,863.27 149.92,862.53 151.00,862.20 C152.08,861.87 152.87,861.83 153.80,861.90 C154.73,861.97 155.68,862.38 156.60,862.60 C157.52,862.82 158.48,863.33 159.30,863.20 C160.12,863.07 160.85,862.37 161.50,861.80 C162.15,861.23 162.62,860.92 163.20,859.80 C163.78,858.68 164.45,856.98 165.00,855.10 C165.55,853.22 166.02,850.85 166.50,848.50 C166.98,846.15 167.47,843.50 167.90,841.00 C168.33,838.50 168.72,836.15 169.10,833.50 C169.48,830.85 169.83,827.92 170.20,825.10 C170.57,822.28 170.90,819.58 171.30,816.60 C171.70,813.62 172.18,810.30 172.60,807.20 C173.02,804.10 173.38,801.12 173.80,798.00 C174.22,794.88 174.70,791.50 175.10,788.50 C175.50,785.50 175.75,783.05 176.20,780.00 C176.65,776.95 177.23,773.23 177.80,770.20 C178.37,767.17 179.00,764.50 179.60,761.80 C180.20,759.10 180.75,755.70 181.40,754.00 C182.05,752.30 182.80,751.60 183.50,751.60 C184.20,751.60 184.95,752.30 185.60,754.00 C186.25,755.70 186.85,759.10 187.40,761.80 C187.95,764.50 188.40,767.20 188.90,770.20 C189.40,773.20 189.95,776.60 190.40,779.80 C190.85,783.00 191.20,786.12 191.60,789.40 C192.00,792.68 192.25,794.98 192.80,799.50 C193.35,804.02 194.18,810.85 194.90,816.50 C195.62,822.15 196.22,828.07 197.10,833.40 C197.98,838.73 199.18,844.48 200.20,848.50 C201.22,852.52 202.20,855.50 203.20,857.50 C204.20,859.50 205.20,860.25 206.20,860.50 C207.20,860.75 208.07,859.75 209.20,859.00 C210.33,858.25 211.75,856.80 213.00,856.00 C214.25,855.20 215.83,854.50 216.70,854.20 C217.57,853.90 217.95,854.20 218.20,854.20" stroke="#000" stroke-width="1.25" fill="none" stroke-linejoin="round"/>
<rect x="58.90" y="704.30" width="159.50" height="175.00" fill="none" stroke="#222" stroke-width="1"/>
<path d="M53.00,879.30H58.90" stroke="#222" stroke-width="1"/>
<text x="48.10" y="883.80" font-size="12" text-anchor="end" font-family="Liberation Sans, sans-serif" fill="#111">0.00</text>
<path d="M53.00,820.97H58.90" stroke="#222" stroke-width="1"/>
<text x="48.10" y="825.47" font-size="12" text-anchor="end" font-family="Liberation Sans, sans-serif" fill="#111">0.05</text>
<path d="M53.00,762.63H58.90" stroke="#222" stroke-width="1"/>
<text x="48.10" y="767.13" font-size="12" text-anchor="end" font-family="Liberation Sans, sans-serif" fill="#111">0.10</text>
<path d="M53.00,704.30H58.90" stroke="#222" stroke-width="1"/>
<text x="48.10" y="708.80" font-size="12" text-anchor="end" font-family="Liberation Sans, sans-serif" fill="#111">0.15</text>
<path d="M58.90,879.30V884.90" stroke="#222" stroke-width="1"/>
<path d="M98.78,879.30V884.90" stroke="#222" stroke-width="1"/>
<path d="M138.65,879.30V884.90" stroke="#222" stroke-width="1"/>
<path d="M178.53,879.30V884.90" stroke="#222" stroke-width="1"/>
<path d="M218.40,879.30V884.90" stroke="#222" stroke-width="1"/>
<text x="58.90" y="898.80" font-size="12" text-anchor="middle" font-family="Liberation Sans, sans-serif" fill="#111">0:00</text>
<text x="138.65" y="898.80" font-size="12" text-anchor="middle" font-family="Liberation Sans, sans-serif" fill="#111">12:00</text>
<text x="218.40" y="898.80" font-size="12" text-anchor="middle" font-family="Liberation Sans, sans-serif" fill="#111">24:00</text>
<text x="138.65" y="912.70" font-size="13.5" text-anchor="middle" font-family="Liberation Sans, sans-serif" fill="#111">Time of Day</text>
<text x="138.65" y="698.90" font-size="13.6" text-anchor="middle" font-family="Liberation Sans, sans-serif" fill="#111">2014 Spring</text>
<rect x="284.50" y="704.30" width="28.35" height="175.00" fill="#b3b3b3"/>
<rect x="409.60" y="704.30" width="33.90" height="175.00" fill="#b3b3b3"/>
<path d="M284.7 874.6v4.7M284.8 874.6v4.7M285.6 874.6v4.7M286.1 874.6v4.7M286.4 874.6v4.7M286.9 874.6v4.7M287.9 874.6v4.7M287.7 874.6v4.7M288.4 874.6v4.7M289.0 874.6v4.7M289.5 874.6v4.7M289.9 874.6v4.7M290.2 874.6v4.7M290.8 874.6v4.7M291.2 874.6v4.7M291.9 874.6v4.7M292.1 874.6v4.7M292.6 874.6v4.7M292.9 874.6v4.7M293.8 874.6v4.7M293.9 874.6v4.7M294.6 874.6v4.7M294.7 874.6v4.7M295.3 874.6v4.7M295.6 874.6v4.7M296.3 874.6v4.7M296.6 874.6v4.7M297.2 874.6v4.7M297.4 874.6v4.7M298.0 874.6v4.7M298.5 874.6v4.7M298.5 874.6v4.7M299.1 874.6v4.7M299.5 874.6v4.7M300.0 874.6v4.7M300.4 874.6v4.7M300.9 874.6v4.7M301.1 874.6v4.7M301.8 874.6v4.7M301.9 874.6v4.7M302.5 874.6v4.7M302.8 874.6v4.7M303.2 874.6v4.7M303.7 874.6v4.7M304.0 874.6v4.7M304.2 874.6v4.7M304.5 874.6v4.7M304.7 874.6v4.7M305.2 874.6v4.7M305.7 874.6v4.7M306.1 874.6v4.7M306.3 874.6v4.7M306.6 874.6v4.7M307.0 874.6v4.7M307.4 874.6v4.7M307.4 874.6v4.7M307.7 874.6v4.7M308.2 874.6v4.7M308.4 874.6v4.7M308.8 874.6v4.7M309.1 874.6v4.7M309.2 874.6v4.7M309.5 874.6v4.7M309.9 874.6v4.7M309.9 874.6v4.7M310.5 874.6v4.7M310.9 874.6v4.7M311.0 874.6v4.7M310.9 874.6v4.7M311.2 874.6v4.7M311.5 874.6v4.7M311.8 874.6v4.7M312.1 874.6v4.7M312.2 874.6v4.7M312.4 874.6v4.7M312.9 874.6v4.7M313.0 874.6v4.7M313.2 874.6v4.7M313.6 874.6v4.7M313.7 874.6v4.7M313.9 874.6v4.7M314.1 874.6v4.7M314.3 874.6v4.7M314.7 874.6v4.7M315.0 874.6v4.7M315.2 874.6v4.7M315.4 874.6v4.7M315.7 874.6v4.7M315.8 874.6v4.7M315.9 874.6v4.7M316.3 874.6v4.7M316.7 874.6v4.7M316.7 874.6v4.7M316.9 874.6v4.7M317.2 874.6v4.7M317.5 874.6v4.7M317.8 874.6v4.7M318.2 874.6v4.7M318.5 874.6v4.7M318.8 874.6v4.7M319.0 874.6v4.7M319.2 874.6v4.7M319.5 874.6v4.7M319.7 874.6v4.7M320.0 874.6v4.7M320.5 874.6v4.7M320.4 874.6v4.7M320.9 874.6v4.7M321.3 874.6v4.7M321.5 874.6v4.7M322.0 874.6v4.7M322.2 874.6v4.7M322.3 874.6v4.7M322.6 874.6v4.7M322.9 874.6v4.7M323.6 874.6v4.7M323.4 874.6v4.7M324.3 874.6v4.7M324.2 874.6v4.7M324.6 874.6v4.7M325.3 874.6v4.7M325.1 874.6v4.7M325.7 874.6v4.7M326.3 874.6v4.7M326.3 874.6v4.7M327.0 874.6v4.7M327.3 874.6v4.7M327.8 874.6v4.7M328.3 874.6v4.7M328.5 874.6v4.7M328.9 874.6v4.7M329.3 874.6v4.7M329.9 874.6v4.7M330.1 874.6v4.7M330.7 874.6v4.7M331.3 874.6v4.7M331.8 874.6v4.7M332.5 874.6v4.7M332.9 874.6v4.7M333.1 874.6v4.7M334.1 874.6v4.7M334.9 874.6v4.7M335.5 874.6v4.7M336.1 874.6v4.7M336.2 874.6v4.7M337.1 874.6v4.7M338.5 874.6v4.7M339.0 874.6v4.7M339.5 874.6v4.7M340.9 874.6v4.7M341.7 874.6v4.7M342.6 874.6v4.7M344.1 874.6v4.7M344.7 874.6v4.7M346.1 874.6v4.7M348.8 874.6v4.7M350.0 874.6v4.7M351.2 874.6v4.7M354.0 874.6v4.7M358.3 874.6v4.7M360.7 874.6v4.7M365.9 874.6v4.7M367.1 874.6v4.7M370.2 874.6v4.7M377.9 874.6v4.7M379.9 874.6v4.7M383.3 874.6v4.7M384.2 874.6v4.7M387.1 874.6v4.7M389.2 874.6v4.7M389.6 874.6v4.7M390.9 874.6v4.7M392.6 874.6v4.7M393.8 874.6v4.7M394.2 874.6v4.7M395.6 874.6v4.7M395.9 874.6v4.7M396.9 874.6v4.7M397.5 874.6v4.7M398.0 874.6v4.7M398.6 874.6v4.7M399.5 874.6v4.7M399.4 874.6v4.7M400.3 874.6v4.7M400.8 874.6v4.7M401.3 874.6v4.7M402.0 874.6v4.7M402.3 874.6v4.7M402.8 874.6v4.7M402.9 874.6v4.7M403.6 874.6v4.7M403.9 874.6v4.7M404.4 874.6v4.7M404.8 874.6v4.7M405.1 874.6v4.7M405.9 874.6v4.7M405.6 874.6v4.7M406.1 874.6v4.7M406.4 874.6v4.7M407.1 874.6v4.7M407.4 874.6v4.7M407.6 874.6v4.7M408.0 874.6v4.7M408.6 874.6v4.7M408.8 874.6v4.7M409.0 874.6v4.7M409.3 874.6v4.7M409.6 874.6v4.7M409.9 874.6v4.7M410.2 874.6v4.7M410.6 874.6v4.7M410.6 874.6v4.7M411.2 874.6v4.7M411.5 874.6v4.7M411.8 874.6v4.7M412.0 874.6v4.7M412.2 874.6v4.7M412.7 874.6v4.7M412.9 874.6v4.7M413.2 874.6v4.7M413.5 874.6v4.7M413.7 874.6v4.7M414.0 874.6v4.7M414.3 874.6v4.7M414.4 874.6v4.7M415.0 874.6v4.7M415.3 874.6v4.7M415.2 874.6v4.7M415.7 874.6v4.7M416.0 874.6v4.7M416.1 874.6v4.7M416.5 874.6v4.7M417.0 874.6v4.7M417.1 874.6v4.7M417.5 874.6v4.7M417.7 874.6v4.7M418.0 874.6v4.7M418.4 874.6v4.7M418.6 874.6v4.7M419.0 874.6v4.7M419.4 874.6v4.7M419.6 874.6v4.7M419.4 874.6v4.7M420.0 874.6v4.7M420.4 874.6v4.7M420.6 874.6v4.7M420.9 874.6v4.7M421.3 874.6v4.7M421.7 874.6v4.7M422.0 874.6v4.7M422.0 874.6v4.7M422.4 874.6v4.7M422.7 874.6v4.7M423.3 874.6v4.7M423.5 874.6v4.7M423.8 874.6v4.7M424.1 874.6v4.7M424.4 874.6v4.7M425.1 874.6v4.7M425.3 874.6v4.7M425.4 874.6v4.7M426.1 874.6v4.7M426.7 874.6v4.7M426.7 874.6v4.7M427.6 874.6v4.7M428.0 874.6v4.7M428.0 874.6v4.7M428.8 874.6v4.7M429.2 874.6v4.7M429.7 874.6v4.7M430.2 874.6v4.7M430.8 874.6v4.7M431.1 874.6v4.7M431.6 874.6v4.7M432.0 874.6v4.7M432.4 874.6v4.7M433.1 874.6v4.7M433.7 874.6v4.7M433.6 874.6v4.7M434.3 874.6v4.7M435.1 874.6v4.7M435.5 874.6v4.7M435.8 874.6v4.7M436.2 874.6v4.7M436.4 874.6v4.7M437.3 874.6v4.7M437.5 874.6v4.7M438.1 874.6v4.7M438.3 874.6v4.7M438.9 874.6v4.7M439.6 874.6v4.7M439.8 874.6v4.7M440.2 874.6v4.7M440.8 874.6v4.7M441.3 874.6v4.7M441.6 874.6v4.7M441.9 874.6v4.7M442.7 874.6v4.7M443.0 874.6v4.7M443.1 874.6v4.7" stroke="#000" stroke-width="0.9" stroke-opacity="0.9" fill="none"/>
<path d="M312.85,704.30V879.30M409.60,704.30V879.30" stroke="#000" stroke-width="1" fill="none"/>
<path d="M284.70,824.50 C285.18,824.62 286.50,825.35 287.60,825.20 C288.70,825.05 290.07,824.13 291.30,823.60 C292.53,823.07 293.88,822.62 295.00,822.00 C296.12,821.38 296.98,820.97 298.00,819.90 C299.02,818.83 300.17,817.35 301.10,815.60 C302.03,813.85 302.77,812.08 303.60,809.40 C304.43,806.72 305.28,803.20 306.10,799.50 C306.92,795.80 307.68,791.10 308.50,787.20 C309.32,783.30 310.17,778.87 311.00,776.10 C311.83,773.33 312.68,771.02 313.50,770.60 C314.32,770.18 315.08,771.87 315.90,773.60 C316.72,775.33 317.47,777.70 318.40,781.00 C319.33,784.30 320.47,789.48 321.50,793.40 C322.53,797.32 323.58,800.80 324.60,804.50 C325.62,808.20 326.58,811.90 327.60,815.60 C328.62,819.30 329.67,823.23 330.70,826.70 C331.73,830.17 332.83,833.63 333.80,836.40 C334.77,839.17 335.70,841.37 336.50,843.30 C337.30,845.23 337.80,846.22 338.60,848.00 C339.40,849.78 340.27,852.17 341.30,854.00 C342.33,855.83 343.63,857.52 344.80,859.00 C345.97,860.48 347.13,861.58 348.30,862.90 C349.47,864.22 350.63,865.65 351.80,866.90 C352.97,868.15 354.13,869.48 355.30,870.40 C356.47,871.32 357.63,872.03 358.80,872.40 C359.97,872.77 360.92,872.72 362.30,872.60 C363.68,872.48 365.65,871.70 367.10,871.70 C368.55,871.70 369.77,872.33 371.00,872.60 C372.23,872.87 373.33,873.30 374.50,873.30 C375.67,873.30 376.83,873.08 378.00,872.60 C379.17,872.12 380.33,871.28 381.50,870.40 C382.67,869.52 383.82,868.55 385.00,867.30 C386.18,866.05 387.68,864.25 388.60,862.90 C389.52,861.55 389.78,860.60 390.50,859.20 C391.22,857.80 392.10,856.47 392.90,854.50 C393.70,852.53 394.45,850.10 395.30,847.40 C396.15,844.70 397.10,841.52 398.00,838.30 C398.90,835.08 399.80,831.40 400.70,828.10 C401.60,824.80 402.52,821.70 403.40,818.50 C404.28,815.30 405.12,812.02 406.00,808.90 C406.88,805.78 407.80,802.48 408.70,799.80 C409.60,797.12 410.50,794.77 411.40,792.80 C412.30,790.83 413.30,789.03 414.10,788.00 C414.90,786.97 415.40,786.42 416.20,786.60 C417.00,786.78 418.00,787.35 418.90,789.10 C419.80,790.85 420.72,793.98 421.60,797.10 C422.48,800.22 423.32,804.23 424.20,807.80 C425.08,811.37 426.00,815.55 426.90,818.50 C427.80,821.45 428.88,824.17 429.60,825.50 C430.32,826.83 430.48,826.68 431.20,826.50 C431.92,826.32 433.02,825.20 433.90,824.40 C434.78,823.60 435.62,822.28 436.50,821.70 C437.38,821.12 438.38,820.87 439.20,820.90 C440.02,820.93 440.68,821.50 441.40,821.90 C442.12,822.30 443.15,823.07 443.50,823.30" stroke="#000" stroke-width="1.25" fill="none" stroke-linejoin="round"/>
<rect x="284.50" y="704.30" width="159.00" height="175.00" fill="none" stroke="#222" stroke-width="1"/>
<path d="M278.60,879.30H284.50" stroke="#222" stroke-width="1"/>
<text x="273.70" y="883.80" font-size="12" text-anchor="end" font-family="Liberation Sans, sans-serif" fill="#111">0.00</text>
<path d="M278.60,820.97H284.50" stroke="#222" stroke-width="1"/>
<text x="273.70" y="825.47" font-size="12" text-anchor="end" font-family="Liberation Sans, sans-serif" fill="#111">0.05</text>
<path d="M278.60,762.63H284.50" stroke="#222" stroke-width="1"/>
<text x="273.70" y="767.13" font-size="12" text-anchor="end" font-family="Liberation Sans, sans-serif" fill="#111">0.10</text>
<path d="M278.60,704.30H284.50" stroke="#222" stroke-width="1"/>
<text x="273.70" y="708.80" font-size="12" text-anchor="end" font-family="Liberation Sans, sans-serif" fill="#111">0.15</text>
<path d="M284.50,879.30V884.90" stroke="#222" stroke-width="1"/>
<path d="M324.25,879.30V884.90" stroke="#222" stroke-width="1"/>
<path d="M364.00,879.30V884.90" stroke="#222" stroke-width="1"/>
<path d="M403.75,879.30V884.90" stroke="#222" stroke-width="1"/>
<path d="M443.50,879.30V884.90" stroke="#222" stroke-width="1"/>
<text x="284.50" y="898.80" font-size="12" text-anchor="middle" font-family="Liberation Sans, sans-serif" fill="#111">0:00</text>
<text x="364.00" y="898.80" font-size="12" text-anchor="middle" font-family="Liberation Sans, sans-serif" fill="#111">12:00</text>
<text x="443.50" y="898.80" font-size="12" text-anchor="middle" font-family="Liberation Sans, sans-serif" fill="#111">24:00</text>
<text x="364.00" y="912.70" font-size="13.5" text-anchor="middle" font-family="Liberation Sans, sans-serif" fill="#111">Time of Day</text>
<text x="364.00" y="698.90" font-size="13.6" text-anchor="middle" font-family="Liberation Sans, sans-serif" fill="#111">2014 Summer</text>
<rect x="511.10" y="704.30" width="41.30" height="175.00" fill="#b3b3b3"/>
<rect x="622.05" y="704.30" width="48.45" height="175.00" fill="#b3b3b3"/>
<path d="M511.1 874.6v4.7M511.3 874.6v4.7M511.5 874.6v4.7M511.9 874.6v4.7M512.1 874.6v4.7M512.2 874.6v4.7M512.7 874.6v4.7M512.8 874.6v4.7M513.0 874.6v4.7M513.3 874.6v4.7M513.7 874.6v4.7M514.1 874.6v4.7M514.1 874.6v4.7M514.6 874.6v4.7M514.8 874.6v4.7M514.8 874.6v4.7M515.0 874.6v4.7M515.6 874.6v4.7M515.9 874.6v4.7M515.9 874.6v4.7M516.3 874.6v4.7M516.8 874.6v4.7M517.2 874.6v4.7M517.2 874.6v4.7M517.3 874.6v4.7M518.0 874.6v4.7M518.2 874.6v4.7M518.4 874.6v4.7M518.8 874.6v4.7M518.9 874.6v4.7M519.4 874.6v4.7M519.3 874.6v4.7M519.7 874.6v4.7M520.1 874.6v4.7M520.5 874.6v4.7M521.0 874.6v4.7M520.9 874.6v4.7M521.1 874.6v4.7M521.8 874.6v4.7M522.2 874.6v4.7M522.0 874.6v4.7M522.6 874.6v4.7M523.1 874.6v4.7M523.2 874.6v4.7M523.5 874.6v4.7M524.1 874.6v4.7M524.2 874.6v4.7M524.3 874.6v4.7M524.7 874.6v4.7M525.2 874.6v4.7M526.0 874.6v4.7M525.8 874.6v4.7M526.6 874.6v4.7M527.0 874.6v4.7M527.0 874.6v4.7M527.4 874.6v4.7M527.9 874.6v4.7M528.4 874.6v4.7M528.6 874.6v4.7M528.8 874.6v4.7M529.4 874.6v4.7M529.7 874.6v4.7M530.2 874.6v4.7M530.9 874.6v4.7M531.0 874.6v4.7M531.4 874.6v4.7M531.8 874.6v4.7M532.2 874.6v4.7M532.5 874.6v4.7M533.1 874.6v4.7M533.0 874.6v4.7M533.9 874.6v4.7M534.1 874.6v4.7M534.6 874.6v4.7M534.8 874.6v4.7M535.2 874.6v4.7M535.9 874.6v4.7M536.0 874.6v4.7M536.4 874.6v4.7M537.0 874.6v4.7M537.4 874.6v4.7M537.7 874.6v4.7M538.1 874.6v4.7M538.6 874.6v4.7M538.8 874.6v4.7M539.2 874.6v4.7M539.6 874.6v4.7M539.8 874.6v4.7M540.3 874.6v4.7M540.7 874.6v4.7M540.7 874.6v4.7M541.1 874.6v4.7M541.2 874.6v4.7M541.9 874.6v4.7M542.0 874.6v4.7M542.3 874.6v4.7M542.6 874.6v4.7M542.7 874.6v4.7M543.4 874.6v4.7M543.5 874.6v4.7M543.9 874.6v4.7M544.1 874.6v4.7M544.5 874.6v4.7M544.7 874.6v4.7M544.8 874.6v4.7M544.8 874.6v4.7M545.2 874.6v4.7M545.5 874.6v4.7M545.8 874.6v4.7M546.2 874.6v4.7M546.4 874.6v4.7M546.6 874.6v4.7M546.8 874.6v4.7M546.9 874.6v4.7M547.0 874.6v4.7M547.5 874.6v4.7M547.8 874.6v4.7M547.9 874.6v4.7M548.2 874.6v4.7M548.2 874.6v4.7M548.6 874.6v4.7M548.8 874.6v4.7M549.2 874.6v4.7M549.3 874.6v4.7M549.6 874.6v4.7M549.9 874.6v4.7M550.0 874.6v4.7M550.4 874.6v4.7M550.5 874.6v4.7M550.7 874.6v4.7M551.2 874.6v4.7M551.4 874.6v4.7M551.4 874.6v4.7M551.6 874.6v4.7M552.1 874.6v4.7M552.2 874.6v4.7M552.4 874.6v4.7M552.9 874.6v4.7M552.9 874.6v4.7M553.0 874.6v4.7M553.5 874.6v4.7M553.6 874.6v4.7M553.9 874.6v4.7M554.0 874.6v4.7M554.5 874.6v4.7M554.5 874.6v4.7M555.0 874.6v4.7M555.1 874.6v4.7M555.4 874.6v4.7M555.7 874.6v4.7M556.0 874.6v4.7M556.1 874.6v4.7M556.7 874.6v4.7M556.5 874.6v4.7M557.0 874.6v4.7M557.3 874.6v4.7M557.7 874.6v4.7M558.1 874.6v4.7M558.4 874.6v4.7M558.7 874.6v4.7M558.8 874.6v4.7M559.3 874.6v4.7M559.8 874.6v4.7M560.1 874.6v4.7M560.6 874.6v4.7M560.8 874.6v4.7M561.1 874.6v4.7M561.6 874.6v4.7M562.3 874.6v4.7M562.7 874.6v4.7M562.9 874.6v4.7M563.5 874.6v4.7M564.2 874.6v4.7M564.9 874.6v4.7M565.1 874.6v4.7M566.2 874.6v4.7M566.6 874.6v4.7M567.4 874.6v4.7M568.2 874.6v4.7M568.8 874.6v4.7M569.8 874.6v4.7M570.1 874.6v4.7M571.6 874.6v4.7M572.4 874.6v4.7M573.2 874.6v4.7M574.5 874.6v4.7M575.8 874.6v4.7M577.6 874.6v4.7M578.8 874.6v4.7M580.5 874.6v4.7M581.4 874.6v4.7M582.3 874.6v4.7M584.3 874.6v4.7M586.2 874.6v4.7M586.6 874.6v4.7M588.4 874.6v4.7M589.6 874.6v4.7M592.0 874.6v4.7M594.5 874.6v4.7M596.7 874.6v4.7M598.3 874.6v4.7M599.6 874.6v4.7M600.2 874.6v4.7M602.1 874.6v4.7M603.8 874.6v4.7M604.8 874.6v4.7M605.8 874.6v4.7M606.6 874.6v4.7M607.8 874.6v4.7M609.1 874.6v4.7M609.4 874.6v4.7M610.8 874.6v4.7M611.7 874.6v4.7M611.8 874.6v4.7M612.3 874.6v4.7M613.1 874.6v4.7M614.1 874.6v4.7M614.3 874.6v4.7M615.3 874.6v4.7M615.5 874.6v4.7M616.1 874.6v4.7M616.4 874.6v4.7M617.0 874.6v4.7M617.3 874.6v4.7M617.9 874.6v4.7M618.4 874.6v4.7M618.5 874.6v4.7M619.2 874.6v4.7M619.4 874.6v4.7M619.9 874.6v4.7M620.0 874.6v4.7M620.4 874.6v4.7M620.9 874.6v4.7M621.0 874.6v4.7M621.3 874.6v4.7M621.8 874.6v4.7M622.3 874.6v4.7M622.4 874.6v4.7M622.7 874.6v4.7M622.7 874.6v4.7M623.3 874.6v4.7M623.7 874.6v4.7M623.9 874.6v4.7M624.1 874.6v4.7M624.5 874.6v4.7M624.6 874.6v4.7M624.8 874.6v4.7M625.0 874.6v4.7M625.3 874.6v4.7M625.5 874.6v4.7M626.1 874.6v4.7M626.4 874.6v4.7M626.2 874.6v4.7M626.5 874.6v4.7M626.8 874.6v4.7M627.1 874.6v4.7M627.3 874.6v4.7M627.6 874.6v4.7M627.8 874.6v4.7M628.2 874.6v4.7M628.2 874.6v4.7M628.5 874.6v4.7M628.9 874.6v4.7M629.1 874.6v4.7M629.4 874.6v4.7M629.6 874.6v4.7M629.9 874.6v4.7M630.2 874.6v4.7M630.4 874.6v4.7M630.6 874.6v4.7M630.8 874.6v4.7M631.1 874.6v4.7M631.4 874.6v4.7M631.5 874.6v4.7M631.7 874.6v4.7M631.8 874.6v4.7M632.3 874.6v4.7M632.5 874.6v4.7M632.7 874.6v4.7M633.2 874.6v4.7M633.3 874.6v4.7M633.5 874.6v4.7M633.8 874.6v4.7M634.2 874.6v4.7M634.3 874.6v4.7M634.7 874.6v4.7M634.9 874.6v4.7M635.0 874.6v4.7M635.6 874.6v4.7M635.9 874.6v4.7M636.1 874.6v4.7M636.4 874.6v4.7M636.6 874.6v4.7M636.7 874.6v4.7M637.2 874.6v4.7M637.7 874.6v4.7M637.7 874.6v4.7M638.1 874.6v4.7M638.5 874.6v4.7M638.6 874.6v4.7M639.1 874.6v4.7M639.1 874.6v4.7M639.3 874.6v4.7M639.8 874.6v4.7M640.2 874.6v4.7M640.2 874.6v4.7M640.9 874.6v4.7M641.0 874.6v4.7M641.3 874.6v4.7M641.5 874.6v4.7M642.2 874.6v4.7M642.4 874.6v4.7M642.7 874.6v4.7M643.0 874.6v4.7M643.0 874.6v4.7M643.7 874.6v4.7M644.1 874.6v4.7M644.1 874.6v4.7M644.7 874.6v4.7M644.8 874.6v4.7M645.2 874.6v4.7M645.3 874.6v4.7M645.8 874.6v4.7M646.0 874.6v4.7M646.6 874.6v4.7M646.7 874.6v4.7M647.0 874.6v4.7M647.7 874.6v4.7M647.5 874.6v4.7M647.9 874.6v4.7M648.3 874.6v4.7M648.6 874.6v4.7M649.2 874.6v4.7M649.3 874.6v4.7M649.6 874.6v4.7M649.6 874.6v4.7M650.1 874.6v4.7M650.4 874.6v4.7M650.5 874.6v4.7M650.9 874.6v4.7M651.3 874.6v4.7M651.4 874.6v4.7M651.6 874.6v4.7M651.9 874.6v4.7M652.3 874.6v4.7M652.6 874.6v4.7M652.7 874.6v4.7M652.9 874.6v4.7M653.3 874.6v4.7M653.2 874.6v4.7M653.7 874.6v4.7M654.0 874.6v4.7M654.4 874.6v4.7M654.7 874.6v4.7M654.7 874.6v4.7M655.0 874.6v4.7M655.0 874.6v4.7M655.3 874.6v4.7M655.8 874.6v4.7M655.9 874.6v4.7M656.3 874.6v4.7M656.7 874.6v4.7M656.7 874.6v4.7M657.2 874.6v4.7M657.3 874.6v4.7M657.4 874.6v4.7M657.9 874.6v4.7M657.7 874.6v4.7M658.2 874.6v4.7M658.5 874.6v4.7M658.6 874.6v4.7M658.7 874.6v4.7M659.0 874.6v4.7M659.4 874.6v4.7M659.6 874.6v4.7M659.9 874.6v4.7M659.8 874.6v4.7M660.5 874.6v4.7M660.3 874.6v4.7M661.0 874.6v4.7M661.2 874.6v4.7M661.3 874.6v4.7M661.4 874.6v4.7M661.7 874.6v4.7M662.1 874.6v4.7M662.1 874.6v4.7M662.3 874.6v4.7M662.6 874.6v4.7M662.8 874.6v4.7M663.0 874.6v4.7M663.3 874.6v4.7M663.7 874.6v4.7M663.8 874.6v4.7M664.1 874.6v4.7M664.2 874.6v4.7M664.5 874.6v4.7M664.9 874.6v4.7M664.8 874.6v4.7M665.2 874.6v4.7M665.4 874.6v4.7M665.6 874.6v4.7M666.1 874.6v4.7M666.2 874.6v4.7M666.4 874.6v4.7M666.6 874.6v4.7M666.8 874.6v4.7M667.0 874.6v4.7M667.4 874.6v4.7M667.7 874.6v4.7M667.8 874.6v4.7M668.1 874.6v4.7M668.4 874.6v4.7M668.5 874.6v4.7M668.9 874.6v4.7M669.1 874.6v4.7M669.3 874.6v4.7M669.6 874.6v4.7M670.0 874.6v4.7M670.1 874.6v4.7M670.2 874.6v4.7" stroke="#000" stroke-width="0.9" stroke-opacity="0.9" fill="none"/>
<path d="M552.40,704.30V879.30M622.05,704.30V879.30" stroke="#000" stroke-width="1" fill="none"/>
<path d="M511.30,806.50 C511.68,806.85 512.75,807.63 513.60,808.60 C514.45,809.57 515.47,810.92 516.40,812.30 C517.33,813.68 518.27,815.35 519.20,816.90 C520.13,818.45 521.07,820.13 522.00,821.60 C522.93,823.07 523.87,824.32 524.80,825.70 C525.73,827.08 526.68,828.65 527.60,829.90 C528.52,831.15 529.35,832.45 530.30,833.20 C531.25,833.95 532.28,834.57 533.30,834.40 C534.32,834.23 535.50,833.27 536.40,832.20 C537.30,831.13 537.93,829.93 538.70,828.00 C539.47,826.07 540.23,823.22 541.00,820.60 C541.77,817.98 542.52,814.93 543.30,812.30 C544.08,809.67 544.92,806.82 545.70,804.80 C546.48,802.78 547.32,801.17 548.00,800.20 C548.68,799.23 549.10,798.85 549.80,799.00 C550.50,799.15 551.42,799.82 552.20,801.10 C552.98,802.38 553.73,804.37 554.50,806.70 C555.27,809.03 556.03,812.00 556.80,815.10 C557.57,818.20 558.33,821.90 559.10,825.30 C559.87,828.70 560.68,832.42 561.40,835.50 C562.12,838.58 562.72,841.33 563.40,843.80 C564.08,846.27 564.72,848.20 565.50,850.30 C566.28,852.40 567.12,854.70 568.10,856.40 C569.08,858.10 570.23,859.32 571.40,860.50 C572.57,861.68 573.87,862.65 575.10,863.50 C576.33,864.35 577.57,865.02 578.80,865.60 C580.03,866.18 581.27,866.65 582.50,867.00 C583.73,867.35 584.97,867.50 586.20,867.70 C587.43,867.90 588.67,868.00 589.90,868.20 C591.13,868.40 592.43,868.75 593.60,868.90 C594.77,869.05 595.82,869.25 596.90,869.10 C597.98,868.95 598.95,868.73 600.10,868.00 C601.25,867.27 602.57,866.02 603.80,864.70 C605.03,863.38 606.25,861.88 607.50,860.10 C608.75,858.32 610.13,856.25 611.30,854.00 C612.47,851.75 613.50,849.35 614.50,846.60 C615.50,843.85 616.45,840.43 617.30,837.50 C618.15,834.57 618.82,832.00 619.60,829.00 C620.38,826.00 621.22,822.60 622.00,819.50 C622.78,816.40 623.53,812.85 624.30,810.40 C625.07,807.95 625.80,806.00 626.60,804.80 C627.40,803.60 628.25,803.20 629.10,803.20 C629.95,803.20 630.80,803.75 631.70,804.80 C632.60,805.85 633.57,807.78 634.50,809.50 C635.43,811.22 636.37,813.32 637.30,815.10 C638.23,816.88 639.10,819.00 640.10,820.20 C641.10,821.40 642.30,822.23 643.30,822.30 C644.30,822.37 645.17,821.65 646.10,820.60 C647.03,819.55 647.97,817.70 648.90,816.00 C649.83,814.30 650.78,812.27 651.70,810.40 C652.62,808.53 653.48,806.27 654.40,804.80 C655.32,803.33 656.35,802.28 657.20,801.60 C658.05,800.92 658.65,800.78 659.50,800.70 C660.35,800.62 661.37,800.80 662.30,801.10 C663.23,801.40 664.17,802.03 665.10,802.50 C666.03,802.97 667.00,803.43 667.90,803.90 C668.80,804.37 670.07,805.07 670.50,805.30" stroke="#000" stroke-width="1.25" fill="none" stroke-linejoin="round"/>
<rect x="511.10" y="704.30" width="159.40" height="175.00" fill="none" stroke="#222" stroke-width="1"/>
<path d="M505.20,879.30H511.10" stroke="#222" stroke-width="1"/>
<text x="500.30" y="883.80" font-size="12" text-anchor="end" font-family="Liberation Sans, sans-serif" fill="#111">0.00</text>
<path d="M505.20,820.97H511.10" stroke="#222" stroke-width="1"/>
<text x="500.30" y="825.47" font-size="12" text-anchor="end" font-family="Liberation Sans, sans-serif" fill="#111">0.05</text>
<path d="M505.20,762.63H511.10" stroke="#222" stroke-width="1"/>
<text x="500.30" y="767.13" font-size="12" text-anchor="end" font-family="Liberation Sans, sans-serif" fill="#111">0.10</text>
<path d="M505.20,704.30H511.10" stroke="#222" stroke-width="1"/>
<text x="500.30" y="708.80" font-size="12" text-anchor="end" font-family="Liberation Sans, sans-serif" fill="#111">0.15</text>
<path d="M511.10,879.30V884.90" stroke="#222" stroke-width="1"/>
<path d="M550.95,879.30V884.90" stroke="#222" stroke-width="1"/>
<path d="M590.80,879.30V884.90" stroke="#222" stroke-width="1"/>
<path d="M630.65,879.30V884.90" stroke="#222" stroke-width="1"/>
<path d="M670.50,879.30V884.90" stroke="#222" stroke-width="1"/>
<text x="511.10" y="898.80" font-size="12" text-anchor="middle" font-family="Liberation Sans, sans-serif" fill="#111">0:00</text>
<text x="590.80" y="898.80" font-size="12" text-anchor="middle" font-family="Liberation Sans, sans-serif" fill="#111">12:00</text>
<text x="670.50" y="898.80" font-size="12" text-anchor="middle" font-family="Liberation Sans, sans-serif" fill="#111">24:00</text>
<text x="590.80" y="912.70" font-size="13.5" text-anchor="middle" font-family="Liberation Sans, sans-serif" fill="#111">Time of Day</text>
<text x="590.80" y="698.90" font-size="13.6" text-anchor="middle" font-family="Liberation Sans, sans-serif" fill="#111">2014 Autumn</text>
<text transform="translate(15,456) rotate(-90)" font-size="20.5" text-anchor="middle" font-family="Liberation Sans, sans-serif" fill="#111">Kernel density estimates of activity</text></svg>
</body></html>
